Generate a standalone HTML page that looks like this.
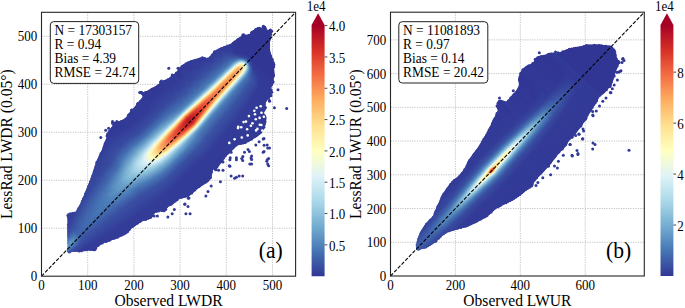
<!DOCTYPE html>
<html><head><meta charset="utf-8"><style>
html,body{margin:0;padding:0;background:#fff;width:685px;height:308px;overflow:hidden}
canvas,svg{position:absolute;left:0;top:0}
text{font-family:"Liberation Serif",serif;fill:#000}
</style></head><body>
<svg width="685" height="308"><g stroke="#b4b4b4" stroke-width="0.8" stroke-dasharray="1.2 1.2"><line x1="87.7" y1="12.3" x2="87.7" y2="276.2"/><line x1="133.9" y1="12.3" x2="133.9" y2="276.2"/><line x1="180.1" y1="12.3" x2="180.1" y2="276.2"/><line x1="226.3" y1="12.3" x2="226.3" y2="276.2"/><line x1="272.5" y1="12.3" x2="272.5" y2="276.2"/><line x1="41.5" y1="228.22" x2="295.6" y2="228.22"/><line x1="41.5" y1="180.24" x2="295.6" y2="180.24"/><line x1="41.5" y1="132.25" x2="295.6" y2="132.25"/><line x1="41.5" y1="84.27" x2="295.6" y2="84.27"/><line x1="41.5" y1="36.29" x2="295.6" y2="36.29"/><line x1="455.41" y1="12.2" x2="455.41" y2="276.0"/><line x1="520.32" y1="12.2" x2="520.32" y2="276.0"/><line x1="585.23" y1="12.2" x2="585.23" y2="276.0"/><line x1="390.5" y1="242.27" x2="644.3" y2="242.27"/><line x1="390.5" y1="208.53" x2="644.3" y2="208.53"/><line x1="390.5" y1="174.8" x2="644.3" y2="174.8"/><line x1="390.5" y1="141.06" x2="644.3" y2="141.06"/><line x1="390.5" y1="107.33" x2="644.3" y2="107.33"/><line x1="390.5" y1="73.6" x2="644.3" y2="73.6"/><line x1="390.5" y1="39.86" x2="644.3" y2="39.86"/></g></svg>
<svg width="685" height="308"><defs><linearGradient id="a0" x2="0" y2="1"><stop offset="0" stop-color="#313695"/><stop offset="0.589" stop-color="#313695"/><stop offset="1" stop-color="#313695"/></linearGradient><linearGradient id="a1" x2="0" y2="1"><stop offset="0" stop-color="#313695"/><stop offset="0.497" stop-color="#333b97"/><stop offset="1" stop-color="#313695"/></linearGradient><linearGradient id="a2" x2="0" y2="1"><stop offset="0" stop-color="#313695"/><stop offset="0.489" stop-color="#333b98"/><stop offset="1" stop-color="#313695"/></linearGradient><linearGradient id="a3" x2="0" y2="1"><stop offset="0" stop-color="#313695"/><stop offset="0.484" stop-color="#333b97"/><stop offset="0.532" stop-color="#333c98"/><stop offset="0.753" stop-color="#313695"/><stop offset="1" stop-color="#313695"/></linearGradient><linearGradient id="a4" x2="0" y2="1"><stop offset="0" stop-color="#313695"/><stop offset="0.482" stop-color="#333b98"/><stop offset="0.526" stop-color="#343f99"/><stop offset="0.621" stop-color="#313695"/><stop offset="1" stop-color="#313695"/></linearGradient><linearGradient id="a5" x2="0" y2="1"><stop offset="0" stop-color="#313695"/><stop offset="0.479" stop-color="#333b98"/><stop offset="0.524" stop-color="#34419a"/><stop offset="0.597" stop-color="#313795"/><stop offset="1" stop-color="#313695"/></linearGradient><linearGradient id="a6" x2="0" y2="1"><stop offset="0" stop-color="#313695"/><stop offset="0.476" stop-color="#333b98"/><stop offset="0.521" stop-color="#35439b"/><stop offset="0.587" stop-color="#313796"/><stop offset="1" stop-color="#313695"/></linearGradient><linearGradient id="a7" x2="0" y2="1"><stop offset="0" stop-color="#313695"/><stop offset="0.474" stop-color="#333b98"/><stop offset="0.518" stop-color="#36459d"/><stop offset="0.582" stop-color="#313896"/><stop offset="1" stop-color="#313695"/></linearGradient><linearGradient id="a8" x2="0" y2="1"><stop offset="0" stop-color="#313695"/><stop offset="0.474" stop-color="#333c98"/><stop offset="0.518" stop-color="#36479d"/><stop offset="0.576" stop-color="#323896"/><stop offset="1" stop-color="#313695"/></linearGradient><linearGradient id="a9" x2="0" y2="1"><stop offset="0" stop-color="#313695"/><stop offset="0.471" stop-color="#333b98"/><stop offset="0.516" stop-color="#37499e"/><stop offset="0.574" stop-color="#323896"/><stop offset="1" stop-color="#313695"/></linearGradient><linearGradient id="a10" x2="0" y2="1"><stop offset="0" stop-color="#313695"/><stop offset="0.468" stop-color="#333b98"/><stop offset="0.516" stop-color="#384b9f"/><stop offset="0.571" stop-color="#323996"/><stop offset="1" stop-color="#313695"/></linearGradient><linearGradient id="a11" x2="0" y2="1"><stop offset="0" stop-color="#313695"/><stop offset="0.466" stop-color="#333b98"/><stop offset="0.513" stop-color="#3a52a3"/><stop offset="0.566" stop-color="#323997"/><stop offset="1" stop-color="#313695"/></linearGradient><linearGradient id="a12" x2="0" y2="1"><stop offset="0" stop-color="#313695"/><stop offset="0.463" stop-color="#333b98"/><stop offset="0.492" stop-color="#3950a2"/><stop offset="0.513" stop-color="#3e5da8"/><stop offset="0.555" stop-color="#333c98"/><stop offset="0.955" stop-color="#313695"/><stop offset="1" stop-color="#313695"/></linearGradient><linearGradient id="a13" x2="0" y2="1"><stop offset="0" stop-color="#313695"/><stop offset="0.461" stop-color="#333b97"/><stop offset="0.487" stop-color="#394fa1"/><stop offset="0.508" stop-color="#4169ae"/><stop offset="0.524" stop-color="#3e5fa9"/><stop offset="0.55" stop-color="#34409a"/><stop offset="0.632" stop-color="#313796"/><stop offset="1" stop-color="#313695"/></linearGradient><linearGradient id="a14" x2="0" y2="1"><stop offset="0" stop-color="#313695"/><stop offset="0.461" stop-color="#333c98"/><stop offset="0.484" stop-color="#394fa1"/><stop offset="0.508" stop-color="#4574b4"/><stop offset="0.521" stop-color="#426caf"/><stop offset="0.547" stop-color="#35439b"/><stop offset="0.589" stop-color="#323896"/><stop offset="1" stop-color="#313695"/></linearGradient><linearGradient id="a15" x2="0" y2="1"><stop offset="0" stop-color="#313695"/><stop offset="0.458" stop-color="#333b98"/><stop offset="0.482" stop-color="#394ea1"/><stop offset="0.505" stop-color="#4b7db8"/><stop offset="0.516" stop-color="#4b7db8"/><stop offset="0.545" stop-color="#36479d"/><stop offset="0.574" stop-color="#323a97"/><stop offset="1" stop-color="#313695"/></linearGradient><linearGradient id="a16" x2="0" y2="1"><stop offset="0" stop-color="#313695"/><stop offset="0.458" stop-color="#333c98"/><stop offset="0.479" stop-color="#384ca0"/><stop offset="0.5" stop-color="#4c7db8"/><stop offset="0.511" stop-color="#578abf"/><stop offset="0.521" stop-color="#4c7db8"/><stop offset="0.542" stop-color="#384da0"/><stop offset="0.566" stop-color="#333b98"/><stop offset="1" stop-color="#313695"/></linearGradient><linearGradient id="a17" x2="0" y2="1"><stop offset="0" stop-color="#313695"/><stop offset="0.455" stop-color="#333c98"/><stop offset="0.479" stop-color="#394fa1"/><stop offset="0.497" stop-color="#4a7bb7"/><stop offset="0.508" stop-color="#598dc1"/><stop offset="0.518" stop-color="#5486bd"/><stop offset="0.532" stop-color="#4065ac"/><stop offset="0.55" stop-color="#36459c"/><stop offset="0.587" stop-color="#323997"/><stop offset="1" stop-color="#313695"/></linearGradient><linearGradient id="a18" x2="0" y2="1"><stop offset="0" stop-color="#313695"/><stop offset="0.453" stop-color="#333c98"/><stop offset="0.476" stop-color="#384da0"/><stop offset="0.495" stop-color="#4778b5"/><stop offset="0.508" stop-color="#5d92c3"/><stop offset="0.518" stop-color="#578bbf"/><stop offset="0.534" stop-color="#3f62ab"/><stop offset="0.553" stop-color="#36449c"/><stop offset="0.592" stop-color="#323997"/><stop offset="1" stop-color="#313695"/></linearGradient><linearGradient id="a19" x2="0" y2="1"><stop offset="0" stop-color="#313695"/><stop offset="0.45" stop-color="#333b98"/><stop offset="0.474" stop-color="#384ca0"/><stop offset="0.492" stop-color="#4574b4"/><stop offset="0.508" stop-color="#6196c5"/><stop offset="0.518" stop-color="#5b8fc1"/><stop offset="0.532" stop-color="#426db0"/><stop offset="0.55" stop-color="#37499e"/><stop offset="0.579" stop-color="#323b97"/><stop offset="1" stop-color="#313695"/></linearGradient><linearGradient id="a20" x2="0" y2="1"><stop offset="0" stop-color="#313695"/><stop offset="0.447" stop-color="#333b98"/><stop offset="0.474" stop-color="#394ea1"/><stop offset="0.492" stop-color="#4778b5"/><stop offset="0.505" stop-color="#6298c6"/><stop offset="0.516" stop-color="#6298c6"/><stop offset="0.534" stop-color="#4169ae"/><stop offset="0.553" stop-color="#37489e"/><stop offset="0.584" stop-color="#323a97"/><stop offset="1" stop-color="#313695"/></linearGradient><linearGradient id="a21" x2="0" y2="1"><stop offset="0" stop-color="#313695"/><stop offset="0.445" stop-color="#333b98"/><stop offset="0.474" stop-color="#394ea1"/><stop offset="0.495" stop-color="#4878b6"/><stop offset="0.508" stop-color="#5c90c2"/><stop offset="0.518" stop-color="#598cc0"/><stop offset="0.537" stop-color="#4064ac"/><stop offset="0.558" stop-color="#36469d"/><stop offset="0.6" stop-color="#323997"/><stop offset="1" stop-color="#313695"/></linearGradient><linearGradient id="a22" x2="0" y2="1"><stop offset="0" stop-color="#313695"/><stop offset="0.442" stop-color="#333b98"/><stop offset="0.474" stop-color="#394ea1"/><stop offset="0.5" stop-color="#4b7cb7"/><stop offset="0.513" stop-color="#5588be"/><stop offset="0.529" stop-color="#4575b4"/><stop offset="0.553" stop-color="#384da0"/><stop offset="0.584" stop-color="#333c98"/><stop offset="1" stop-color="#313695"/></linearGradient><linearGradient id="a23" x2="0" y2="1"><stop offset="0" stop-color="#313695"/><stop offset="0.439" stop-color="#333b98"/><stop offset="0.474" stop-color="#394ea1"/><stop offset="0.511" stop-color="#4c7db8"/><stop offset="0.526" stop-color="#4575b4"/><stop offset="0.558" stop-color="#374a9f"/><stop offset="0.597" stop-color="#323a97"/><stop offset="1" stop-color="#313695"/></linearGradient><linearGradient id="a24" x2="0" y2="1"><stop offset="0" stop-color="#313695"/><stop offset="0.437" stop-color="#333b98"/><stop offset="0.474" stop-color="#384ea1"/><stop offset="0.511" stop-color="#4574b3"/><stop offset="0.529" stop-color="#426baf"/><stop offset="0.568" stop-color="#36449c"/><stop offset="0.634" stop-color="#323896"/><stop offset="1" stop-color="#313695"/></linearGradient><linearGradient id="a25" x2="0" y2="1"><stop offset="0" stop-color="#313695"/><stop offset="0.434" stop-color="#333b98"/><stop offset="0.476" stop-color="#394fa1"/><stop offset="0.513" stop-color="#416aae"/><stop offset="0.542" stop-color="#3c5aa7"/><stop offset="0.584" stop-color="#343f9a"/><stop offset="0.771" stop-color="#313695"/><stop offset="1" stop-color="#313695"/></linearGradient><linearGradient id="a26" x2="0" y2="1"><stop offset="0" stop-color="#313695"/><stop offset="0.432" stop-color="#333c98"/><stop offset="0.479" stop-color="#3a51a2"/><stop offset="0.516" stop-color="#4065ac"/><stop offset="0.553" stop-color="#3a52a3"/><stop offset="0.6" stop-color="#333d98"/><stop offset="0.932" stop-color="#313695"/><stop offset="1" stop-color="#313695"/></linearGradient><linearGradient id="a27" x2="0" y2="1"><stop offset="0" stop-color="#313695"/><stop offset="0.429" stop-color="#333c98"/><stop offset="0.476" stop-color="#3950a2"/><stop offset="0.516" stop-color="#4066ad"/><stop offset="0.553" stop-color="#3b54a4"/><stop offset="0.6" stop-color="#333d99"/><stop offset="0.863" stop-color="#313695"/><stop offset="1" stop-color="#313695"/></linearGradient><linearGradient id="a28" x2="0" y2="1"><stop offset="0" stop-color="#313695"/><stop offset="0.424" stop-color="#333b98"/><stop offset="0.474" stop-color="#394fa2"/><stop offset="0.516" stop-color="#4167ad"/><stop offset="0.55" stop-color="#3c58a6"/><stop offset="0.6" stop-color="#343e99"/><stop offset="0.821" stop-color="#313695"/><stop offset="1" stop-color="#313695"/></linearGradient><linearGradient id="a29" x2="0" y2="1"><stop offset="0" stop-color="#313695"/><stop offset="0.421" stop-color="#333c98"/><stop offset="0.471" stop-color="#394fa1"/><stop offset="0.516" stop-color="#4169ae"/><stop offset="0.55" stop-color="#3d5ba7"/><stop offset="0.6" stop-color="#343f9a"/><stop offset="0.789" stop-color="#313695"/><stop offset="1" stop-color="#313695"/></linearGradient><linearGradient id="a30" x2="0" y2="1"><stop offset="0" stop-color="#313695"/><stop offset="0.418" stop-color="#333c98"/><stop offset="0.471" stop-color="#3950a2"/><stop offset="0.516" stop-color="#416aaf"/><stop offset="0.55" stop-color="#3d5da8"/><stop offset="0.603" stop-color="#34409a"/><stop offset="0.784" stop-color="#313695"/><stop offset="1" stop-color="#313695"/></linearGradient><linearGradient id="a31" x2="0" y2="1"><stop offset="0" stop-color="#313695"/><stop offset="0.416" stop-color="#333c98"/><stop offset="0.468" stop-color="#394fa1"/><stop offset="0.516" stop-color="#426baf"/><stop offset="0.55" stop-color="#3e5fa9"/><stop offset="0.605" stop-color="#34409a"/><stop offset="0.782" stop-color="#313695"/><stop offset="1" stop-color="#313695"/></linearGradient><linearGradient id="a32" x2="0" y2="1"><stop offset="0" stop-color="#313695"/><stop offset="0.411" stop-color="#333c98"/><stop offset="0.466" stop-color="#394fa1"/><stop offset="0.516" stop-color="#426cb0"/><stop offset="0.55" stop-color="#3f61aa"/><stop offset="0.605" stop-color="#35419b"/><stop offset="0.761" stop-color="#313695"/><stop offset="1" stop-color="#313695"/></linearGradient><linearGradient id="a33" x2="0" y2="1"><stop offset="0" stop-color="#313695"/><stop offset="0.408" stop-color="#333c98"/><stop offset="0.463" stop-color="#394ea1"/><stop offset="0.516" stop-color="#436eb0"/><stop offset="0.55" stop-color="#3f63ab"/><stop offset="0.608" stop-color="#35429b"/><stop offset="0.761" stop-color="#313695"/><stop offset="1" stop-color="#313695"/></linearGradient><linearGradient id="a34" x2="0" y2="1"><stop offset="0" stop-color="#313695"/><stop offset="0.405" stop-color="#333c98"/><stop offset="0.463" stop-color="#394fa1"/><stop offset="0.516" stop-color="#436fb1"/><stop offset="0.55" stop-color="#4065ac"/><stop offset="0.611" stop-color="#35429b"/><stop offset="0.758" stop-color="#313695"/><stop offset="1" stop-color="#313695"/></linearGradient><linearGradient id="a35" x2="0" y2="1"><stop offset="0" stop-color="#313695"/><stop offset="0.403" stop-color="#333c98"/><stop offset="0.461" stop-color="#394fa1"/><stop offset="0.516" stop-color="#4370b1"/><stop offset="0.55" stop-color="#4067ad"/><stop offset="0.613" stop-color="#35429b"/><stop offset="0.758" stop-color="#313695"/><stop offset="1" stop-color="#313695"/></linearGradient><linearGradient id="a36" x2="0" y2="1"><stop offset="0" stop-color="#313695"/><stop offset="0.4" stop-color="#333c98"/><stop offset="0.461" stop-color="#3950a2"/><stop offset="0.516" stop-color="#4471b2"/><stop offset="0.55" stop-color="#4169ae"/><stop offset="0.616" stop-color="#35439b"/><stop offset="0.758" stop-color="#313695"/><stop offset="1" stop-color="#313695"/></linearGradient><linearGradient id="a37" x2="0" y2="1"><stop offset="0" stop-color="#313695"/><stop offset="0.397" stop-color="#333c98"/><stop offset="0.458" stop-color="#394fa1"/><stop offset="0.518" stop-color="#4473b3"/><stop offset="0.555" stop-color="#4167ad"/><stop offset="0.618" stop-color="#35439b"/><stop offset="0.758" stop-color="#313695"/><stop offset="1" stop-color="#313695"/></linearGradient><linearGradient id="a38" x2="0" y2="1"><stop offset="0" stop-color="#313695"/><stop offset="0.395" stop-color="#333c98"/><stop offset="0.458" stop-color="#3950a2"/><stop offset="0.518" stop-color="#4574b3"/><stop offset="0.555" stop-color="#4169ae"/><stop offset="0.618" stop-color="#35449c"/><stop offset="0.747" stop-color="#313795"/><stop offset="1" stop-color="#313695"/></linearGradient><linearGradient id="a39" x2="0" y2="1"><stop offset="0" stop-color="#313695"/><stop offset="0.392" stop-color="#333c98"/><stop offset="0.455" stop-color="#3950a2"/><stop offset="0.518" stop-color="#4575b4"/><stop offset="0.555" stop-color="#426baf"/><stop offset="0.621" stop-color="#36449c"/><stop offset="0.75" stop-color="#313795"/><stop offset="1" stop-color="#313695"/></linearGradient><linearGradient id="a40" x2="0" y2="1"><stop offset="0" stop-color="#313695"/><stop offset="0.389" stop-color="#333c98"/><stop offset="0.455" stop-color="#3950a2"/><stop offset="0.518" stop-color="#4676b5"/><stop offset="0.555" stop-color="#426cb0"/><stop offset="0.621" stop-color="#36459c"/><stop offset="0.742" stop-color="#313796"/><stop offset="1" stop-color="#313695"/></linearGradient><linearGradient id="a41" x2="0" y2="1"><stop offset="0" stop-color="#313695"/><stop offset="0.387" stop-color="#333c98"/><stop offset="0.453" stop-color="#3950a2"/><stop offset="0.518" stop-color="#4778b5"/><stop offset="0.555" stop-color="#436eb1"/><stop offset="0.624" stop-color="#36459d"/><stop offset="0.747" stop-color="#313795"/><stop offset="1" stop-color="#313695"/></linearGradient><linearGradient id="a42" x2="0" y2="1"><stop offset="0" stop-color="#313695"/><stop offset="0.384" stop-color="#333c98"/><stop offset="0.45" stop-color="#394fa1"/><stop offset="0.518" stop-color="#4879b6"/><stop offset="0.555" stop-color="#4370b2"/><stop offset="0.624" stop-color="#36469d"/><stop offset="0.739" stop-color="#313796"/><stop offset="1" stop-color="#313695"/></linearGradient><linearGradient id="a43" x2="0" y2="1"><stop offset="0" stop-color="#313695"/><stop offset="0.382" stop-color="#333c98"/><stop offset="0.45" stop-color="#3950a2"/><stop offset="0.516" stop-color="#4979b6"/><stop offset="0.553" stop-color="#4473b3"/><stop offset="0.626" stop-color="#36469d"/><stop offset="0.745" stop-color="#313796"/><stop offset="1" stop-color="#313695"/></linearGradient><linearGradient id="a44" x2="0" y2="1"><stop offset="0" stop-color="#313695"/><stop offset="0.379" stop-color="#333c98"/><stop offset="0.447" stop-color="#394fa2"/><stop offset="0.516" stop-color="#497ab7"/><stop offset="0.553" stop-color="#4575b4"/><stop offset="0.629" stop-color="#36479d"/><stop offset="0.747" stop-color="#313796"/><stop offset="1" stop-color="#313695"/></linearGradient><linearGradient id="a45" x2="0" y2="1"><stop offset="0" stop-color="#313695"/><stop offset="0.376" stop-color="#333c98"/><stop offset="0.447" stop-color="#3950a2"/><stop offset="0.516" stop-color="#4a7bb7"/><stop offset="0.553" stop-color="#4677b5"/><stop offset="0.629" stop-color="#37489e"/><stop offset="0.742" stop-color="#323896"/><stop offset="1" stop-color="#313695"/></linearGradient><linearGradient id="a46" x2="0" y2="1"><stop offset="0" stop-color="#313695"/><stop offset="0.374" stop-color="#333c98"/><stop offset="0.445" stop-color="#3950a2"/><stop offset="0.516" stop-color="#4b7db8"/><stop offset="0.553" stop-color="#4878b6"/><stop offset="0.632" stop-color="#37489e"/><stop offset="0.747" stop-color="#323896"/><stop offset="1" stop-color="#313695"/></linearGradient><linearGradient id="a47" x2="0" y2="1"><stop offset="0" stop-color="#313695"/><stop offset="0.371" stop-color="#333c98"/><stop offset="0.445" stop-color="#3951a2"/><stop offset="0.516" stop-color="#4c7eb8"/><stop offset="0.553" stop-color="#497ab6"/><stop offset="0.634" stop-color="#37489e"/><stop offset="0.75" stop-color="#323896"/><stop offset="1" stop-color="#313695"/></linearGradient><linearGradient id="a48" x2="0" y2="1"><stop offset="0" stop-color="#313695"/><stop offset="0.368" stop-color="#333c98"/><stop offset="0.442" stop-color="#3950a2"/><stop offset="0.518" stop-color="#4e80ba"/><stop offset="0.555" stop-color="#497ab7"/><stop offset="0.634" stop-color="#37499e"/><stop offset="0.745" stop-color="#323896"/><stop offset="1" stop-color="#313695"/></linearGradient><linearGradient id="a49" x2="0" y2="1"><stop offset="0" stop-color="#313695"/><stop offset="0.368" stop-color="#333c98"/><stop offset="0.442" stop-color="#3951a2"/><stop offset="0.518" stop-color="#5183bb"/><stop offset="0.553" stop-color="#4d7eb9"/><stop offset="0.634" stop-color="#37499f"/><stop offset="0.742" stop-color="#323896"/><stop offset="1" stop-color="#313695"/></linearGradient><linearGradient id="a50" x2="0" y2="1"><stop offset="0" stop-color="#313695"/><stop offset="0.366" stop-color="#333c98"/><stop offset="0.439" stop-color="#3950a2"/><stop offset="0.503" stop-color="#4d7eb9"/><stop offset="0.537" stop-color="#5487bd"/><stop offset="0.587" stop-color="#4167ad"/><stop offset="0.645" stop-color="#36469d"/><stop offset="0.774" stop-color="#313796"/><stop offset="1" stop-color="#313695"/></linearGradient><linearGradient id="a51" x2="0" y2="1"><stop offset="0" stop-color="#313695"/><stop offset="0.363" stop-color="#333c98"/><stop offset="0.439" stop-color="#3a51a2"/><stop offset="0.497" stop-color="#4c7db8"/><stop offset="0.532" stop-color="#578bbf"/><stop offset="0.571" stop-color="#4677b5"/><stop offset="0.632" stop-color="#384ca0"/><stop offset="0.729" stop-color="#323997"/><stop offset="1" stop-color="#313695"/></linearGradient><linearGradient id="a52" x2="0" y2="1"><stop offset="0" stop-color="#313695"/><stop offset="0.361" stop-color="#333c98"/><stop offset="0.437" stop-color="#3950a2"/><stop offset="0.495" stop-color="#4c7eb8"/><stop offset="0.532" stop-color="#5a8ec1"/><stop offset="0.571" stop-color="#4979b6"/><stop offset="0.629" stop-color="#394ea1"/><stop offset="0.716" stop-color="#323b97"/><stop offset="1" stop-color="#313695"/></linearGradient><linearGradient id="a53" x2="0" y2="1"><stop offset="0" stop-color="#313695"/><stop offset="0.361" stop-color="#333c98"/><stop offset="0.437" stop-color="#3a51a2"/><stop offset="0.492" stop-color="#4d7eb9"/><stop offset="0.529" stop-color="#5d91c3"/><stop offset="0.563" stop-color="#5083bb"/><stop offset="0.603" stop-color="#3e60aa"/><stop offset="0.658" stop-color="#36449c"/><stop offset="0.803" stop-color="#313795"/><stop offset="1" stop-color="#313695"/></linearGradient><linearGradient id="a54" x2="0" y2="1"><stop offset="0" stop-color="#313695"/><stop offset="0.358" stop-color="#333c98"/><stop offset="0.434" stop-color="#3951a2"/><stop offset="0.487" stop-color="#4b7cb8"/><stop offset="0.526" stop-color="#5f94c4"/><stop offset="0.561" stop-color="#5588be"/><stop offset="0.6" stop-color="#4064ac"/><stop offset="0.653" stop-color="#36469d"/><stop offset="0.784" stop-color="#313796"/><stop offset="1" stop-color="#313695"/></linearGradient><linearGradient id="a55" x2="0" y2="1"><stop offset="0" stop-color="#313695"/><stop offset="0.355" stop-color="#333c98"/><stop offset="0.432" stop-color="#3950a2"/><stop offset="0.484" stop-color="#4b7cb8"/><stop offset="0.524" stop-color="#6197c5"/><stop offset="0.555" stop-color="#5b8fc1"/><stop offset="0.6" stop-color="#4066ad"/><stop offset="0.65" stop-color="#37489e"/><stop offset="0.771" stop-color="#323896"/><stop offset="1" stop-color="#313695"/></linearGradient><linearGradient id="a56" x2="0" y2="1"><stop offset="0" stop-color="#313695"/><stop offset="0.355" stop-color="#333c98"/><stop offset="0.429" stop-color="#3950a2"/><stop offset="0.482" stop-color="#4b7cb8"/><stop offset="0.524" stop-color="#649ac7"/><stop offset="0.555" stop-color="#5d92c3"/><stop offset="0.603" stop-color="#4067ad"/><stop offset="0.653" stop-color="#37489e"/><stop offset="0.774" stop-color="#313896"/><stop offset="1" stop-color="#313695"/></linearGradient><linearGradient id="a57" x2="0" y2="1"><stop offset="0" stop-color="#313695"/><stop offset="0.353" stop-color="#333c98"/><stop offset="0.426" stop-color="#3950a2"/><stop offset="0.479" stop-color="#4b7cb8"/><stop offset="0.521" stop-color="#669cc8"/><stop offset="0.553" stop-color="#6197c6"/><stop offset="0.603" stop-color="#4169ae"/><stop offset="0.653" stop-color="#37499e"/><stop offset="0.766" stop-color="#323896"/><stop offset="1" stop-color="#313695"/></linearGradient><linearGradient id="a58" x2="0" y2="1"><stop offset="0" stop-color="#313695"/><stop offset="0.35" stop-color="#333c98"/><stop offset="0.424" stop-color="#3950a2"/><stop offset="0.476" stop-color="#4b7cb8"/><stop offset="0.521" stop-color="#689fca"/><stop offset="0.553" stop-color="#649ac7"/><stop offset="0.605" stop-color="#4169ae"/><stop offset="0.655" stop-color="#37499e"/><stop offset="0.766" stop-color="#323896"/><stop offset="1" stop-color="#313695"/></linearGradient><linearGradient id="a59" x2="0" y2="1"><stop offset="0" stop-color="#313695"/><stop offset="0.35" stop-color="#333d98"/><stop offset="0.424" stop-color="#3950a2"/><stop offset="0.474" stop-color="#4b7cb8"/><stop offset="0.518" stop-color="#6ba3cc"/><stop offset="0.55" stop-color="#69a0ca"/><stop offset="0.608" stop-color="#4168ae"/><stop offset="0.655" stop-color="#37499e"/><stop offset="0.766" stop-color="#323896"/><stop offset="1" stop-color="#313695"/></linearGradient><linearGradient id="a60" x2="0" y2="1"><stop offset="0" stop-color="#313695"/><stop offset="0.347" stop-color="#333c98"/><stop offset="0.424" stop-color="#3950a2"/><stop offset="0.466" stop-color="#4575b4"/><stop offset="0.516" stop-color="#6fa7ce"/><stop offset="0.545" stop-color="#70a9cf"/><stop offset="0.584" stop-color="#5284bc"/><stop offset="0.611" stop-color="#4066ad"/><stop offset="0.655" stop-color="#37499e"/><stop offset="0.771" stop-color="#323896"/><stop offset="1" stop-color="#313695"/></linearGradient><linearGradient id="a61" x2="0" y2="1"><stop offset="0" stop-color="#313695"/><stop offset="0.345" stop-color="#333c98"/><stop offset="0.424" stop-color="#3a51a2"/><stop offset="0.463" stop-color="#4574b3"/><stop offset="0.513" stop-color="#73acd0"/><stop offset="0.542" stop-color="#77afd2"/><stop offset="0.574" stop-color="#5f94c4"/><stop offset="0.605" stop-color="#436db0"/><stop offset="0.647" stop-color="#384da0"/><stop offset="0.742" stop-color="#323a97"/><stop offset="1" stop-color="#313695"/></linearGradient><linearGradient id="a62" x2="0" y2="1"><stop offset="0" stop-color="#313695"/><stop offset="0.342" stop-color="#333c98"/><stop offset="0.421" stop-color="#3a51a2"/><stop offset="0.461" stop-color="#4473b3"/><stop offset="0.511" stop-color="#77afd2"/><stop offset="0.539" stop-color="#7eb5d5"/><stop offset="0.566" stop-color="#6ba2cb"/><stop offset="0.605" stop-color="#4370b1"/><stop offset="0.647" stop-color="#394fa1"/><stop offset="0.737" stop-color="#323b97"/><stop offset="1" stop-color="#313695"/></linearGradient><linearGradient id="a63" x2="0" y2="1"><stop offset="0" stop-color="#313695"/><stop offset="0.339" stop-color="#333c98"/><stop offset="0.416" stop-color="#3951a2"/><stop offset="0.458" stop-color="#4473b3"/><stop offset="0.511" stop-color="#7cb4d5"/><stop offset="0.537" stop-color="#84bad8"/><stop offset="0.566" stop-color="#6fa7ce"/><stop offset="0.608" stop-color="#4370b1"/><stop offset="0.653" stop-color="#394ea1"/><stop offset="0.742" stop-color="#323a97"/><stop offset="1" stop-color="#313695"/></linearGradient><linearGradient id="a64" x2="0" y2="1"><stop offset="0" stop-color="#313695"/><stop offset="0.339" stop-color="#333d98"/><stop offset="0.413" stop-color="#3a51a2"/><stop offset="0.461" stop-color="#497ab6"/><stop offset="0.508" stop-color="#7fb6d6"/><stop offset="0.534" stop-color="#8bbfdb"/><stop offset="0.561" stop-color="#7ab2d4"/><stop offset="0.611" stop-color="#4471b2"/><stop offset="0.658" stop-color="#384da1"/><stop offset="0.745" stop-color="#323a97"/><stop offset="1" stop-color="#313695"/></linearGradient><linearGradient id="a65" x2="0" y2="1"><stop offset="0" stop-color="#313695"/><stop offset="0.337" stop-color="#333d98"/><stop offset="0.408" stop-color="#3951a2"/><stop offset="0.458" stop-color="#4a7bb7"/><stop offset="0.508" stop-color="#85bbd8"/><stop offset="0.534" stop-color="#91c4de"/><stop offset="0.561" stop-color="#7fb6d6"/><stop offset="0.611" stop-color="#4676b4"/><stop offset="0.658" stop-color="#394fa1"/><stop offset="0.737" stop-color="#333b98"/><stop offset="1" stop-color="#313695"/></linearGradient><linearGradient id="a66" x2="0" y2="1"><stop offset="0" stop-color="#313695"/><stop offset="0.334" stop-color="#333c98"/><stop offset="0.405" stop-color="#3a51a2"/><stop offset="0.453" stop-color="#4a7bb7"/><stop offset="0.511" stop-color="#8dc1dc"/><stop offset="0.537" stop-color="#96c9e0"/><stop offset="0.563" stop-color="#81b8d7"/><stop offset="0.616" stop-color="#4575b4"/><stop offset="0.663" stop-color="#394ea1"/><stop offset="0.745" stop-color="#323b97"/><stop offset="1" stop-color="#313695"/></linearGradient><linearGradient id="a67" x2="0" y2="1"><stop offset="0" stop-color="#313695"/><stop offset="0.332" stop-color="#333c98"/><stop offset="0.403" stop-color="#3a51a2"/><stop offset="0.45" stop-color="#4c7db8"/><stop offset="0.511" stop-color="#93c6df"/><stop offset="0.537" stop-color="#9ccde3"/><stop offset="0.563" stop-color="#87bcd9"/><stop offset="0.618" stop-color="#4777b5"/><stop offset="0.663" stop-color="#3950a2"/><stop offset="0.737" stop-color="#333c98"/><stop offset="1" stop-color="#313695"/></linearGradient><linearGradient id="a68" x2="0" y2="1"><stop offset="0" stop-color="#313695"/><stop offset="0.332" stop-color="#333d98"/><stop offset="0.4" stop-color="#3a51a3"/><stop offset="0.445" stop-color="#4a7bb7"/><stop offset="0.5" stop-color="#8ec2dd"/><stop offset="0.524" stop-color="#a3d3e6"/><stop offset="0.55" stop-color="#9ccde3"/><stop offset="0.597" stop-color="#6095c4"/><stop offset="0.629" stop-color="#436eb0"/><stop offset="0.674" stop-color="#384b9f"/><stop offset="0.761" stop-color="#323a97"/><stop offset="1" stop-color="#313695"/></linearGradient><linearGradient id="a69" x2="0" y2="1"><stop offset="0" stop-color="#313695"/><stop offset="0.332" stop-color="#333d98"/><stop offset="0.397" stop-color="#3a51a2"/><stop offset="0.442" stop-color="#4b7cb8"/><stop offset="0.489" stop-color="#87bcd9"/><stop offset="0.516" stop-color="#a9d7e8"/><stop offset="0.542" stop-color="#aad8e9"/><stop offset="0.571" stop-color="#86bcd9"/><stop offset="0.621" stop-color="#4878b6"/><stop offset="0.663" stop-color="#3951a2"/><stop offset="0.732" stop-color="#333c98"/><stop offset="1" stop-color="#313695"/></linearGradient><linearGradient id="a70" x2="0" y2="1"><stop offset="0" stop-color="#313695"/><stop offset="0.329" stop-color="#333c98"/><stop offset="0.395" stop-color="#3a51a2"/><stop offset="0.437" stop-color="#4979b6"/><stop offset="0.484" stop-color="#86bcd9"/><stop offset="0.513" stop-color="#b0dcea"/><stop offset="0.537" stop-color="#b5deec"/><stop offset="0.558" stop-color="#a0d0e4"/><stop offset="0.603" stop-color="#5d92c3"/><stop offset="0.632" stop-color="#426cb0"/><stop offset="0.674" stop-color="#384b9f"/><stop offset="0.755" stop-color="#323a97"/><stop offset="1" stop-color="#313695"/></linearGradient><linearGradient id="a71" x2="0" y2="1"><stop offset="0" stop-color="#313695"/><stop offset="0.329" stop-color="#333c98"/><stop offset="0.392" stop-color="#3951a2"/><stop offset="0.434" stop-color="#497ab6"/><stop offset="0.479" stop-color="#85bad8"/><stop offset="0.508" stop-color="#b4deec"/><stop offset="0.532" stop-color="#bfe3ef"/><stop offset="0.553" stop-color="#aedbea"/><stop offset="0.6" stop-color="#6298c6"/><stop offset="0.632" stop-color="#426db0"/><stop offset="0.674" stop-color="#384b9f"/><stop offset="0.753" stop-color="#323a97"/><stop offset="1" stop-color="#313695"/></linearGradient><linearGradient id="a72" x2="0" y2="1"><stop offset="0" stop-color="#313695"/><stop offset="0.329" stop-color="#333c98"/><stop offset="0.389" stop-color="#3950a2"/><stop offset="0.432" stop-color="#497ab7"/><stop offset="0.476" stop-color="#87bcd9"/><stop offset="0.503" stop-color="#b7dfec"/><stop offset="0.524" stop-color="#c8e7f1"/><stop offset="0.545" stop-color="#bfe3ef"/><stop offset="0.566" stop-color="#9dcee3"/><stop offset="0.603" stop-color="#6096c5"/><stop offset="0.632" stop-color="#436eb0"/><stop offset="0.674" stop-color="#384b9f"/><stop offset="0.753" stop-color="#323997"/><stop offset="1" stop-color="#313695"/></linearGradient><linearGradient id="a73" x2="0" y2="1"><stop offset="0" stop-color="#313695"/><stop offset="0.329" stop-color="#333d98"/><stop offset="0.389" stop-color="#3a52a3"/><stop offset="0.429" stop-color="#4a7bb7"/><stop offset="0.471" stop-color="#85bad8"/><stop offset="0.497" stop-color="#b8dfed"/><stop offset="0.518" stop-color="#cfebf3"/><stop offset="0.539" stop-color="#cbe9f2"/><stop offset="0.563" stop-color="#a7d5e7"/><stop offset="0.6" stop-color="#669cc8"/><stop offset="0.632" stop-color="#436eb1"/><stop offset="0.671" stop-color="#384ca0"/><stop offset="0.742" stop-color="#323a97"/><stop offset="1" stop-color="#313695"/></linearGradient><linearGradient id="a74" x2="0" y2="1"><stop offset="0" stop-color="#313695"/><stop offset="0.326" stop-color="#333c98"/><stop offset="0.387" stop-color="#3a51a2"/><stop offset="0.426" stop-color="#4a7bb7"/><stop offset="0.468" stop-color="#87bcd9"/><stop offset="0.495" stop-color="#bce1ee"/><stop offset="0.516" stop-color="#d7eff5"/><stop offset="0.537" stop-color="#d5eef5"/><stop offset="0.558" stop-color="#b6deec"/><stop offset="0.597" stop-color="#6ba2cb"/><stop offset="0.632" stop-color="#436fb1"/><stop offset="0.671" stop-color="#384ca0"/><stop offset="0.742" stop-color="#323a97"/><stop offset="1" stop-color="#313695"/></linearGradient><linearGradient id="a75" x2="0" y2="1"><stop offset="0" stop-color="#313695"/><stop offset="0.326" stop-color="#333c98"/><stop offset="0.384" stop-color="#3a51a2"/><stop offset="0.424" stop-color="#4a7bb7"/><stop offset="0.463" stop-color="#84bad8"/><stop offset="0.492" stop-color="#c0e3ef"/><stop offset="0.513" stop-color="#dff2f8"/><stop offset="0.537" stop-color="#ddf1f7"/><stop offset="0.558" stop-color="#bae1ed"/><stop offset="0.597" stop-color="#6da4cc"/><stop offset="0.632" stop-color="#4370b1"/><stop offset="0.671" stop-color="#384ba0"/><stop offset="0.739" stop-color="#323a97"/><stop offset="1" stop-color="#313695"/></linearGradient><linearGradient id="a76" x2="0" y2="1"><stop offset="0" stop-color="#313695"/><stop offset="0.326" stop-color="#333c98"/><stop offset="0.384" stop-color="#3a51a3"/><stop offset="0.421" stop-color="#4979b6"/><stop offset="0.461" stop-color="#84bad8"/><stop offset="0.489" stop-color="#c8e7f1"/><stop offset="0.5" stop-color="#dff3f8"/><stop offset="0.518" stop-color="#ebf7e4"/><stop offset="0.537" stop-color="#e6f5ec"/><stop offset="0.547" stop-color="#daf0f6"/><stop offset="0.574" stop-color="#9acbe2"/><stop offset="0.605" stop-color="#6095c5"/><stop offset="0.632" stop-color="#436eb1"/><stop offset="0.671" stop-color="#374a9f"/><stop offset="0.742" stop-color="#323997"/><stop offset="1" stop-color="#313695"/></linearGradient><linearGradient id="a77" x2="0" y2="1"><stop offset="0" stop-color="#313695"/><stop offset="0.326" stop-color="#333c98"/><stop offset="0.382" stop-color="#3950a2"/><stop offset="0.418" stop-color="#4778b5"/><stop offset="0.455" stop-color="#7fb6d6"/><stop offset="0.484" stop-color="#c7e7f1"/><stop offset="0.492" stop-color="#ddf2f7"/><stop offset="0.511" stop-color="#f2fad6"/><stop offset="0.529" stop-color="#f3fad5"/><stop offset="0.545" stop-color="#e6f5ed"/><stop offset="0.55" stop-color="#ddf1f7"/><stop offset="0.582" stop-color="#89beda"/><stop offset="0.613" stop-color="#5487bd"/><stop offset="0.634" stop-color="#4169ae"/><stop offset="0.674" stop-color="#37489e"/><stop offset="0.753" stop-color="#323896"/><stop offset="1" stop-color="#313695"/></linearGradient><linearGradient id="a78" x2="0" y2="1"><stop offset="0" stop-color="#313695"/><stop offset="0.326" stop-color="#333c98"/><stop offset="0.382" stop-color="#3951a2"/><stop offset="0.418" stop-color="#497ab7"/><stop offset="0.453" stop-color="#7eb5d6"/><stop offset="0.479" stop-color="#c4e5f0"/><stop offset="0.487" stop-color="#ddf2f7"/><stop offset="0.505" stop-color="#f9fdca"/><stop offset="0.521" stop-color="#feffc0"/><stop offset="0.537" stop-color="#f6fccf"/><stop offset="0.553" stop-color="#dcf1f7"/><stop offset="0.579" stop-color="#8fc3dd"/><stop offset="0.605" stop-color="#5e92c3"/><stop offset="0.629" stop-color="#436eb0"/><stop offset="0.666" stop-color="#384b9f"/><stop offset="0.734" stop-color="#323a97"/><stop offset="1" stop-color="#313695"/></linearGradient><linearGradient id="a79" x2="0" y2="1"><stop offset="0" stop-color="#313695"/><stop offset="0.326" stop-color="#333c98"/><stop offset="0.382" stop-color="#3a51a2"/><stop offset="0.418" stop-color="#4b7cb8"/><stop offset="0.45" stop-color="#7eb5d5"/><stop offset="0.474" stop-color="#bee2ee"/><stop offset="0.484" stop-color="#e2f4f4"/><stop offset="0.5" stop-color="#feffc1"/><stop offset="0.516" stop-color="#fff6b2"/><stop offset="0.532" stop-color="#fffbb9"/><stop offset="0.542" stop-color="#f6fbd0"/><stop offset="0.553" stop-color="#e1f3f6"/><stop offset="0.579" stop-color="#8fc2dd"/><stop offset="0.605" stop-color="#5c91c2"/><stop offset="0.626" stop-color="#436fb1"/><stop offset="0.663" stop-color="#384b9f"/><stop offset="0.729" stop-color="#323a97"/><stop offset="1" stop-color="#313695"/></linearGradient><linearGradient id="a80" x2="0" y2="1"><stop offset="0" stop-color="#313695"/><stop offset="0.326" stop-color="#333c98"/><stop offset="0.379" stop-color="#3950a2"/><stop offset="0.413" stop-color="#4676b5"/><stop offset="0.447" stop-color="#7db4d5"/><stop offset="0.468" stop-color="#b7dfec"/><stop offset="0.479" stop-color="#dff2f8"/><stop offset="0.495" stop-color="#fffdbc"/><stop offset="0.508" stop-color="#feefa6"/><stop offset="0.526" stop-color="#feefa6"/><stop offset="0.539" stop-color="#fffebe"/><stop offset="0.555" stop-color="#dcf1f7"/><stop offset="0.576" stop-color="#95c7df"/><stop offset="0.6" stop-color="#6399c6"/><stop offset="0.626" stop-color="#426db0"/><stop offset="0.661" stop-color="#384ba0"/><stop offset="0.724" stop-color="#323a97"/><stop offset="1" stop-color="#313695"/></linearGradient><linearGradient id="a81" x2="0" y2="1"><stop offset="0" stop-color="#313695"/><stop offset="0.326" stop-color="#333c98"/><stop offset="0.379" stop-color="#3950a2"/><stop offset="0.413" stop-color="#4777b5"/><stop offset="0.445" stop-color="#79b1d3"/><stop offset="0.466" stop-color="#b4ddec"/><stop offset="0.476" stop-color="#def2f7"/><stop offset="0.489" stop-color="#ffffbe"/><stop offset="0.503" stop-color="#fee99e"/><stop offset="0.518" stop-color="#fee395"/><stop offset="0.532" stop-color="#feeba1"/><stop offset="0.545" stop-color="#fbfdc7"/><stop offset="0.555" stop-color="#e0f3f8"/><stop offset="0.574" stop-color="#9ccde3"/><stop offset="0.597" stop-color="#669dc9"/><stop offset="0.624" stop-color="#436fb1"/><stop offset="0.658" stop-color="#384ca0"/><stop offset="0.718" stop-color="#323a97"/><stop offset="1" stop-color="#313695"/></linearGradient><linearGradient id="a82" x2="0" y2="1"><stop offset="0" stop-color="#313695"/><stop offset="0.326" stop-color="#333c98"/><stop offset="0.379" stop-color="#3950a2"/><stop offset="0.413" stop-color="#4778b5"/><stop offset="0.445" stop-color="#7cb3d4"/><stop offset="0.466" stop-color="#bae0ed"/><stop offset="0.474" stop-color="#dcf1f7"/><stop offset="0.479" stop-color="#ecf8e2"/><stop offset="0.487" stop-color="#fffdbb"/><stop offset="0.5" stop-color="#fee294"/><stop offset="0.513" stop-color="#fed687"/><stop offset="0.529" stop-color="#fee090"/><stop offset="0.542" stop-color="#fff8b5"/><stop offset="0.545" stop-color="#ffffbf"/><stop offset="0.555" stop-color="#e2f4f4"/><stop offset="0.571" stop-color="#a5d4e6"/><stop offset="0.592" stop-color="#6fa7ce"/><stop offset="0.621" stop-color="#4472b3"/><stop offset="0.655" stop-color="#384da0"/><stop offset="0.713" stop-color="#333b97"/><stop offset="1" stop-color="#313695"/></linearGradient><linearGradient id="a83" x2="0" y2="1"><stop offset="0" stop-color="#313695"/><stop offset="0.326" stop-color="#333c98"/><stop offset="0.379" stop-color="#3950a2"/><stop offset="0.411" stop-color="#4574b4"/><stop offset="0.442" stop-color="#78b0d3"/><stop offset="0.461" stop-color="#acdae9"/><stop offset="0.471" stop-color="#d8eff6"/><stop offset="0.474" stop-color="#e3f4f3"/><stop offset="0.484" stop-color="#fffbba"/><stop offset="0.497" stop-color="#feda8b"/><stop offset="0.511" stop-color="#fec879"/><stop offset="0.526" stop-color="#fecf80"/><stop offset="0.539" stop-color="#feeca3"/><stop offset="0.547" stop-color="#fcfec5"/><stop offset="0.555" stop-color="#e4f4f1"/><stop offset="0.558" stop-color="#daf0f6"/><stop offset="0.574" stop-color="#9ccde2"/><stop offset="0.595" stop-color="#699fca"/><stop offset="0.621" stop-color="#4470b2"/><stop offset="0.655" stop-color="#384ca0"/><stop offset="0.716" stop-color="#323b97"/><stop offset="1" stop-color="#313695"/></linearGradient><linearGradient id="a84" x2="0" y2="1"><stop offset="0" stop-color="#313695"/><stop offset="0.326" stop-color="#333c98"/><stop offset="0.379" stop-color="#3950a2"/><stop offset="0.411" stop-color="#4575b4"/><stop offset="0.442" stop-color="#7ab2d4"/><stop offset="0.461" stop-color="#b2dceb"/><stop offset="0.471" stop-color="#e1f3f7"/><stop offset="0.482" stop-color="#fffcba"/><stop offset="0.495" stop-color="#fed383"/><stop offset="0.505" stop-color="#fdbc6e"/><stop offset="0.521" stop-color="#fdbb6d"/><stop offset="0.532" stop-color="#fece7f"/><stop offset="0.545" stop-color="#fff7b3"/><stop offset="0.547" stop-color="#ffffc0"/><stop offset="0.555" stop-color="#e5f5ef"/><stop offset="0.558" stop-color="#dbf1f7"/><stop offset="0.574" stop-color="#9bcce2"/><stop offset="0.595" stop-color="#679ec9"/><stop offset="0.621" stop-color="#436fb1"/><stop offset="0.655" stop-color="#384ca0"/><stop offset="0.718" stop-color="#323a97"/><stop offset="1" stop-color="#313695"/></linearGradient><linearGradient id="a85" x2="0" y2="1"><stop offset="0" stop-color="#313695"/><stop offset="0.326" stop-color="#333c98"/><stop offset="0.379" stop-color="#3950a2"/><stop offset="0.411" stop-color="#4575b4"/><stop offset="0.442" stop-color="#7cb4d5"/><stop offset="0.461" stop-color="#b7dfec"/><stop offset="0.468" stop-color="#dcf1f7"/><stop offset="0.474" stop-color="#eff9dc"/><stop offset="0.479" stop-color="#fffdbb"/><stop offset="0.492" stop-color="#fecc7d"/><stop offset="0.503" stop-color="#fdb063"/><stop offset="0.516" stop-color="#fca85e"/><stop offset="0.526" stop-color="#fdb567"/><stop offset="0.537" stop-color="#fed788"/><stop offset="0.547" stop-color="#fffdbb"/><stop offset="0.555" stop-color="#e6f5ed"/><stop offset="0.558" stop-color="#dcf1f7"/><stop offset="0.571" stop-color="#a3d3e5"/><stop offset="0.592" stop-color="#6ba2cb"/><stop offset="0.618" stop-color="#4471b2"/><stop offset="0.65" stop-color="#394ea1"/><stop offset="0.708" stop-color="#333b98"/><stop offset="1" stop-color="#313695"/></linearGradient><linearGradient id="a86" x2="0" y2="1"><stop offset="0" stop-color="#313695"/><stop offset="0.326" stop-color="#333c98"/><stop offset="0.379" stop-color="#3951a2"/><stop offset="0.411" stop-color="#4676b5"/><stop offset="0.442" stop-color="#7cb4d5"/><stop offset="0.458" stop-color="#aedbea"/><stop offset="0.468" stop-color="#e1f3f7"/><stop offset="0.476" stop-color="#fdfec3"/><stop offset="0.489" stop-color="#fece7f"/><stop offset="0.5" stop-color="#fdab60"/><stop offset="0.511" stop-color="#fb9d59"/><stop offset="0.524" stop-color="#fca75e"/><stop offset="0.532" stop-color="#fdbd6f"/><stop offset="0.545" stop-color="#fff2ab"/><stop offset="0.547" stop-color="#fffbb9"/><stop offset="0.555" stop-color="#e6f5ed"/><stop offset="0.558" stop-color="#dbf1f7"/><stop offset="0.571" stop-color="#a0d1e4"/><stop offset="0.589" stop-color="#6ea6ce"/><stop offset="0.618" stop-color="#4470b2"/><stop offset="0.65" stop-color="#394ea1"/><stop offset="0.708" stop-color="#333b98"/><stop offset="1" stop-color="#313695"/></linearGradient><linearGradient id="a87" x2="0" y2="1"><stop offset="0" stop-color="#313695"/><stop offset="0.324" stop-color="#333c98"/><stop offset="0.376" stop-color="#394fa1"/><stop offset="0.408" stop-color="#4473b3"/><stop offset="0.439" stop-color="#76afd2"/><stop offset="0.455" stop-color="#a5d5e7"/><stop offset="0.466" stop-color="#d7eff5"/><stop offset="0.468" stop-color="#e4f4f1"/><stop offset="0.476" stop-color="#fffdbb"/><stop offset="0.489" stop-color="#fdc476"/><stop offset="0.497" stop-color="#fca75e"/><stop offset="0.508" stop-color="#f99455"/><stop offset="0.521" stop-color="#fa9957"/><stop offset="0.532" stop-color="#fdb769"/><stop offset="0.545" stop-color="#fff0a8"/><stop offset="0.55" stop-color="#fafdc9"/><stop offset="0.555" stop-color="#e6f5ed"/><stop offset="0.558" stop-color="#dbf0f7"/><stop offset="0.571" stop-color="#9ecfe3"/><stop offset="0.589" stop-color="#6da4cc"/><stop offset="0.618" stop-color="#4370b1"/><stop offset="0.653" stop-color="#384ca0"/><stop offset="0.716" stop-color="#323a97"/><stop offset="1" stop-color="#313695"/></linearGradient><linearGradient id="a88" x2="0" y2="1"><stop offset="0" stop-color="#313695"/><stop offset="0.324" stop-color="#333c98"/><stop offset="0.376" stop-color="#3950a2"/><stop offset="0.411" stop-color="#4777b5"/><stop offset="0.439" stop-color="#76afd2"/><stop offset="0.455" stop-color="#a7d6e7"/><stop offset="0.466" stop-color="#dcf1f7"/><stop offset="0.471" stop-color="#f1fad8"/><stop offset="0.474" stop-color="#fcfec5"/><stop offset="0.484" stop-color="#fed586"/><stop offset="0.492" stop-color="#fdaf62"/><stop offset="0.5" stop-color="#f99355"/><stop offset="0.511" stop-color="#f88850"/><stop offset="0.521" stop-color="#f98f53"/><stop offset="0.529" stop-color="#fca55d"/><stop offset="0.537" stop-color="#fec87a"/><stop offset="0.547" stop-color="#fff9b5"/><stop offset="0.55" stop-color="#fbfdc7"/><stop offset="0.555" stop-color="#e6f5ed"/><stop offset="0.558" stop-color="#daf0f6"/><stop offset="0.571" stop-color="#9ccde2"/><stop offset="0.587" stop-color="#70a8ce"/><stop offset="0.616" stop-color="#4473b3"/><stop offset="0.65" stop-color="#384ea1"/><stop offset="0.708" stop-color="#333b98"/><stop offset="1" stop-color="#313695"/></linearGradient><linearGradient id="a89" x2="0" y2="1"><stop offset="0" stop-color="#313695"/><stop offset="0.324" stop-color="#333c98"/><stop offset="0.376" stop-color="#3950a2"/><stop offset="0.411" stop-color="#4778b5"/><stop offset="0.439" stop-color="#76afd2"/><stop offset="0.453" stop-color="#9ecfe3"/><stop offset="0.466" stop-color="#e1f3f6"/><stop offset="0.474" stop-color="#fffdbc"/><stop offset="0.484" stop-color="#fecb7c"/><stop offset="0.492" stop-color="#fba35c"/><stop offset="0.5" stop-color="#f8884f"/><stop offset="0.513" stop-color="#f67e4b"/><stop offset="0.524" stop-color="#f88b51"/><stop offset="0.534" stop-color="#fdb669"/><stop offset="0.545" stop-color="#feeca3"/><stop offset="0.55" stop-color="#fcfec5"/><stop offset="0.555" stop-color="#e6f5ed"/><stop offset="0.558" stop-color="#daf0f6"/><stop offset="0.571" stop-color="#99cbe1"/><stop offset="0.587" stop-color="#6ea6cd"/><stop offset="0.616" stop-color="#4472b2"/><stop offset="0.65" stop-color="#384da1"/><stop offset="0.711" stop-color="#333b97"/><stop offset="1" stop-color="#313695"/></linearGradient><linearGradient id="a90" x2="0" y2="1"><stop offset="0" stop-color="#313695"/><stop offset="0.321" stop-color="#333c98"/><stop offset="0.374" stop-color="#394fa1"/><stop offset="0.408" stop-color="#4574b4"/><stop offset="0.439" stop-color="#76afd2"/><stop offset="0.453" stop-color="#a0d0e4"/><stop offset="0.463" stop-color="#d7eff5"/><stop offset="0.466" stop-color="#e5f5ef"/><stop offset="0.471" stop-color="#fbfdc6"/><stop offset="0.479" stop-color="#fee191"/><stop offset="0.487" stop-color="#fdb265"/><stop offset="0.495" stop-color="#f88b51"/><stop offset="0.505" stop-color="#f57547"/><stop offset="0.518" stop-color="#f57748"/><stop offset="0.526" stop-color="#f88a50"/><stop offset="0.534" stop-color="#fdb163"/><stop offset="0.545" stop-color="#feeaa0"/><stop offset="0.55" stop-color="#fdfec3"/><stop offset="0.555" stop-color="#e6f5ec"/><stop offset="0.558" stop-color="#d9f0f6"/><stop offset="0.568" stop-color="#a1d1e5"/><stop offset="0.582" stop-color="#77afd2"/><stop offset="0.613" stop-color="#4575b4"/><stop offset="0.647" stop-color="#394fa1"/><stop offset="0.705" stop-color="#333b98"/><stop offset="1" stop-color="#313695"/></linearGradient><linearGradient id="a91" x2="0" y2="1"><stop offset="0" stop-color="#313695"/><stop offset="0.321" stop-color="#333c98"/><stop offset="0.374" stop-color="#394fa1"/><stop offset="0.408" stop-color="#4575b4"/><stop offset="0.439" stop-color="#76afd2"/><stop offset="0.453" stop-color="#a2d2e5"/><stop offset="0.463" stop-color="#ddf2f7"/><stop offset="0.471" stop-color="#fffebd"/><stop offset="0.479" stop-color="#fed788"/><stop offset="0.487" stop-color="#fca65d"/><stop offset="0.495" stop-color="#f67f4b"/><stop offset="0.505" stop-color="#f36b42"/><stop offset="0.518" stop-color="#f46e43"/><stop offset="0.526" stop-color="#f7814c"/><stop offset="0.534" stop-color="#fcaa5f"/><stop offset="0.545" stop-color="#fee99d"/><stop offset="0.55" stop-color="#fefec2"/><stop offset="0.555" stop-color="#e7f6ec"/><stop offset="0.558" stop-color="#d9f0f6"/><stop offset="0.568" stop-color="#9fd0e4"/><stop offset="0.582" stop-color="#75add1"/><stop offset="0.613" stop-color="#4574b3"/><stop offset="0.647" stop-color="#394fa1"/><stop offset="0.705" stop-color="#333b98"/><stop offset="1" stop-color="#313695"/></linearGradient><linearGradient id="a92" x2="0" y2="1"><stop offset="0" stop-color="#313695"/><stop offset="0.321" stop-color="#333c98"/><stop offset="0.374" stop-color="#394fa1"/><stop offset="0.408" stop-color="#4575b4"/><stop offset="0.439" stop-color="#76afd2"/><stop offset="0.453" stop-color="#a5d4e6"/><stop offset="0.463" stop-color="#e2f4f4"/><stop offset="0.468" stop-color="#fafdc9"/><stop offset="0.474" stop-color="#feeba1"/><stop offset="0.484" stop-color="#fdaa5f"/><stop offset="0.492" stop-color="#f67c4a"/><stop offset="0.5" stop-color="#f16640"/><stop offset="0.516" stop-color="#ef623e"/><stop offset="0.524" stop-color="#f46f44"/><stop offset="0.532" stop-color="#f99254"/><stop offset="0.537" stop-color="#fdb567"/><stop offset="0.547" stop-color="#fff3ad"/><stop offset="0.55" stop-color="#ffffc0"/><stop offset="0.555" stop-color="#e7f6ec"/><stop offset="0.558" stop-color="#d9eff6"/><stop offset="0.568" stop-color="#9dcee3"/><stop offset="0.582" stop-color="#72abd0"/><stop offset="0.613" stop-color="#4473b3"/><stop offset="0.647" stop-color="#394ea1"/><stop offset="0.705" stop-color="#333b98"/><stop offset="1" stop-color="#313695"/></linearGradient><linearGradient id="a93" x2="0" y2="1"><stop offset="0" stop-color="#313695"/><stop offset="0.321" stop-color="#333c98"/><stop offset="0.374" stop-color="#3950a2"/><stop offset="0.411" stop-color="#4879b6"/><stop offset="0.439" stop-color="#76aed2"/><stop offset="0.45" stop-color="#9acce2"/><stop offset="0.461" stop-color="#d7eff5"/><stop offset="0.463" stop-color="#e6f5ed"/><stop offset="0.468" stop-color="#ffffc0"/><stop offset="0.476" stop-color="#fed586"/><stop offset="0.482" stop-color="#fdb164"/><stop offset="0.489" stop-color="#f67d4b"/><stop offset="0.497" stop-color="#ee613e"/><stop offset="0.511" stop-color="#ea5739"/><stop offset="0.521" stop-color="#ee613e"/><stop offset="0.529" stop-color="#f67d4a"/><stop offset="0.537" stop-color="#fdb164"/><stop offset="0.547" stop-color="#fff2ac"/><stop offset="0.55" stop-color="#ffffbf"/><stop offset="0.555" stop-color="#e6f5ec"/><stop offset="0.558" stop-color="#d7eff6"/><stop offset="0.568" stop-color="#9bcce2"/><stop offset="0.582" stop-color="#70a8cf"/><stop offset="0.613" stop-color="#4472b2"/><stop offset="0.65" stop-color="#384da0"/><stop offset="0.713" stop-color="#323a97"/><stop offset="1" stop-color="#313695"/></linearGradient><linearGradient id="a94" x2="0" y2="1"><stop offset="0" stop-color="#313695"/><stop offset="0.321" stop-color="#333c98"/><stop offset="0.374" stop-color="#3950a2"/><stop offset="0.411" stop-color="#4879b6"/><stop offset="0.439" stop-color="#75aed1"/><stop offset="0.45" stop-color="#9bcce2"/><stop offset="0.461" stop-color="#dbf1f7"/><stop offset="0.466" stop-color="#f6fbd0"/><stop offset="0.468" stop-color="#fffbb9"/><stop offset="0.474" stop-color="#fee191"/><stop offset="0.482" stop-color="#fca75e"/><stop offset="0.489" stop-color="#f57346"/><stop offset="0.497" stop-color="#eb593a"/><stop offset="0.511" stop-color="#e75136"/><stop offset="0.521" stop-color="#ec5b3b"/><stop offset="0.529" stop-color="#f57848"/><stop offset="0.537" stop-color="#fdae61"/><stop offset="0.547" stop-color="#fff2ac"/><stop offset="0.55" stop-color="#feffc0"/><stop offset="0.555" stop-color="#e5f5ef"/><stop offset="0.558" stop-color="#d5edf5"/><stop offset="0.568" stop-color="#97c9e0"/><stop offset="0.579" stop-color="#73acd0"/><stop offset="0.608" stop-color="#4878b6"/><stop offset="0.645" stop-color="#3950a2"/><stop offset="0.7" stop-color="#333c98"/><stop offset="1" stop-color="#313695"/></linearGradient><linearGradient id="a95" x2="0" y2="1"><stop offset="0" stop-color="#313695"/><stop offset="0.318" stop-color="#333c98"/><stop offset="0.374" stop-color="#3a51a2"/><stop offset="0.413" stop-color="#4b7db8"/><stop offset="0.439" stop-color="#74add1"/><stop offset="0.45" stop-color="#9ccde2"/><stop offset="0.461" stop-color="#e0f3f8"/><stop offset="0.466" stop-color="#fafdc8"/><stop offset="0.471" stop-color="#fee99d"/><stop offset="0.479" stop-color="#fdb164"/><stop offset="0.487" stop-color="#f57748"/><stop offset="0.495" stop-color="#ea5739"/><stop offset="0.505" stop-color="#e44b33"/><stop offset="0.518" stop-color="#e65036"/><stop offset="0.526" stop-color="#f16640"/><stop offset="0.534" stop-color="#fa9556"/><stop offset="0.539" stop-color="#fdbe70"/><stop offset="0.547" stop-color="#fff2ac"/><stop offset="0.55" stop-color="#feffc1"/><stop offset="0.555" stop-color="#e4f4f1"/><stop offset="0.558" stop-color="#d2ecf4"/><stop offset="0.568" stop-color="#93c6df"/><stop offset="0.579" stop-color="#70a8cf"/><stop offset="0.608" stop-color="#4777b5"/><stop offset="0.647" stop-color="#394ea1"/><stop offset="0.708" stop-color="#333b97"/><stop offset="1" stop-color="#313695"/></linearGradient><linearGradient id="a96" x2="0" y2="1"><stop offset="0" stop-color="#313695"/><stop offset="0.318" stop-color="#333c98"/><stop offset="0.374" stop-color="#3a51a2"/><stop offset="0.413" stop-color="#4b7cb8"/><stop offset="0.437" stop-color="#6da5cd"/><stop offset="0.447" stop-color="#90c3dd"/><stop offset="0.458" stop-color="#d1ecf4"/><stop offset="0.461" stop-color="#e3f4f2"/><stop offset="0.466" stop-color="#feffc0"/><stop offset="0.471" stop-color="#fee395"/><stop offset="0.479" stop-color="#fca65d"/><stop offset="0.487" stop-color="#f46c43"/><stop offset="0.495" stop-color="#e64f35"/><stop offset="0.508" stop-color="#e04430"/><stop offset="0.521" stop-color="#e64f35"/><stop offset="0.529" stop-color="#f46d43"/><stop offset="0.537" stop-color="#fca85e"/><stop offset="0.545" stop-color="#fee497"/><stop offset="0.55" stop-color="#fdfec2"/><stop offset="0.555" stop-color="#e2f4f3"/><stop offset="0.563" stop-color="#abd9e9"/><stop offset="0.574" stop-color="#7bb2d4"/><stop offset="0.592" stop-color="#588cc0"/><stop offset="0.616" stop-color="#426baf"/><stop offset="0.655" stop-color="#374a9f"/><stop offset="0.729" stop-color="#323996"/><stop offset="1" stop-color="#313695"/></linearGradient><linearGradient id="a97" x2="0" y2="1"><stop offset="0" stop-color="#313695"/><stop offset="0.318" stop-color="#333c98"/><stop offset="0.374" stop-color="#3a52a3"/><stop offset="0.413" stop-color="#4b7cb7"/><stop offset="0.437" stop-color="#6ca3cc"/><stop offset="0.447" stop-color="#90c4dd"/><stop offset="0.458" stop-color="#d6eef5"/><stop offset="0.461" stop-color="#e7f6eb"/><stop offset="0.466" stop-color="#fffbb9"/><stop offset="0.471" stop-color="#fedd8d"/><stop offset="0.476" stop-color="#fdb264"/><stop offset="0.484" stop-color="#f57145"/><stop offset="0.492" stop-color="#e54e35"/><stop offset="0.503" stop-color="#de3e2d"/><stop offset="0.518" stop-color="#e14430"/><stop offset="0.526" stop-color="#ec5c3b"/><stop offset="0.534" stop-color="#f88d52"/><stop offset="0.539" stop-color="#fdbb6d"/><stop offset="0.545" stop-color="#fee496"/><stop offset="0.55" stop-color="#fdfec3"/><stop offset="0.555" stop-color="#e1f3f6"/><stop offset="0.566" stop-color="#98cae1"/><stop offset="0.576" stop-color="#70a8ce"/><stop offset="0.6" stop-color="#4d7eb9"/><stop offset="0.632" stop-color="#3c5aa7"/><stop offset="0.682" stop-color="#34409a"/><stop offset="0.837" stop-color="#313695"/><stop offset="1" stop-color="#313695"/></linearGradient><linearGradient id="a98" x2="0" y2="1"><stop offset="0" stop-color="#313695"/><stop offset="0.318" stop-color="#333c98"/><stop offset="0.374" stop-color="#3a52a3"/><stop offset="0.413" stop-color="#4a7bb7"/><stop offset="0.437" stop-color="#6ba2cb"/><stop offset="0.445" stop-color="#84bad8"/><stop offset="0.453" stop-color="#b2dceb"/><stop offset="0.458" stop-color="#dbf1f7"/><stop offset="0.461" stop-color="#ebf7e4"/><stop offset="0.463" stop-color="#f9fdc9"/><stop offset="0.468" stop-color="#fee79a"/><stop offset="0.476" stop-color="#fca65d"/><stop offset="0.484" stop-color="#f16740"/><stop offset="0.492" stop-color="#e14531"/><stop offset="0.503" stop-color="#da372a"/><stop offset="0.518" stop-color="#de3e2d"/><stop offset="0.526" stop-color="#e95639"/><stop offset="0.534" stop-color="#f88a50"/><stop offset="0.539" stop-color="#fdb96b"/><stop offset="0.545" stop-color="#fee496"/><stop offset="0.55" stop-color="#fcfec4"/><stop offset="0.555" stop-color="#dff3f8"/><stop offset="0.563" stop-color="#a4d3e6"/><stop offset="0.571" stop-color="#7cb3d4"/><stop offset="0.584" stop-color="#5e93c3"/><stop offset="0.611" stop-color="#436fb1"/><stop offset="0.653" stop-color="#384b9f"/><stop offset="0.724" stop-color="#323997"/><stop offset="1" stop-color="#313695"/></linearGradient><linearGradient id="a99" x2="0" y2="1"><stop offset="0" stop-color="#313695"/><stop offset="0.316" stop-color="#333c98"/><stop offset="0.374" stop-color="#3a52a3"/><stop offset="0.416" stop-color="#4c7db8"/><stop offset="0.437" stop-color="#69a0ca"/><stop offset="0.445" stop-color="#84bad8"/><stop offset="0.453" stop-color="#b5deec"/><stop offset="0.458" stop-color="#e1f3f7"/><stop offset="0.463" stop-color="#feffc1"/><stop offset="0.468" stop-color="#fee192"/><stop offset="0.474" stop-color="#fdb366"/><stop offset="0.482" stop-color="#f46d43"/><stop offset="0.489" stop-color="#e14530"/><stop offset="0.5" stop-color="#d83228"/><stop offset="0.516" stop-color="#d93429"/><stop offset="0.524" stop-color="#e24631"/><stop offset="0.532" stop-color="#f47045"/><stop offset="0.539" stop-color="#fdb76a"/><stop offset="0.545" stop-color="#fee496"/><stop offset="0.55" stop-color="#fbfec6"/><stop offset="0.555" stop-color="#ddf1f7"/><stop offset="0.563" stop-color="#a0d0e4"/><stop offset="0.571" stop-color="#78b0d3"/><stop offset="0.584" stop-color="#5b8fc2"/><stop offset="0.611" stop-color="#436db0"/><stop offset="0.655" stop-color="#37499e"/><stop offset="0.732" stop-color="#323996"/><stop offset="1" stop-color="#313695"/></linearGradient><linearGradient id="a100" x2="0" y2="1"><stop offset="0" stop-color="#313695"/><stop offset="0.316" stop-color="#333c98"/><stop offset="0.374" stop-color="#3a51a3"/><stop offset="0.416" stop-color="#4a7bb7"/><stop offset="0.437" stop-color="#679ec9"/><stop offset="0.445" stop-color="#83b9d7"/><stop offset="0.453" stop-color="#b6deec"/><stop offset="0.458" stop-color="#e2f4f4"/><stop offset="0.463" stop-color="#fffdbc"/><stop offset="0.468" stop-color="#fedc8c"/><stop offset="0.474" stop-color="#fdac60"/><stop offset="0.482" stop-color="#f0653f"/><stop offset="0.489" stop-color="#dd3d2d"/><stop offset="0.497" stop-color="#d52e27"/><stop offset="0.516" stop-color="#d52e27"/><stop offset="0.524" stop-color="#df402e"/><stop offset="0.532" stop-color="#f36a42"/><stop offset="0.539" stop-color="#fdb366"/><stop offset="0.545" stop-color="#fee293"/><stop offset="0.55" stop-color="#fcfec4"/><stop offset="0.555" stop-color="#dcf1f7"/><stop offset="0.563" stop-color="#9dcee3"/><stop offset="0.571" stop-color="#74add1"/><stop offset="0.584" stop-color="#598cc0"/><stop offset="0.611" stop-color="#426caf"/><stop offset="0.655" stop-color="#37499e"/><stop offset="0.734" stop-color="#323896"/><stop offset="1" stop-color="#313695"/></linearGradient><linearGradient id="a101" x2="0" y2="1"><stop offset="0" stop-color="#313695"/><stop offset="0.316" stop-color="#333c98"/><stop offset="0.374" stop-color="#3a51a2"/><stop offset="0.418" stop-color="#4b7cb8"/><stop offset="0.437" stop-color="#659bc8"/><stop offset="0.445" stop-color="#81b8d7"/><stop offset="0.453" stop-color="#b7dfed"/><stop offset="0.455" stop-color="#ceeaf3"/><stop offset="0.458" stop-color="#e4f5f0"/><stop offset="0.463" stop-color="#fffab7"/><stop offset="0.468" stop-color="#fed586"/><stop offset="0.474" stop-color="#fba35c"/><stop offset="0.479" stop-color="#f47044"/><stop offset="0.487" stop-color="#de402e"/><stop offset="0.495" stop-color="#d22b27"/><stop offset="0.513" stop-color="#ce2827"/><stop offset="0.521" stop-color="#d83228"/><stop offset="0.529" stop-color="#e85337"/><stop offset="0.534" stop-color="#f67a49"/><stop offset="0.539" stop-color="#fdaf62"/><stop offset="0.545" stop-color="#fee091"/><stop offset="0.55" stop-color="#fdfec3"/><stop offset="0.555" stop-color="#dcf1f7"/><stop offset="0.563" stop-color="#9bcce2"/><stop offset="0.571" stop-color="#71aacf"/><stop offset="0.584" stop-color="#5689be"/><stop offset="0.608" stop-color="#426db0"/><stop offset="0.655" stop-color="#37489e"/><stop offset="0.734" stop-color="#323896"/><stop offset="1" stop-color="#313695"/></linearGradient><linearGradient id="a102" x2="0" y2="1"><stop offset="0" stop-color="#313695"/><stop offset="0.316" stop-color="#333c98"/><stop offset="0.376" stop-color="#3a52a3"/><stop offset="0.421" stop-color="#4b7db8"/><stop offset="0.437" stop-color="#6398c6"/><stop offset="0.445" stop-color="#80b7d6"/><stop offset="0.453" stop-color="#b9e0ed"/><stop offset="0.455" stop-color="#d1ebf4"/><stop offset="0.458" stop-color="#e6f5ec"/><stop offset="0.461" stop-color="#f7fcce"/><stop offset="0.463" stop-color="#fff7b2"/><stop offset="0.468" stop-color="#fecf80"/><stop offset="0.474" stop-color="#fa9957"/><stop offset="0.479" stop-color="#f16740"/><stop offset="0.487" stop-color="#db382b"/><stop offset="0.495" stop-color="#cd2627"/><stop offset="0.516" stop-color="#cb2527"/><stop offset="0.524" stop-color="#d93429"/><stop offset="0.532" stop-color="#ed5e3c"/><stop offset="0.537" stop-color="#f98e52"/><stop offset="0.539" stop-color="#fdab5f"/><stop offset="0.545" stop-color="#fede8e"/><stop offset="0.55" stop-color="#fefec2"/><stop offset="0.555" stop-color="#dcf1f7"/><stop offset="0.563" stop-color="#98cae1"/><stop offset="0.571" stop-color="#6ea6cd"/><stop offset="0.582" stop-color="#578abf"/><stop offset="0.605" stop-color="#436db0"/><stop offset="0.655" stop-color="#37489e"/><stop offset="0.737" stop-color="#323896"/><stop offset="1" stop-color="#313695"/></linearGradient><linearGradient id="a103" x2="0" y2="1"><stop offset="0" stop-color="#313695"/><stop offset="0.318" stop-color="#333c98"/><stop offset="0.379" stop-color="#3a53a3"/><stop offset="0.424" stop-color="#4c7db8"/><stop offset="0.437" stop-color="#6196c5"/><stop offset="0.445" stop-color="#7fb6d6"/><stop offset="0.453" stop-color="#bbe1ed"/><stop offset="0.455" stop-color="#d4edf4"/><stop offset="0.458" stop-color="#e9f6e8"/><stop offset="0.461" stop-color="#fafdc9"/><stop offset="0.466" stop-color="#fee293"/><stop offset="0.471" stop-color="#fdae61"/><stop offset="0.476" stop-color="#f57547"/><stop offset="0.484" stop-color="#dd3c2d"/><stop offset="0.492" stop-color="#cb2427"/><stop offset="0.511" stop-color="#c31d27"/><stop offset="0.521" stop-color="#ce2727"/><stop offset="0.529" stop-color="#e24731"/><stop offset="0.534" stop-color="#f46d43"/><stop offset="0.539" stop-color="#fca55d"/><stop offset="0.545" stop-color="#fedb8b"/><stop offset="0.55" stop-color="#feffc0"/><stop offset="0.555" stop-color="#dbf1f7"/><stop offset="0.563" stop-color="#96c8e0"/><stop offset="0.571" stop-color="#6ba2cc"/><stop offset="0.582" stop-color="#5487bd"/><stop offset="0.605" stop-color="#426baf"/><stop offset="0.655" stop-color="#37489e"/><stop offset="0.739" stop-color="#323896"/><stop offset="1" stop-color="#313695"/></linearGradient><linearGradient id="a104" x2="0" y2="1"><stop offset="0" stop-color="#313695"/><stop offset="0.318" stop-color="#333c98"/><stop offset="0.379" stop-color="#3a52a3"/><stop offset="0.424" stop-color="#4a7ab7"/><stop offset="0.437" stop-color="#5e93c4"/><stop offset="0.445" stop-color="#7eb5d5"/><stop offset="0.453" stop-color="#bde2ee"/><stop offset="0.455" stop-color="#d7eef5"/><stop offset="0.458" stop-color="#ebf7e3"/><stop offset="0.461" stop-color="#fdfec3"/><stop offset="0.466" stop-color="#fedc8d"/><stop offset="0.471" stop-color="#fca55d"/><stop offset="0.476" stop-color="#f36b42"/><stop offset="0.484" stop-color="#d93429"/><stop offset="0.492" stop-color="#c51f27"/><stop offset="0.511" stop-color="#be1827"/><stop offset="0.521" stop-color="#c92327"/><stop offset="0.526" stop-color="#d83228"/><stop offset="0.534" stop-color="#f16841"/><stop offset="0.539" stop-color="#fba05b"/><stop offset="0.545" stop-color="#fed889"/><stop offset="0.55" stop-color="#ffffbe"/><stop offset="0.555" stop-color="#dbf1f7"/><stop offset="0.563" stop-color="#93c6df"/><stop offset="0.568" stop-color="#72abd0"/><stop offset="0.576" stop-color="#5a8ec1"/><stop offset="0.597" stop-color="#4471b2"/><stop offset="0.65" stop-color="#37499f"/><stop offset="0.729" stop-color="#323896"/><stop offset="1" stop-color="#313695"/></linearGradient><linearGradient id="a105" x2="0" y2="1"><stop offset="0" stop-color="#313695"/><stop offset="0.318" stop-color="#333c98"/><stop offset="0.382" stop-color="#3a53a3"/><stop offset="0.426" stop-color="#4a7bb7"/><stop offset="0.437" stop-color="#5c91c2"/><stop offset="0.445" stop-color="#7db4d5"/><stop offset="0.453" stop-color="#bfe3ef"/><stop offset="0.455" stop-color="#daf0f6"/><stop offset="0.458" stop-color="#eef8de"/><stop offset="0.461" stop-color="#fffebe"/><stop offset="0.466" stop-color="#fed686"/><stop offset="0.471" stop-color="#fa9b58"/><stop offset="0.476" stop-color="#ef623e"/><stop offset="0.482" stop-color="#dc3b2c"/><stop offset="0.489" stop-color="#c41e27"/><stop offset="0.503" stop-color="#b91326"/><stop offset="0.518" stop-color="#bf1927"/><stop offset="0.526" stop-color="#d42d27"/><stop offset="0.532" stop-color="#e44c34"/><stop offset="0.537" stop-color="#f67c4a"/><stop offset="0.542" stop-color="#fdb96b"/><stop offset="0.547" stop-color="#feeba1"/><stop offset="0.55" stop-color="#fffebd"/><stop offset="0.555" stop-color="#dbf1f7"/><stop offset="0.563" stop-color="#91c4de"/><stop offset="0.568" stop-color="#70a8ce"/><stop offset="0.576" stop-color="#578abf"/><stop offset="0.595" stop-color="#4470b2"/><stop offset="0.65" stop-color="#37499e"/><stop offset="0.734" stop-color="#323896"/><stop offset="1" stop-color="#313695"/></linearGradient><linearGradient id="a106" x2="0" y2="1"><stop offset="0" stop-color="#313695"/><stop offset="0.318" stop-color="#333c98"/><stop offset="0.382" stop-color="#3a53a3"/><stop offset="0.426" stop-color="#497ab6"/><stop offset="0.437" stop-color="#5a8ec1"/><stop offset="0.445" stop-color="#79b1d3"/><stop offset="0.453" stop-color="#b8dfed"/><stop offset="0.455" stop-color="#d2ecf4"/><stop offset="0.458" stop-color="#e8f6e8"/><stop offset="0.461" stop-color="#fafdc8"/><stop offset="0.466" stop-color="#fee090"/><stop offset="0.471" stop-color="#fca85e"/><stop offset="0.476" stop-color="#f46d43"/><stop offset="0.484" stop-color="#d93529"/><stop offset="0.492" stop-color="#c51f27"/><stop offset="0.511" stop-color="#bf1927"/><stop offset="0.521" stop-color="#ca2427"/><stop offset="0.526" stop-color="#d93429"/><stop offset="0.534" stop-color="#f46c43"/><stop offset="0.539" stop-color="#fca75e"/><stop offset="0.545" stop-color="#fedf8f"/><stop offset="0.55" stop-color="#fbfdc7"/><stop offset="0.553" stop-color="#e9f6e8"/><stop offset="0.555" stop-color="#d3ecf4"/><stop offset="0.563" stop-color="#8bc0db"/><stop offset="0.568" stop-color="#6ca4cc"/><stop offset="0.576" stop-color="#5588be"/><stop offset="0.595" stop-color="#436fb1"/><stop offset="0.65" stop-color="#37489e"/><stop offset="0.734" stop-color="#323896"/><stop offset="1" stop-color="#313695"/></linearGradient><linearGradient id="a107" x2="0" y2="1"><stop offset="0" stop-color="#313695"/><stop offset="0.321" stop-color="#333c98"/><stop offset="0.384" stop-color="#3a54a4"/><stop offset="0.429" stop-color="#4b7cb8"/><stop offset="0.439" stop-color="#6095c4"/><stop offset="0.445" stop-color="#75add1"/><stop offset="0.453" stop-color="#b0dceb"/><stop offset="0.458" stop-color="#e3f4f2"/><stop offset="0.461" stop-color="#f4fbd2"/><stop offset="0.463" stop-color="#fff8b4"/><stop offset="0.468" stop-color="#fece7f"/><stop offset="0.471" stop-color="#fdb366"/><stop offset="0.479" stop-color="#ee613d"/><stop offset="0.487" stop-color="#d83128"/><stop offset="0.497" stop-color="#c51f27"/><stop offset="0.516" stop-color="#c72127"/><stop offset="0.524" stop-color="#d73127"/><stop offset="0.532" stop-color="#ee603d"/><stop offset="0.539" stop-color="#fdb365"/><stop offset="0.545" stop-color="#fee698"/><stop offset="0.547" stop-color="#fff7b3"/><stop offset="0.55" stop-color="#f5fbd2"/><stop offset="0.553" stop-color="#e4f4f1"/><stop offset="0.558" stop-color="#b1dceb"/><stop offset="0.566" stop-color="#75aed2"/><stop offset="0.574" stop-color="#598dc0"/><stop offset="0.589" stop-color="#4573b3"/><stop offset="0.645" stop-color="#374a9f"/><stop offset="0.724" stop-color="#323996"/><stop offset="1" stop-color="#313695"/></linearGradient><linearGradient id="a108" x2="0" y2="1"><stop offset="0" stop-color="#313695"/><stop offset="0.321" stop-color="#333c98"/><stop offset="0.384" stop-color="#3a53a3"/><stop offset="0.429" stop-color="#4a7bb7"/><stop offset="0.439" stop-color="#5d92c3"/><stop offset="0.447" stop-color="#80b7d6"/><stop offset="0.455" stop-color="#c2e4f0"/><stop offset="0.458" stop-color="#ddf1f7"/><stop offset="0.463" stop-color="#fffebd"/><stop offset="0.468" stop-color="#fed788"/><stop offset="0.474" stop-color="#fba15b"/><stop offset="0.479" stop-color="#f36b42"/><stop offset="0.487" stop-color="#dc3a2b"/><stop offset="0.495" stop-color="#cd2727"/><stop offset="0.513" stop-color="#cb2427"/><stop offset="0.521" stop-color="#d73027"/><stop offset="0.529" stop-color="#e95739"/><stop offset="0.534" stop-color="#f7844d"/><stop offset="0.539" stop-color="#fdbc6f"/><stop offset="0.545" stop-color="#feeca2"/><stop offset="0.547" stop-color="#fffdbc"/><stop offset="0.553" stop-color="#ddf2f7"/><stop offset="0.561" stop-color="#94c7df"/><stop offset="0.566" stop-color="#72aad0"/><stop offset="0.574" stop-color="#578bbf"/><stop offset="0.589" stop-color="#4472b3"/><stop offset="0.645" stop-color="#374a9f"/><stop offset="0.726" stop-color="#323896"/><stop offset="1" stop-color="#313695"/></linearGradient><linearGradient id="a109" x2="0" y2="1"><stop offset="0" stop-color="#313695"/><stop offset="0.321" stop-color="#333c98"/><stop offset="0.384" stop-color="#3a52a3"/><stop offset="0.429" stop-color="#4979b6"/><stop offset="0.439" stop-color="#5b90c2"/><stop offset="0.447" stop-color="#7cb3d4"/><stop offset="0.455" stop-color="#bbe1ed"/><stop offset="0.458" stop-color="#d4edf5"/><stop offset="0.461" stop-color="#eaf7e6"/><stop offset="0.463" stop-color="#fbfdc7"/><stop offset="0.468" stop-color="#fee191"/><stop offset="0.474" stop-color="#fdad61"/><stop offset="0.479" stop-color="#f57647"/><stop offset="0.487" stop-color="#e0422f"/><stop offset="0.495" stop-color="#d32c27"/><stop offset="0.513" stop-color="#d02a27"/><stop offset="0.521" stop-color="#da372a"/><stop offset="0.529" stop-color="#ee603d"/><stop offset="0.534" stop-color="#f99053"/><stop offset="0.537" stop-color="#fdad61"/><stop offset="0.542" stop-color="#fee191"/><stop offset="0.547" stop-color="#fbfdc7"/><stop offset="0.55" stop-color="#eaf7e6"/><stop offset="0.553" stop-color="#d5eef5"/><stop offset="0.561" stop-color="#8ec2dd"/><stop offset="0.568" stop-color="#649ac7"/><stop offset="0.579" stop-color="#4d7eb9"/><stop offset="0.608" stop-color="#3e60aa"/><stop offset="0.666" stop-color="#35429b"/><stop offset="0.792" stop-color="#313695"/><stop offset="1" stop-color="#313695"/></linearGradient><linearGradient id="a110" x2="0" y2="1"><stop offset="0" stop-color="#313695"/><stop offset="0.321" stop-color="#333c98"/><stop offset="0.384" stop-color="#3a52a3"/><stop offset="0.432" stop-color="#4b7cb8"/><stop offset="0.442" stop-color="#6196c5"/><stop offset="0.45" stop-color="#88bdda"/><stop offset="0.458" stop-color="#cce9f2"/><stop offset="0.461" stop-color="#e4f5f0"/><stop offset="0.463" stop-color="#f5fbd1"/><stop offset="0.466" stop-color="#fff8b4"/><stop offset="0.471" stop-color="#fed081"/><stop offset="0.476" stop-color="#fb9c59"/><stop offset="0.482" stop-color="#f36b42"/><stop offset="0.489" stop-color="#de3f2e"/><stop offset="0.497" stop-color="#d62f27"/><stop offset="0.516" stop-color="#d83228"/><stop offset="0.524" stop-color="#e34a33"/><stop offset="0.529" stop-color="#f36a42"/><stop offset="0.537" stop-color="#fdb769"/><stop offset="0.542" stop-color="#fee79a"/><stop offset="0.545" stop-color="#fff8b4"/><stop offset="0.547" stop-color="#f5fbd1"/><stop offset="0.55" stop-color="#e5f5f0"/><stop offset="0.553" stop-color="#cdeaf3"/><stop offset="0.561" stop-color="#89beda"/><stop offset="0.568" stop-color="#6297c6"/><stop offset="0.579" stop-color="#4b7db8"/><stop offset="0.621" stop-color="#3b56a5"/><stop offset="0.684" stop-color="#333d98"/><stop offset="0.929" stop-color="#313695"/><stop offset="1" stop-color="#313695"/></linearGradient><linearGradient id="a111" x2="0" y2="1"><stop offset="0" stop-color="#313695"/><stop offset="0.324" stop-color="#333c98"/><stop offset="0.387" stop-color="#3a53a3"/><stop offset="0.432" stop-color="#4a7bb7"/><stop offset="0.442" stop-color="#5f94c4"/><stop offset="0.45" stop-color="#83b9d8"/><stop offset="0.458" stop-color="#c5e6f0"/><stop offset="0.461" stop-color="#dff2f8"/><stop offset="0.466" stop-color="#fffebd"/><stop offset="0.471" stop-color="#feda8a"/><stop offset="0.476" stop-color="#fca85e"/><stop offset="0.482" stop-color="#f57547"/><stop offset="0.489" stop-color="#e24732"/><stop offset="0.497" stop-color="#da3529"/><stop offset="0.513" stop-color="#da3529"/><stop offset="0.521" stop-color="#e24732"/><stop offset="0.529" stop-color="#f57547"/><stop offset="0.534" stop-color="#fca85e"/><stop offset="0.539" stop-color="#feda8a"/><stop offset="0.545" stop-color="#fffdbd"/><stop offset="0.55" stop-color="#dff3f8"/><stop offset="0.558" stop-color="#97c9e0"/><stop offset="0.563" stop-color="#74add1"/><stop offset="0.571" stop-color="#588cc0"/><stop offset="0.587" stop-color="#4472b2"/><stop offset="0.642" stop-color="#37499f"/><stop offset="0.724" stop-color="#323896"/><stop offset="1" stop-color="#313695"/></linearGradient><linearGradient id="a112" x2="0" y2="1"><stop offset="0" stop-color="#313695"/><stop offset="0.324" stop-color="#333c98"/><stop offset="0.387" stop-color="#3a52a3"/><stop offset="0.432" stop-color="#4979b6"/><stop offset="0.442" stop-color="#5d91c3"/><stop offset="0.45" stop-color="#7fb5d6"/><stop offset="0.458" stop-color="#bde2ee"/><stop offset="0.461" stop-color="#d6eef5"/><stop offset="0.463" stop-color="#eaf7e5"/><stop offset="0.466" stop-color="#fbfdc7"/><stop offset="0.471" stop-color="#fee293"/><stop offset="0.476" stop-color="#fdb365"/><stop offset="0.484" stop-color="#f36c42"/><stop offset="0.492" stop-color="#e24631"/><stop offset="0.503" stop-color="#db392b"/><stop offset="0.516" stop-color="#df402e"/><stop offset="0.524" stop-color="#ec5c3b"/><stop offset="0.529" stop-color="#f7804c"/><stop offset="0.534" stop-color="#fdb265"/><stop offset="0.539" stop-color="#fee293"/><stop offset="0.545" stop-color="#fbfdc7"/><stop offset="0.547" stop-color="#eaf7e5"/><stop offset="0.55" stop-color="#d7eef5"/><stop offset="0.558" stop-color="#91c4de"/><stop offset="0.566" stop-color="#669cc8"/><stop offset="0.576" stop-color="#4d7eb9"/><stop offset="0.6" stop-color="#4064ac"/><stop offset="0.658" stop-color="#35439b"/><stop offset="0.771" stop-color="#313795"/><stop offset="1" stop-color="#313695"/></linearGradient><linearGradient id="a113" x2="0" y2="1"><stop offset="0" stop-color="#313695"/><stop offset="0.324" stop-color="#333c98"/><stop offset="0.389" stop-color="#3a53a3"/><stop offset="0.432" stop-color="#4878b6"/><stop offset="0.442" stop-color="#5b8fc1"/><stop offset="0.45" stop-color="#7ab2d4"/><stop offset="0.458" stop-color="#b6deec"/><stop offset="0.461" stop-color="#cfeaf3"/><stop offset="0.463" stop-color="#e5f5ee"/><stop offset="0.466" stop-color="#f5fbd1"/><stop offset="0.468" stop-color="#fff8b5"/><stop offset="0.476" stop-color="#fdbb6d"/><stop offset="0.482" stop-color="#f88a50"/><stop offset="0.487" stop-color="#f0643f"/><stop offset="0.495" stop-color="#e24731"/><stop offset="0.508" stop-color="#de3f2e"/><stop offset="0.518" stop-color="#e54d34"/><stop offset="0.526" stop-color="#f57547"/><stop offset="0.532" stop-color="#fba35c"/><stop offset="0.539" stop-color="#fee89c"/><stop offset="0.542" stop-color="#fff8b4"/><stop offset="0.545" stop-color="#f6fbd0"/><stop offset="0.547" stop-color="#e5f5ee"/><stop offset="0.55" stop-color="#cfebf3"/><stop offset="0.558" stop-color="#8cc0db"/><stop offset="0.566" stop-color="#6399c7"/><stop offset="0.576" stop-color="#4b7db8"/><stop offset="0.611" stop-color="#3d5ba7"/><stop offset="0.671" stop-color="#343f99"/><stop offset="0.834" stop-color="#313695"/><stop offset="1" stop-color="#313695"/></linearGradient><linearGradient id="a114" x2="0" y2="1"><stop offset="0" stop-color="#313695"/><stop offset="0.326" stop-color="#333c98"/><stop offset="0.389" stop-color="#3a53a3"/><stop offset="0.434" stop-color="#4a7bb7"/><stop offset="0.445" stop-color="#6196c5"/><stop offset="0.453" stop-color="#87bcd9"/><stop offset="0.463" stop-color="#e1f3f7"/><stop offset="0.468" stop-color="#fffdbc"/><stop offset="0.474" stop-color="#fedb8c"/><stop offset="0.479" stop-color="#fdad61"/><stop offset="0.487" stop-color="#f36c42"/><stop offset="0.495" stop-color="#e54d34"/><stop offset="0.508" stop-color="#e14530"/><stop offset="0.516" stop-color="#e54d34"/><stop offset="0.524" stop-color="#f36b42"/><stop offset="0.532" stop-color="#fdad60"/><stop offset="0.539" stop-color="#feeda3"/><stop offset="0.542" stop-color="#fffdbc"/><stop offset="0.547" stop-color="#e1f3f6"/><stop offset="0.558" stop-color="#87bcd9"/><stop offset="0.566" stop-color="#6196c5"/><stop offset="0.576" stop-color="#4b7cb7"/><stop offset="0.621" stop-color="#3a53a3"/><stop offset="0.687" stop-color="#333c98"/><stop offset="1" stop-color="#313695"/></linearGradient><linearGradient id="a115" x2="0" y2="1"><stop offset="0" stop-color="#313695"/><stop offset="0.326" stop-color="#333c98"/><stop offset="0.389" stop-color="#3a52a3"/><stop offset="0.434" stop-color="#4a7ab7"/><stop offset="0.445" stop-color="#5f94c4"/><stop offset="0.453" stop-color="#82b8d7"/><stop offset="0.461" stop-color="#c1e4ef"/><stop offset="0.463" stop-color="#daf0f6"/><stop offset="0.466" stop-color="#ecf8e2"/><stop offset="0.468" stop-color="#fcfec5"/><stop offset="0.474" stop-color="#fee293"/><stop offset="0.479" stop-color="#fdb567"/><stop offset="0.487" stop-color="#f57446"/><stop offset="0.495" stop-color="#e85337"/><stop offset="0.505" stop-color="#e34a33"/><stop offset="0.516" stop-color="#e85337"/><stop offset="0.524" stop-color="#f57346"/><stop offset="0.532" stop-color="#fdb567"/><stop offset="0.537" stop-color="#fee293"/><stop offset="0.542" stop-color="#fcfec5"/><stop offset="0.545" stop-color="#ecf8e2"/><stop offset="0.547" stop-color="#daf0f6"/><stop offset="0.555" stop-color="#95c7df"/><stop offset="0.563" stop-color="#689fca"/><stop offset="0.574" stop-color="#4e7fb9"/><stop offset="0.595" stop-color="#4067ad"/><stop offset="0.653" stop-color="#35449c"/><stop offset="0.758" stop-color="#313795"/><stop offset="1" stop-color="#313695"/></linearGradient><linearGradient id="a116" x2="0" y2="1"><stop offset="0" stop-color="#313695"/><stop offset="0.326" stop-color="#333c98"/><stop offset="0.389" stop-color="#3a52a3"/><stop offset="0.434" stop-color="#497ab6"/><stop offset="0.445" stop-color="#5d91c3"/><stop offset="0.453" stop-color="#7eb5d5"/><stop offset="0.461" stop-color="#bae0ed"/><stop offset="0.463" stop-color="#d2ecf4"/><stop offset="0.466" stop-color="#e7f6eb"/><stop offset="0.468" stop-color="#f7fcce"/><stop offset="0.471" stop-color="#fff7b3"/><stop offset="0.479" stop-color="#fdbd6f"/><stop offset="0.484" stop-color="#f98f53"/><stop offset="0.489" stop-color="#f46c43"/><stop offset="0.497" stop-color="#e85437"/><stop offset="0.511" stop-color="#e75136"/><stop offset="0.518" stop-color="#ee613d"/><stop offset="0.524" stop-color="#f67c4a"/><stop offset="0.529" stop-color="#fca65d"/><stop offset="0.537" stop-color="#fee79b"/><stop offset="0.539" stop-color="#fff7b3"/><stop offset="0.542" stop-color="#f7fcce"/><stop offset="0.545" stop-color="#e7f6eb"/><stop offset="0.547" stop-color="#d2ecf4"/><stop offset="0.555" stop-color="#90c3dd"/><stop offset="0.563" stop-color="#669cc8"/><stop offset="0.574" stop-color="#4d7eb9"/><stop offset="0.597" stop-color="#4064ac"/><stop offset="0.655" stop-color="#35439b"/><stop offset="0.768" stop-color="#313795"/><stop offset="1" stop-color="#313695"/></linearGradient><linearGradient id="a117" x2="0" y2="1"><stop offset="0" stop-color="#313695"/><stop offset="0.326" stop-color="#333c98"/><stop offset="0.389" stop-color="#3a52a3"/><stop offset="0.434" stop-color="#4879b6"/><stop offset="0.445" stop-color="#5b8fc2"/><stop offset="0.453" stop-color="#7ab2d3"/><stop offset="0.461" stop-color="#b4ddeb"/><stop offset="0.466" stop-color="#e3f4f3"/><stop offset="0.471" stop-color="#fffcbb"/><stop offset="0.476" stop-color="#fedb8c"/><stop offset="0.482" stop-color="#fdb062"/><stop offset="0.489" stop-color="#f57446"/><stop offset="0.497" stop-color="#eb5a3a"/><stop offset="0.511" stop-color="#e95739"/><stop offset="0.518" stop-color="#f16841"/><stop offset="0.524" stop-color="#f7844e"/><stop offset="0.529" stop-color="#fdaf62"/><stop offset="0.537" stop-color="#feeca2"/><stop offset="0.539" stop-color="#fffcba"/><stop offset="0.545" stop-color="#e3f4f3"/><stop offset="0.55" stop-color="#b4ddeb"/><stop offset="0.558" stop-color="#7ab2d4"/><stop offset="0.566" stop-color="#5b90c2"/><stop offset="0.579" stop-color="#4676b4"/><stop offset="0.632" stop-color="#384ca0"/><stop offset="0.705" stop-color="#323997"/><stop offset="1" stop-color="#313695"/></linearGradient><linearGradient id="a118" x2="0" y2="1"><stop offset="0" stop-color="#313695"/><stop offset="0.329" stop-color="#333c98"/><stop offset="0.392" stop-color="#3a53a3"/><stop offset="0.437" stop-color="#4b7cb7"/><stop offset="0.447" stop-color="#6196c5"/><stop offset="0.455" stop-color="#86bbd9"/><stop offset="0.466" stop-color="#ddf1f7"/><stop offset="0.471" stop-color="#fdfec3"/><stop offset="0.476" stop-color="#fee293"/><stop offset="0.482" stop-color="#fdb769"/><stop offset="0.489" stop-color="#f67c4a"/><stop offset="0.497" stop-color="#ee603d"/><stop offset="0.511" stop-color="#ec5c3b"/><stop offset="0.518" stop-color="#f46e44"/><stop offset="0.526" stop-color="#fba15b"/><stop offset="0.532" stop-color="#fecc7d"/><stop offset="0.537" stop-color="#fff1aa"/><stop offset="0.539" stop-color="#fdfec2"/><stop offset="0.545" stop-color="#ddf1f7"/><stop offset="0.555" stop-color="#86bbd9"/><stop offset="0.563" stop-color="#6197c5"/><stop offset="0.576" stop-color="#4878b6"/><stop offset="0.626" stop-color="#394fa1"/><stop offset="0.697" stop-color="#323a97"/><stop offset="1" stop-color="#313695"/></linearGradient><linearGradient id="a119" x2="0" y2="1"><stop offset="0" stop-color="#313695"/><stop offset="0.329" stop-color="#333c98"/><stop offset="0.392" stop-color="#3a53a3"/><stop offset="0.437" stop-color="#4a7bb7"/><stop offset="0.447" stop-color="#5f94c4"/><stop offset="0.455" stop-color="#81b8d7"/><stop offset="0.463" stop-color="#bde2ee"/><stop offset="0.466" stop-color="#d5eef5"/><stop offset="0.468" stop-color="#e9f6e8"/><stop offset="0.471" stop-color="#f8fccc"/><stop offset="0.474" stop-color="#fff6b2"/><stop offset="0.484" stop-color="#fdab5f"/><stop offset="0.492" stop-color="#f57647"/><stop offset="0.5" stop-color="#ef623e"/><stop offset="0.513" stop-color="#f06540"/><stop offset="0.521" stop-color="#f7844d"/><stop offset="0.526" stop-color="#fdaa5f"/><stop offset="0.537" stop-color="#fff6b2"/><stop offset="0.539" stop-color="#f8fccb"/><stop offset="0.542" stop-color="#e9f6e8"/><stop offset="0.545" stop-color="#d5eef5"/><stop offset="0.553" stop-color="#93c6df"/><stop offset="0.561" stop-color="#689fca"/><stop offset="0.571" stop-color="#4e7fb9"/><stop offset="0.589" stop-color="#4169ae"/><stop offset="0.645" stop-color="#36469d"/><stop offset="0.739" stop-color="#313796"/><stop offset="1" stop-color="#313695"/></linearGradient><linearGradient id="a120" x2="0" y2="1"><stop offset="0" stop-color="#313695"/><stop offset="0.329" stop-color="#333c98"/><stop offset="0.392" stop-color="#3a52a3"/><stop offset="0.437" stop-color="#497ab7"/><stop offset="0.447" stop-color="#5d92c3"/><stop offset="0.455" stop-color="#7db4d5"/><stop offset="0.463" stop-color="#b7dfec"/><stop offset="0.466" stop-color="#ceeaf3"/><stop offset="0.468" stop-color="#e4f5f0"/><stop offset="0.474" stop-color="#fffbb9"/><stop offset="0.479" stop-color="#fedc8c"/><stop offset="0.484" stop-color="#fdb365"/><stop offset="0.492" stop-color="#f67d4a"/><stop offset="0.5" stop-color="#f16840"/><stop offset="0.511" stop-color="#f16740"/><stop offset="0.518" stop-color="#f67d4a"/><stop offset="0.526" stop-color="#fdb265"/><stop offset="0.534" stop-color="#feeca2"/><stop offset="0.537" stop-color="#fffbb9"/><stop offset="0.542" stop-color="#e4f5f0"/><stop offset="0.545" stop-color="#ceeaf3"/><stop offset="0.553" stop-color="#8ec2dc"/><stop offset="0.561" stop-color="#659cc8"/><stop offset="0.571" stop-color="#4d7eb9"/><stop offset="0.595" stop-color="#4064ac"/><stop offset="0.653" stop-color="#35439b"/><stop offset="0.766" stop-color="#313795"/><stop offset="1" stop-color="#313695"/></linearGradient><linearGradient id="a121" x2="0" y2="1"><stop offset="0" stop-color="#313695"/><stop offset="0.329" stop-color="#333c98"/><stop offset="0.392" stop-color="#3a52a3"/><stop offset="0.437" stop-color="#4879b6"/><stop offset="0.447" stop-color="#5b90c2"/><stop offset="0.455" stop-color="#79b1d3"/><stop offset="0.463" stop-color="#b1dceb"/><stop offset="0.468" stop-color="#dff3f8"/><stop offset="0.474" stop-color="#feffc1"/><stop offset="0.479" stop-color="#fee294"/><stop offset="0.487" stop-color="#fca75e"/><stop offset="0.495" stop-color="#f67949"/><stop offset="0.503" stop-color="#f36b42"/><stop offset="0.513" stop-color="#f57245"/><stop offset="0.521" stop-color="#f99455"/><stop offset="0.526" stop-color="#fdba6c"/><stop offset="0.534" stop-color="#fff1aa"/><stop offset="0.537" stop-color="#feffc1"/><stop offset="0.542" stop-color="#dff3f8"/><stop offset="0.553" stop-color="#89beda"/><stop offset="0.561" stop-color="#6399c7"/><stop offset="0.571" stop-color="#4c7db8"/><stop offset="0.6" stop-color="#3e5fa9"/><stop offset="0.658" stop-color="#34419a"/><stop offset="0.789" stop-color="#313695"/><stop offset="1" stop-color="#313695"/></linearGradient><linearGradient id="a122" x2="0" y2="1"><stop offset="0" stop-color="#313695"/><stop offset="0.329" stop-color="#333c98"/><stop offset="0.392" stop-color="#3a52a3"/><stop offset="0.437" stop-color="#4878b6"/><stop offset="0.45" stop-color="#6196c5"/><stop offset="0.458" stop-color="#84bad8"/><stop offset="0.466" stop-color="#c0e3ef"/><stop offset="0.468" stop-color="#d8eff6"/><stop offset="0.471" stop-color="#eaf7e6"/><stop offset="0.474" stop-color="#f9fdca"/><stop offset="0.479" stop-color="#fee79b"/><stop offset="0.487" stop-color="#fdaf62"/><stop offset="0.495" stop-color="#f7804c"/><stop offset="0.503" stop-color="#f57145"/><stop offset="0.513" stop-color="#f67848"/><stop offset="0.521" stop-color="#fa9c59"/><stop offset="0.526" stop-color="#fdc173"/><stop offset="0.534" stop-color="#fff6b1"/><stop offset="0.537" stop-color="#f9fdca"/><stop offset="0.539" stop-color="#eaf7e6"/><stop offset="0.542" stop-color="#d8eff6"/><stop offset="0.55" stop-color="#96c8e0"/><stop offset="0.558" stop-color="#6aa1cb"/><stop offset="0.568" stop-color="#4f81ba"/><stop offset="0.584" stop-color="#426cb0"/><stop offset="0.639" stop-color="#36479d"/><stop offset="0.729" stop-color="#313796"/><stop offset="1" stop-color="#313695"/></linearGradient><linearGradient id="a123" x2="0" y2="1"><stop offset="0" stop-color="#313695"/><stop offset="0.332" stop-color="#333c98"/><stop offset="0.395" stop-color="#3a53a3"/><stop offset="0.439" stop-color="#4a7bb7"/><stop offset="0.45" stop-color="#5f94c4"/><stop offset="0.458" stop-color="#81b7d7"/><stop offset="0.468" stop-color="#d3ecf4"/><stop offset="0.471" stop-color="#e7f6ec"/><stop offset="0.476" stop-color="#fff9b6"/><stop offset="0.484" stop-color="#fdc678"/><stop offset="0.489" stop-color="#fba25b"/><stop offset="0.497" stop-color="#f67d4a"/><stop offset="0.508" stop-color="#f57547"/><stop offset="0.516" stop-color="#f7854e"/><stop offset="0.524" stop-color="#fdb467"/><stop offset="0.532" stop-color="#feeba0"/><stop offset="0.534" stop-color="#fff9b6"/><stop offset="0.539" stop-color="#e7f6ec"/><stop offset="0.542" stop-color="#d3ecf4"/><stop offset="0.553" stop-color="#81b7d7"/><stop offset="0.561" stop-color="#5f94c4"/><stop offset="0.574" stop-color="#4777b5"/><stop offset="0.624" stop-color="#394ea1"/><stop offset="0.695" stop-color="#323a97"/><stop offset="1" stop-color="#313695"/></linearGradient><linearGradient id="a124" x2="0" y2="1"><stop offset="0" stop-color="#313695"/><stop offset="0.332" stop-color="#333c98"/><stop offset="0.395" stop-color="#3a52a3"/><stop offset="0.439" stop-color="#497ab7"/><stop offset="0.45" stop-color="#5e93c3"/><stop offset="0.458" stop-color="#7fb5d6"/><stop offset="0.468" stop-color="#cfebf3"/><stop offset="0.471" stop-color="#e5f5ef"/><stop offset="0.476" stop-color="#fffbb9"/><stop offset="0.484" stop-color="#fec97a"/><stop offset="0.489" stop-color="#fca55d"/><stop offset="0.497" stop-color="#f77f4b"/><stop offset="0.508" stop-color="#f57748"/><stop offset="0.516" stop-color="#f8884f"/><stop offset="0.524" stop-color="#fdb769"/><stop offset="0.532" stop-color="#feeda3"/><stop offset="0.534" stop-color="#fffbb9"/><stop offset="0.539" stop-color="#e5f5ef"/><stop offset="0.542" stop-color="#cfebf3"/><stop offset="0.553" stop-color="#7fb5d6"/><stop offset="0.561" stop-color="#5e93c3"/><stop offset="0.574" stop-color="#4676b5"/><stop offset="0.624" stop-color="#384da0"/><stop offset="0.695" stop-color="#323a97"/><stop offset="1" stop-color="#313695"/></linearGradient><linearGradient id="a125" x2="0" y2="1"><stop offset="0" stop-color="#313695"/><stop offset="0.334" stop-color="#333c98"/><stop offset="0.397" stop-color="#3a53a3"/><stop offset="0.439" stop-color="#4879b6"/><stop offset="0.45" stop-color="#5d91c3"/><stop offset="0.458" stop-color="#7cb4d5"/><stop offset="0.466" stop-color="#b5deec"/><stop offset="0.471" stop-color="#e3f4f3"/><stop offset="0.476" stop-color="#fffdbc"/><stop offset="0.482" stop-color="#fee091"/><stop offset="0.489" stop-color="#fca85e"/><stop offset="0.497" stop-color="#f7824d"/><stop offset="0.508" stop-color="#f67a49"/><stop offset="0.516" stop-color="#f88b51"/><stop offset="0.521" stop-color="#fca85e"/><stop offset="0.529" stop-color="#fee091"/><stop offset="0.534" stop-color="#fffdbc"/><stop offset="0.539" stop-color="#e3f4f3"/><stop offset="0.545" stop-color="#b5deec"/><stop offset="0.553" stop-color="#7cb4d5"/><stop offset="0.561" stop-color="#5d91c3"/><stop offset="0.574" stop-color="#4576b4"/><stop offset="0.624" stop-color="#384da0"/><stop offset="0.695" stop-color="#323997"/><stop offset="1" stop-color="#313695"/></linearGradient><linearGradient id="a126" x2="0" y2="1"><stop offset="0" stop-color="#313695"/><stop offset="0.334" stop-color="#333c98"/><stop offset="0.397" stop-color="#3a52a3"/><stop offset="0.439" stop-color="#4878b6"/><stop offset="0.45" stop-color="#5b90c2"/><stop offset="0.458" stop-color="#7ab2d4"/><stop offset="0.466" stop-color="#b2ddeb"/><stop offset="0.471" stop-color="#e1f3f7"/><stop offset="0.476" stop-color="#ffffc0"/><stop offset="0.484" stop-color="#fecf80"/><stop offset="0.489" stop-color="#fdab60"/><stop offset="0.497" stop-color="#f7844e"/><stop offset="0.505" stop-color="#f67c4a"/><stop offset="0.513" stop-color="#f7844e"/><stop offset="0.521" stop-color="#fdab60"/><stop offset="0.529" stop-color="#fee294"/><stop offset="0.534" stop-color="#ffffc0"/><stop offset="0.539" stop-color="#e1f3f7"/><stop offset="0.55" stop-color="#8abfdb"/><stop offset="0.558" stop-color="#6399c7"/><stop offset="0.568" stop-color="#4b7cb8"/><stop offset="0.603" stop-color="#3c59a6"/><stop offset="0.661" stop-color="#343f99"/><stop offset="0.826" stop-color="#313695"/><stop offset="1" stop-color="#313695"/></linearGradient><linearGradient id="a127" x2="0" y2="1"><stop offset="0" stop-color="#313695"/><stop offset="0.337" stop-color="#333c98"/><stop offset="0.4" stop-color="#3a53a3"/><stop offset="0.439" stop-color="#4777b5"/><stop offset="0.45" stop-color="#5a8ec1"/><stop offset="0.458" stop-color="#78b0d3"/><stop offset="0.466" stop-color="#afdbea"/><stop offset="0.471" stop-color="#def2f7"/><stop offset="0.476" stop-color="#fdfec3"/><stop offset="0.484" stop-color="#fed282"/><stop offset="0.489" stop-color="#fdae61"/><stop offset="0.497" stop-color="#f8874f"/><stop offset="0.505" stop-color="#f67e4b"/><stop offset="0.513" stop-color="#f8874f"/><stop offset="0.521" stop-color="#fdae61"/><stop offset="0.529" stop-color="#fee496"/><stop offset="0.534" stop-color="#fdfec3"/><stop offset="0.539" stop-color="#def2f7"/><stop offset="0.55" stop-color="#88bdda"/><stop offset="0.558" stop-color="#6297c6"/><stop offset="0.568" stop-color="#4a7bb7"/><stop offset="0.605" stop-color="#3b57a5"/><stop offset="0.666" stop-color="#333d98"/><stop offset="0.887" stop-color="#313695"/><stop offset="1" stop-color="#313695"/></linearGradient><linearGradient id="a128" x2="0" y2="1"><stop offset="0" stop-color="#313695"/><stop offset="0.339" stop-color="#333c98"/><stop offset="0.4" stop-color="#3a53a3"/><stop offset="0.439" stop-color="#4676b5"/><stop offset="0.45" stop-color="#598cc0"/><stop offset="0.458" stop-color="#75aed2"/><stop offset="0.466" stop-color="#acdae9"/><stop offset="0.471" stop-color="#dbf0f7"/><stop offset="0.476" stop-color="#fbfdc7"/><stop offset="0.482" stop-color="#fee699"/><stop offset="0.489" stop-color="#fdb164"/><stop offset="0.497" stop-color="#f88950"/><stop offset="0.505" stop-color="#f7804c"/><stop offset="0.513" stop-color="#f88950"/><stop offset="0.521" stop-color="#fdb164"/><stop offset="0.529" stop-color="#fee699"/><stop offset="0.534" stop-color="#fbfdc7"/><stop offset="0.539" stop-color="#dbf0f7"/><stop offset="0.547" stop-color="#98cae1"/><stop offset="0.555" stop-color="#6aa1cb"/><stop offset="0.566" stop-color="#4d7fb9"/><stop offset="0.584" stop-color="#4167ad"/><stop offset="0.639" stop-color="#35449c"/><stop offset="0.737" stop-color="#313795"/><stop offset="1" stop-color="#313695"/></linearGradient><linearGradient id="a129" x2="0" y2="1"><stop offset="0" stop-color="#313695"/><stop offset="0.339" stop-color="#333c98"/><stop offset="0.4" stop-color="#3a52a3"/><stop offset="0.439" stop-color="#4575b4"/><stop offset="0.453" stop-color="#5f94c4"/><stop offset="0.461" stop-color="#83b9d7"/><stop offset="0.471" stop-color="#d7eff6"/><stop offset="0.474" stop-color="#eaf7e6"/><stop offset="0.476" stop-color="#f9fdcb"/><stop offset="0.479" stop-color="#fff6b2"/><stop offset="0.487" stop-color="#fdc476"/><stop offset="0.492" stop-color="#fba35c"/><stop offset="0.5" stop-color="#f7864e"/><stop offset="0.511" stop-color="#f7864e"/><stop offset="0.518" stop-color="#fba35c"/><stop offset="0.524" stop-color="#fdc476"/><stop offset="0.532" stop-color="#fff6b2"/><stop offset="0.534" stop-color="#f9fdcb"/><stop offset="0.537" stop-color="#eaf7e6"/><stop offset="0.539" stop-color="#d7eff6"/><stop offset="0.55" stop-color="#83b9d7"/><stop offset="0.558" stop-color="#5f94c4"/><stop offset="0.571" stop-color="#4575b4"/><stop offset="0.616" stop-color="#394fa1"/><stop offset="0.682" stop-color="#323a97"/><stop offset="1" stop-color="#313695"/></linearGradient><linearGradient id="a130" x2="0" y2="1"><stop offset="0" stop-color="#313695"/><stop offset="0.342" stop-color="#333c98"/><stop offset="0.403" stop-color="#3a53a3"/><stop offset="0.442" stop-color="#4778b6"/><stop offset="0.453" stop-color="#5d92c3"/><stop offset="0.461" stop-color="#80b7d6"/><stop offset="0.471" stop-color="#d4edf5"/><stop offset="0.474" stop-color="#e8f6ea"/><stop offset="0.476" stop-color="#f7fcce"/><stop offset="0.479" stop-color="#fff8b5"/><stop offset="0.487" stop-color="#fdc778"/><stop offset="0.492" stop-color="#fca65d"/><stop offset="0.5" stop-color="#f88850"/><stop offset="0.511" stop-color="#f88850"/><stop offset="0.518" stop-color="#fca65d"/><stop offset="0.524" stop-color="#fdc778"/><stop offset="0.532" stop-color="#fff8b5"/><stop offset="0.534" stop-color="#f7fcce"/><stop offset="0.537" stop-color="#e8f6ea"/><stop offset="0.539" stop-color="#d4edf5"/><stop offset="0.55" stop-color="#80b7d6"/><stop offset="0.558" stop-color="#5d92c3"/><stop offset="0.571" stop-color="#4574b4"/><stop offset="0.616" stop-color="#394ea1"/><stop offset="0.682" stop-color="#323a97"/><stop offset="1" stop-color="#313695"/></linearGradient><linearGradient id="a131" x2="0" y2="1"><stop offset="0" stop-color="#313695"/><stop offset="0.342" stop-color="#333b98"/><stop offset="0.403" stop-color="#3a52a3"/><stop offset="0.442" stop-color="#4777b5"/><stop offset="0.453" stop-color="#5c90c2"/><stop offset="0.461" stop-color="#7eb5d5"/><stop offset="0.471" stop-color="#d1ecf4"/><stop offset="0.474" stop-color="#e6f5ed"/><stop offset="0.479" stop-color="#fffab8"/><stop offset="0.489" stop-color="#fdb86b"/><stop offset="0.495" stop-color="#fa9b58"/><stop offset="0.503" stop-color="#f8884f"/><stop offset="0.511" stop-color="#f88b51"/><stop offset="0.516" stop-color="#fa9b58"/><stop offset="0.521" stop-color="#fdb86b"/><stop offset="0.532" stop-color="#fffab8"/><stop offset="0.537" stop-color="#e6f5ed"/><stop offset="0.539" stop-color="#d1ecf4"/><stop offset="0.55" stop-color="#7eb5d5"/><stop offset="0.558" stop-color="#5c90c2"/><stop offset="0.571" stop-color="#4473b3"/><stop offset="0.618" stop-color="#384ca0"/><stop offset="0.687" stop-color="#323997"/><stop offset="1" stop-color="#313695"/></linearGradient><linearGradient id="a132" x2="0" y2="1"><stop offset="0" stop-color="#313695"/><stop offset="0.345" stop-color="#333c98"/><stop offset="0.405" stop-color="#3a53a3"/><stop offset="0.442" stop-color="#4676b4"/><stop offset="0.453" stop-color="#5b8fc1"/><stop offset="0.461" stop-color="#7bb3d4"/><stop offset="0.468" stop-color="#b6dfec"/><stop offset="0.471" stop-color="#ceeaf3"/><stop offset="0.474" stop-color="#e4f4f1"/><stop offset="0.479" stop-color="#fffcbb"/><stop offset="0.487" stop-color="#fecc7d"/><stop offset="0.492" stop-color="#fdac60"/><stop offset="0.497" stop-color="#f99355"/><stop offset="0.505" stop-color="#f88950"/><stop offset="0.513" stop-color="#f99355"/><stop offset="0.518" stop-color="#fdac60"/><stop offset="0.526" stop-color="#fee090"/><stop offset="0.532" stop-color="#fffcbb"/><stop offset="0.537" stop-color="#e4f4f1"/><stop offset="0.539" stop-color="#ceeaf3"/><stop offset="0.547" stop-color="#8dc1dc"/><stop offset="0.555" stop-color="#6399c7"/><stop offset="0.566" stop-color="#497ab7"/><stop offset="0.597" stop-color="#3c59a6"/><stop offset="0.655" stop-color="#333e99"/><stop offset="0.834" stop-color="#313695"/><stop offset="1" stop-color="#313695"/></linearGradient><linearGradient id="a133" x2="0" y2="1"><stop offset="0" stop-color="#313695"/><stop offset="0.345" stop-color="#333b98"/><stop offset="0.405" stop-color="#3a52a3"/><stop offset="0.442" stop-color="#4575b4"/><stop offset="0.453" stop-color="#598dc0"/><stop offset="0.461" stop-color="#79b1d3"/><stop offset="0.468" stop-color="#b3ddeb"/><stop offset="0.474" stop-color="#e2f4f5"/><stop offset="0.479" stop-color="#ffffbe"/><stop offset="0.487" stop-color="#fecf80"/><stop offset="0.492" stop-color="#fdaf62"/><stop offset="0.5" stop-color="#f99053"/><stop offset="0.511" stop-color="#f99053"/><stop offset="0.518" stop-color="#fdaf62"/><stop offset="0.526" stop-color="#fee293"/><stop offset="0.532" stop-color="#ffffbe"/><stop offset="0.537" stop-color="#e2f4f5"/><stop offset="0.547" stop-color="#8abeda"/><stop offset="0.555" stop-color="#6197c6"/><stop offset="0.566" stop-color="#4879b6"/><stop offset="0.597" stop-color="#3c58a6"/><stop offset="0.655" stop-color="#333d99"/><stop offset="0.847" stop-color="#313695"/><stop offset="1" stop-color="#313695"/></linearGradient><linearGradient id="a134" x2="0" y2="1"><stop offset="0" stop-color="#313695"/><stop offset="0.347" stop-color="#333b98"/><stop offset="0.408" stop-color="#3a53a3"/><stop offset="0.442" stop-color="#4473b3"/><stop offset="0.453" stop-color="#578bbf"/><stop offset="0.461" stop-color="#76aed2"/><stop offset="0.468" stop-color="#afdbea"/><stop offset="0.474" stop-color="#def2f8"/><stop offset="0.479" stop-color="#fdfec3"/><stop offset="0.487" stop-color="#fed383"/><stop offset="0.492" stop-color="#fdb265"/><stop offset="0.5" stop-color="#f99354"/><stop offset="0.508" stop-color="#f98f53"/><stop offset="0.516" stop-color="#fca45c"/><stop offset="0.521" stop-color="#fdc173"/><stop offset="0.529" stop-color="#fff2ac"/><stop offset="0.532" stop-color="#fdfec3"/><stop offset="0.537" stop-color="#def2f8"/><stop offset="0.545" stop-color="#99cbe1"/><stop offset="0.553" stop-color="#69a0ca"/><stop offset="0.563" stop-color="#4b7db8"/><stop offset="0.587" stop-color="#3e5fa9"/><stop offset="0.642" stop-color="#34409a"/><stop offset="0.763" stop-color="#313695"/><stop offset="1" stop-color="#313695"/></linearGradient><linearGradient id="a135" x2="0" y2="1"><stop offset="0" stop-color="#313695"/><stop offset="0.35" stop-color="#333b98"/><stop offset="0.408" stop-color="#3a52a3"/><stop offset="0.442" stop-color="#4471b2"/><stop offset="0.453" stop-color="#5589be"/><stop offset="0.461" stop-color="#73acd0"/><stop offset="0.468" stop-color="#abd9e9"/><stop offset="0.474" stop-color="#daf0f6"/><stop offset="0.476" stop-color="#ebf7e3"/><stop offset="0.479" stop-color="#fbfdc7"/><stop offset="0.484" stop-color="#fee79a"/><stop offset="0.492" stop-color="#fdb568"/><stop offset="0.5" stop-color="#fa9656"/><stop offset="0.508" stop-color="#f99254"/><stop offset="0.516" stop-color="#fca85e"/><stop offset="0.521" stop-color="#fdc476"/><stop offset="0.529" stop-color="#fff5af"/><stop offset="0.532" stop-color="#fbfdc7"/><stop offset="0.534" stop-color="#ebf7e3"/><stop offset="0.537" stop-color="#daf0f6"/><stop offset="0.545" stop-color="#96c8e0"/><stop offset="0.553" stop-color="#679ec9"/><stop offset="0.563" stop-color="#4a7bb7"/><stop offset="0.587" stop-color="#3e5ea9"/><stop offset="0.642" stop-color="#34409a"/><stop offset="0.771" stop-color="#313695"/><stop offset="1" stop-color="#313695"/></linearGradient><linearGradient id="a136" x2="0" y2="1"><stop offset="0" stop-color="#313695"/><stop offset="0.353" stop-color="#333c98"/><stop offset="0.411" stop-color="#3a53a3"/><stop offset="0.445" stop-color="#4574b4"/><stop offset="0.455" stop-color="#5b90c2"/><stop offset="0.463" stop-color="#80b6d6"/><stop offset="0.474" stop-color="#d6eef5"/><stop offset="0.476" stop-color="#e9f6e8"/><stop offset="0.479" stop-color="#f8fccc"/><stop offset="0.482" stop-color="#fff7b3"/><stop offset="0.489" stop-color="#fec779"/><stop offset="0.495" stop-color="#fdab60"/><stop offset="0.503" stop-color="#fa9555"/><stop offset="0.511" stop-color="#fa9957"/><stop offset="0.516" stop-color="#fdab60"/><stop offset="0.524" stop-color="#feda8a"/><stop offset="0.529" stop-color="#fff7b3"/><stop offset="0.532" stop-color="#f8fccc"/><stop offset="0.534" stop-color="#e9f6e8"/><stop offset="0.537" stop-color="#d6eef5"/><stop offset="0.547" stop-color="#80b6d6"/><stop offset="0.555" stop-color="#5b90c2"/><stop offset="0.566" stop-color="#4574b4"/><stop offset="0.6" stop-color="#3a53a3"/><stop offset="0.658" stop-color="#333c98"/><stop offset="1" stop-color="#313695"/></linearGradient><linearGradient id="a137" x2="0" y2="1"><stop offset="0" stop-color="#313695"/><stop offset="0.353" stop-color="#333b98"/><stop offset="0.411" stop-color="#3a51a3"/><stop offset="0.445" stop-color="#4473b3"/><stop offset="0.455" stop-color="#598dc1"/><stop offset="0.463" stop-color="#7cb4d5"/><stop offset="0.474" stop-color="#d2ecf4"/><stop offset="0.476" stop-color="#e6f6ec"/><stop offset="0.482" stop-color="#fffab7"/><stop offset="0.489" stop-color="#feca7c"/><stop offset="0.495" stop-color="#fdae61"/><stop offset="0.503" stop-color="#fa9857"/><stop offset="0.511" stop-color="#fa9b58"/><stop offset="0.516" stop-color="#fdae61"/><stop offset="0.524" stop-color="#fedd8d"/><stop offset="0.529" stop-color="#fffab7"/><stop offset="0.534" stop-color="#e6f6ec"/><stop offset="0.537" stop-color="#d2ecf4"/><stop offset="0.547" stop-color="#7cb4d5"/><stop offset="0.555" stop-color="#598dc1"/><stop offset="0.566" stop-color="#4473b3"/><stop offset="0.6" stop-color="#3a51a3"/><stop offset="0.661" stop-color="#333b97"/><stop offset="1" stop-color="#313695"/></linearGradient><linearGradient id="a138" x2="0" y2="1"><stop offset="0" stop-color="#313695"/><stop offset="0.355" stop-color="#333b98"/><stop offset="0.413" stop-color="#3a52a3"/><stop offset="0.445" stop-color="#4471b2"/><stop offset="0.455" stop-color="#588bbf"/><stop offset="0.463" stop-color="#79b1d3"/><stop offset="0.474" stop-color="#ceeaf3"/><stop offset="0.476" stop-color="#e4f5f1"/><stop offset="0.482" stop-color="#fffcba"/><stop offset="0.489" stop-color="#fece7f"/><stop offset="0.495" stop-color="#fdb164"/><stop offset="0.503" stop-color="#fa9b58"/><stop offset="0.511" stop-color="#fb9e5a"/><stop offset="0.516" stop-color="#fdb164"/><stop offset="0.524" stop-color="#fee091"/><stop offset="0.529" stop-color="#fffcba"/><stop offset="0.534" stop-color="#e4f5f1"/><stop offset="0.537" stop-color="#ceeaf3"/><stop offset="0.547" stop-color="#79b1d3"/><stop offset="0.555" stop-color="#588bbf"/><stop offset="0.566" stop-color="#4471b2"/><stop offset="0.603" stop-color="#394fa1"/><stop offset="0.663" stop-color="#323a97"/><stop offset="1" stop-color="#313695"/></linearGradient><linearGradient id="a139" x2="0" y2="1"><stop offset="0" stop-color="#313695"/><stop offset="0.358" stop-color="#333b98"/><stop offset="0.416" stop-color="#3a53a3"/><stop offset="0.445" stop-color="#436fb1"/><stop offset="0.455" stop-color="#5689be"/><stop offset="0.463" stop-color="#76afd2"/><stop offset="0.471" stop-color="#b2dceb"/><stop offset="0.476" stop-color="#e1f4f5"/><stop offset="0.482" stop-color="#fffebe"/><stop offset="0.489" stop-color="#fed182"/><stop offset="0.495" stop-color="#fdb466"/><stop offset="0.503" stop-color="#fb9d59"/><stop offset="0.511" stop-color="#fba15b"/><stop offset="0.516" stop-color="#fdb466"/><stop offset="0.524" stop-color="#fee394"/><stop offset="0.529" stop-color="#fffebe"/><stop offset="0.534" stop-color="#e1f4f5"/><stop offset="0.542" stop-color="#9ccde2"/><stop offset="0.55" stop-color="#69a0ca"/><stop offset="0.561" stop-color="#497ab6"/><stop offset="0.582" stop-color="#3d5da8"/><stop offset="0.634" stop-color="#34409a"/><stop offset="0.758" stop-color="#313695"/><stop offset="1" stop-color="#313695"/></linearGradient><linearGradient id="a140" x2="0" y2="1"><stop offset="0" stop-color="#313695"/><stop offset="0.361" stop-color="#333b98"/><stop offset="0.418" stop-color="#3a54a4"/><stop offset="0.447" stop-color="#4473b3"/><stop offset="0.458" stop-color="#5c91c2"/><stop offset="0.466" stop-color="#84bad8"/><stop offset="0.474" stop-color="#c5e6f0"/><stop offset="0.476" stop-color="#def2f8"/><stop offset="0.482" stop-color="#fdfec3"/><stop offset="0.489" stop-color="#fed485"/><stop offset="0.497" stop-color="#fdad60"/><stop offset="0.505" stop-color="#fb9f5a"/><stop offset="0.513" stop-color="#fdad60"/><stop offset="0.521" stop-color="#fed485"/><stop offset="0.529" stop-color="#fdfec3"/><stop offset="0.534" stop-color="#def2f8"/><stop offset="0.542" stop-color="#98cae1"/><stop offset="0.55" stop-color="#679dc9"/><stop offset="0.561" stop-color="#4878b6"/><stop offset="0.582" stop-color="#3d5ca8"/><stop offset="0.634" stop-color="#343f99"/><stop offset="0.766" stop-color="#313695"/><stop offset="1" stop-color="#313695"/></linearGradient><linearGradient id="a141" x2="0" y2="1"><stop offset="0" stop-color="#313695"/><stop offset="0.363" stop-color="#333b98"/><stop offset="0.421" stop-color="#3a53a3"/><stop offset="0.447" stop-color="#436eb1"/><stop offset="0.458" stop-color="#578bbf"/><stop offset="0.466" stop-color="#7bb3d4"/><stop offset="0.476" stop-color="#d1ecf4"/><stop offset="0.479" stop-color="#e6f5ed"/><stop offset="0.484" stop-color="#fffbb9"/><stop offset="0.492" stop-color="#fed283"/><stop offset="0.5" stop-color="#fdb567"/><stop offset="0.508" stop-color="#fdb164"/><stop offset="0.516" stop-color="#fdc577"/><stop offset="0.524" stop-color="#feeea5"/><stop offset="0.526" stop-color="#fffbb9"/><stop offset="0.532" stop-color="#e6f5ed"/><stop offset="0.534" stop-color="#d1ecf4"/><stop offset="0.545" stop-color="#7bb3d4"/><stop offset="0.553" stop-color="#578bbf"/><stop offset="0.563" stop-color="#436eb1"/><stop offset="0.592" stop-color="#3951a2"/><stop offset="0.65" stop-color="#333b97"/><stop offset="1" stop-color="#313695"/></linearGradient><linearGradient id="a142" x2="0" y2="1"><stop offset="0" stop-color="#313695"/><stop offset="0.374" stop-color="#333b98"/><stop offset="0.429" stop-color="#3a52a3"/><stop offset="0.45" stop-color="#426aaf"/><stop offset="0.458" stop-color="#4e80ba"/><stop offset="0.466" stop-color="#6da5cd"/><stop offset="0.474" stop-color="#a5d4e6"/><stop offset="0.479" stop-color="#d1ecf4"/><stop offset="0.482" stop-color="#e5f5ef"/><stop offset="0.487" stop-color="#ffffbf"/><stop offset="0.495" stop-color="#fee191"/><stop offset="0.503" stop-color="#fecc7e"/><stop offset="0.511" stop-color="#fed081"/><stop offset="0.518" stop-color="#fee99e"/><stop offset="0.524" stop-color="#ffffbf"/><stop offset="0.529" stop-color="#e5f5ef"/><stop offset="0.532" stop-color="#d1ecf4"/><stop offset="0.542" stop-color="#7db4d5"/><stop offset="0.55" stop-color="#578abf"/><stop offset="0.558" stop-color="#4370b2"/><stop offset="0.576" stop-color="#3b56a5"/><stop offset="0.629" stop-color="#333d98"/><stop offset="0.837" stop-color="#313695"/><stop offset="1" stop-color="#313695"/></linearGradient><linearGradient id="a143" x2="0" y2="1"><stop offset="0" stop-color="#313695"/><stop offset="0.387" stop-color="#333b98"/><stop offset="0.437" stop-color="#3950a2"/><stop offset="0.453" stop-color="#4065ac"/><stop offset="0.461" stop-color="#4c7db8"/><stop offset="0.468" stop-color="#6ca4cc"/><stop offset="0.479" stop-color="#b8dfed"/><stop offset="0.484" stop-color="#e2f4f5"/><stop offset="0.492" stop-color="#fffbb9"/><stop offset="0.5" stop-color="#fee89d"/><stop offset="0.508" stop-color="#fee699"/><stop offset="0.516" stop-color="#fff3ad"/><stop offset="0.521" stop-color="#f9fdcb"/><stop offset="0.526" stop-color="#e1f4f5"/><stop offset="0.534" stop-color="#a2d2e5"/><stop offset="0.542" stop-color="#6ca3cc"/><stop offset="0.553" stop-color="#4473b3"/><stop offset="0.566" stop-color="#3b57a5"/><stop offset="0.605" stop-color="#343f9a"/><stop offset="0.726" stop-color="#313695"/><stop offset="1" stop-color="#313695"/></linearGradient><linearGradient id="a144" x2="0" y2="1"><stop offset="0" stop-color="#313695"/><stop offset="0.405" stop-color="#333b98"/><stop offset="0.447" stop-color="#384ea1"/><stop offset="0.461" stop-color="#4066ad"/><stop offset="0.468" stop-color="#5284bc"/><stop offset="0.476" stop-color="#77b0d2"/><stop offset="0.484" stop-color="#addaea"/><stop offset="0.492" stop-color="#dff3f8"/><stop offset="0.5" stop-color="#f1fad8"/><stop offset="0.508" stop-color="#f4fbd4"/><stop offset="0.516" stop-color="#e7f6eb"/><stop offset="0.518" stop-color="#dff2f8"/><stop offset="0.526" stop-color="#addaea"/><stop offset="0.537" stop-color="#699fca"/><stop offset="0.545" stop-color="#4879b6"/><stop offset="0.555" stop-color="#3c59a6"/><stop offset="0.576" stop-color="#35449c"/><stop offset="0.653" stop-color="#313795"/><stop offset="1" stop-color="#313695"/></linearGradient><linearGradient id="a145" x2="0" y2="1"><stop offset="0" stop-color="#313695"/><stop offset="0.429" stop-color="#333b97"/><stop offset="0.458" stop-color="#37499e"/><stop offset="0.471" stop-color="#4065ac"/><stop offset="0.479" stop-color="#5184bc"/><stop offset="0.492" stop-color="#88bdda"/><stop offset="0.5" stop-color="#a1d1e4"/><stop offset="0.508" stop-color="#a4d4e6"/><stop offset="0.516" stop-color="#92c5de"/><stop offset="0.526" stop-color="#669cc8"/><stop offset="0.537" stop-color="#436eb1"/><stop offset="0.55" stop-color="#384ca0"/><stop offset="0.576" stop-color="#333b98"/><stop offset="0.929" stop-color="#313695"/><stop offset="1" stop-color="#313695"/></linearGradient><linearGradient id="a146" x2="0" y2="1"><stop offset="0" stop-color="#313695"/><stop offset="0.458" stop-color="#323a97"/><stop offset="0.476" stop-color="#374a9f"/><stop offset="0.5" stop-color="#497ab7"/><stop offset="0.511" stop-color="#497ab7"/><stop offset="0.539" stop-color="#35439b"/><stop offset="0.571" stop-color="#313796"/><stop offset="1" stop-color="#313695"/></linearGradient><linearGradient id="a147" x2="0" y2="1"><stop offset="0" stop-color="#313695"/><stop offset="0.474" stop-color="#323a97"/><stop offset="0.508" stop-color="#384da0"/><stop offset="0.55" stop-color="#313795"/><stop offset="1" stop-color="#313695"/></linearGradient><clipPath id="cpa"><polygon points="67.4,252 67.4,213.5 70.5,212.7 75.5,212 79.8,204.7 83.8,195.6 87.6,185.5 90.2,180 92.5,173.1 96.1,161.4 101.9,149.7 104,143 106.7,137.6 106.7,133.7 108.6,130.8 112.5,126 112.5,122 116.4,122 122.3,120.1 126.2,117.2 128.1,114.2 131,110.3 134,107.4 137.9,102.5 142.8,96.7 140,91.7 142.9,92.6 145.8,91.7 148.8,89.7 151.7,87.8 154.6,86.8 157.5,84.8 161.4,81.9 164.4,80 167.3,79 171.2,76.1 174.1,74.1 177,71.2 180,67.3 181.9,65.3 185.8,62.4 190.7,60.5 195.6,59.1 199.9,57.5 203.1,56.7 207.2,58.3 209.6,56.7 212,54.2 214.5,51 216.9,49.4 221,47.7 224.2,46.1 227.5,45.3 230.7,43.7 234,41.2 237.2,38.8 239.6,37.2 243.1,34.2 246.4,35 249.6,34.2 251.2,31 253.7,30.2 255.3,28.6 259.4,26.9 261.8,27.7 264.2,25.3 265.8,26.9 267.5,30.2 269.9,29.4 272.3,30.2 271.5,35.9 269.9,42.4 269.9,50.5 271,55 273.4,59.9 275,64.7 274.2,69.6 275,76.1 273.4,79.4 274.2,82.6 272.6,85.8 271,87.5 272,90 271.2,96.5 267.5,100 265,104 266.3,108 264,113 266.5,117 266,123 264.5,128 261.5,133.5 256,137.5 250.7,140.5 245.4,143.5 238,145 231.1,151.4 225.7,156.8 220.4,163.9 215,171 213.3,169.5 212.2,172.7 211.2,177.9 208,182.2 203.8,184.3 199.6,187.4 195.4,190.6 192.2,193.8 188,196.9 183.8,198 179.5,199 175.3,202.2 171.1,205.4 166.9,207.5 166.4,210.6 163.8,211.9 161.2,211.2 158.6,211.9 156,212.5 154,213.8 152.7,216.4 150.8,218.4 148.2,219.7 145.6,220.3 143,221 140.4,222.3 137.8,224.2 135.2,226.2 131.5,228.5 128.1,233 124.2,235 120.3,236.9 116.4,238.9 112.5,239.8 108.6,241.8 104.7,242.8 100.8,244.7 97.9,246.7 95,250.6 89.2,250.5 81.4,251.7 70.6,252"/><circle cx="112.5" cy="121.6" r="1.5"/><circle cx="116.8" cy="121.6" r="1.5"/><circle cx="121.3" cy="121.6" r="1.5"/><circle cx="108.6" cy="128.3" r="1.5"/><circle cx="105.7" cy="130.2" r="1.5"/><circle cx="100.8" cy="137.6" r="1.5"/><circle cx="107" cy="136" r="1.5"/><circle cx="131.5" cy="110" r="1.5"/><circle cx="137.9" cy="103.5" r="1.5"/><circle cx="141.2" cy="92.4" r="1.5"/><circle cx="146" cy="92.4" r="1.5"/><circle cx="168.8" cy="68.3" r="1.5"/><circle cx="178" cy="68.3" r="1.5"/><circle cx="172.2" cy="75.1" r="1.5"/><circle cx="161.4" cy="80.9" r="1.5"/><circle cx="160.5" cy="81.9" r="1.5"/><circle cx="145.8" cy="92.6" r="1.5"/><circle cx="274.4" cy="107.8" r="1.5"/><circle cx="269.6" cy="101.3" r="1.5"/><circle cx="286.7" cy="108.4" r="1.5"/><circle cx="278" cy="89.7" r="1.5"/><circle cx="271.8" cy="92.3" r="1.5"/><circle cx="271" cy="95.6" r="1.5"/><circle cx="268.5" cy="98" r="1.5"/><circle cx="269.4" cy="100.5" r="1.5"/><circle cx="231.1" cy="152.3" r="1.5"/><circle cx="248" cy="149.6" r="1.5"/><circle cx="244.5" cy="152.3" r="1.5"/><circle cx="263.2" cy="152.3" r="1.5"/><circle cx="264.1" cy="145.2" r="1.5"/><circle cx="263.2" cy="138.9" r="1.5"/><circle cx="267.7" cy="147.9" r="1.5"/><circle cx="269.5" cy="147.9" r="1.5"/><circle cx="251.6" cy="155.9" r="1.5"/><circle cx="251.6" cy="159.5" r="1.5"/><circle cx="249.8" cy="163.9" r="1.5"/><circle cx="251.6" cy="163.9" r="1.5"/><circle cx="268.6" cy="158.6" r="1.5"/><circle cx="266.8" cy="161.3" r="1.5"/><circle cx="267.7" cy="163.9" r="1.5"/><circle cx="268.6" cy="165.7" r="1.5"/><circle cx="230.2" cy="157.7" r="1.5"/><circle cx="236.4" cy="157.7" r="1.5"/><circle cx="241.8" cy="158.6" r="1.5"/><circle cx="242.7" cy="160.4" r="1.5"/><circle cx="223" cy="162.1" r="1.5"/><circle cx="223" cy="170.2" r="1.5"/><circle cx="229.3" cy="165.7" r="1.5"/><circle cx="218.6" cy="170.2" r="1.5"/><circle cx="231.1" cy="176.1" r="1.5"/><circle cx="234.6" cy="178.2" r="1.5"/><circle cx="236.4" cy="177.3" r="1.5"/><circle cx="239.1" cy="176.1" r="1.5"/><circle cx="242.7" cy="176.1" r="1.5"/><circle cx="220.4" cy="181.8" r="1.5"/><circle cx="264" cy="138.6" r="1.5"/><circle cx="267.2" cy="145" r="1.5"/><circle cx="264" cy="151.6" r="1.5"/><circle cx="267.2" cy="159.7" r="1.5"/><circle cx="251" cy="158" r="1.5"/><circle cx="242.9" cy="156.4" r="1.5"/><circle cx="236.4" cy="159.7" r="1.5"/><circle cx="229.9" cy="159.7" r="1.5"/><circle cx="229.9" cy="166.2" r="1.5"/><circle cx="249.4" cy="151.6" r="1.5"/><circle cx="255.8" cy="145" r="1.5"/><circle cx="259.1" cy="141.8" r="1.5"/><circle cx="154.2" cy="215.9" r="1.5"/><circle cx="157.4" cy="215.9" r="1.5"/><circle cx="167.9" cy="217" r="1.5"/><circle cx="172.2" cy="213.8" r="1.5"/><circle cx="174.3" cy="209.6" r="1.5"/><circle cx="184.8" cy="204.3" r="1.5"/><circle cx="188" cy="206.4" r="1.5"/><circle cx="185.9" cy="213.8" r="1.5"/><circle cx="190.1" cy="213.8" r="1.5"/><circle cx="189" cy="198" r="1.5"/><circle cx="205.9" cy="195.9" r="1.5"/><circle cx="208" cy="191.6" r="1.5"/><circle cx="188.3" cy="198.2" r="1.5"/><circle cx="184.9" cy="204" r="1.5"/><circle cx="211.2" cy="186" r="1.5"/><circle cx="131" cy="226.2" r="1.5"/><circle cx="214.5" cy="51.8" r="1.5"/><circle cx="242.1" cy="39.6" r="1.5"/><circle cx="69.4" cy="252" r="1.5"/><circle cx="68.3" cy="249.7" r="1.5"/><circle cx="69.1" cy="247.4" r="1.5"/><circle cx="69.1" cy="245.1" r="1.5"/><circle cx="68.5" cy="242.8" r="1.5"/><circle cx="68.8" cy="240.5" r="1.5"/><circle cx="69" cy="238.2" r="1.5"/><circle cx="68.5" cy="235.9" r="1.5"/><circle cx="68.5" cy="233.6" r="1.5"/><circle cx="68.7" cy="231.3" r="1.5"/><circle cx="68.6" cy="229" r="1.5"/><circle cx="68.6" cy="226.7" r="1.5"/><circle cx="68.4" cy="224.4" r="1.5"/><circle cx="69.1" cy="222.1" r="1.5"/><circle cx="69" cy="219.8" r="1.5"/><circle cx="68.6" cy="217.5" r="1.5"/><circle cx="68.6" cy="215.2" r="1.5"/><circle cx="67.9" cy="215.4" r="1.5"/><circle cx="69.9" cy="214.1" r="1.5"/><circle cx="70.7" cy="214.1" r="1.5"/><circle cx="72.9" cy="213.3" r="1.5"/><circle cx="75.2" cy="213.1" r="1.5"/><circle cx="77.1" cy="212.9" r="1.5"/><circle cx="77.9" cy="210.7" r="1.5"/><circle cx="78.6" cy="208.5" r="1.5"/><circle cx="80" cy="206.7" r="1.5"/><circle cx="80.9" cy="205.2" r="1.5"/><circle cx="81.9" cy="203.1" r="1.5"/><circle cx="82.5" cy="200.9" r="1.5"/><circle cx="83.4" cy="198.7" r="1.5"/><circle cx="84.9" cy="196.9" r="1.5"/><circle cx="85.3" cy="196.2" r="1.5"/><circle cx="85.5" cy="193.8" r="1.5"/><circle cx="86.9" cy="191.9" r="1.5"/><circle cx="87.9" cy="189.8" r="1.5"/><circle cx="88.6" cy="187.6" r="1.5"/><circle cx="88.9" cy="186.1" r="1.5"/><circle cx="90.1" cy="184.1" r="1.5"/><circle cx="90.4" cy="181.7" r="1.5"/><circle cx="91.5" cy="180.4" r="1.5"/><circle cx="92" cy="178.2" r="1.5"/><circle cx="92.6" cy="175.9" r="1.5"/><circle cx="94.2" cy="174.1" r="1.5"/><circle cx="94.1" cy="173.6" r="1.5"/><circle cx="94.4" cy="171.3" r="1.5"/><circle cx="95.2" cy="169.1" r="1.5"/><circle cx="96" cy="166.9" r="1.5"/><circle cx="96.9" cy="164.8" r="1.5"/><circle cx="96.8" cy="162.4" r="1.5"/><circle cx="97.8" cy="162.3" r="1.5"/><circle cx="98.5" cy="160" r="1.5"/><circle cx="99.6" cy="158" r="1.5"/><circle cx="100.2" cy="155.8" r="1.5"/><circle cx="101" cy="153.6" r="1.5"/><circle cx="102.4" cy="151.7" r="1.5"/><circle cx="103.6" cy="150.2" r="1.5"/><circle cx="104" cy="148" r="1.5"/><circle cx="104.9" cy="145.8" r="1.5"/><circle cx="105.5" cy="143.6" r="1.5"/><circle cx="105.3" cy="143.7" r="1.5"/><circle cx="106.5" cy="141.7" r="1.5"/><circle cx="107.3" cy="139.5" r="1.5"/><circle cx="108" cy="137.6" r="1.5"/><circle cx="108.4" cy="135.3" r="1.5"/><circle cx="107.5" cy="134.2" r="1.5"/><circle cx="109.2" cy="132.6" r="1.5"/><circle cx="109.3" cy="131.4" r="1.5"/><circle cx="111" cy="129.8" r="1.5"/><circle cx="112.5" cy="128" r="1.5"/><circle cx="113.9" cy="126" r="1.5"/><circle cx="113.9" cy="123.7" r="1.5"/><circle cx="112.5" cy="123.2" r="1.5"/><circle cx="114.8" cy="122.9" r="1.5"/><circle cx="116.9" cy="123.5" r="1.5"/><circle cx="118.9" cy="122.4" r="1.5"/><circle cx="121.3" cy="122.2" r="1.5"/><circle cx="123.1" cy="121.1" r="1.5"/><circle cx="125.1" cy="120" r="1.5"/><circle cx="126.9" cy="118.6" r="1.5"/><circle cx="127.5" cy="118" r="1.5"/><circle cx="128.3" cy="115.8" r="1.5"/><circle cx="128.9" cy="114.8" r="1.5"/><circle cx="131" cy="113.5" r="1.5"/><circle cx="131.7" cy="111.1" r="1.5"/><circle cx="132.3" cy="111.7" r="1.5"/><circle cx="133.7" cy="109.8" r="1.5"/><circle cx="135.4" cy="108.5" r="1.5"/><circle cx="136.9" cy="106.8" r="1.5"/><circle cx="137.5" cy="104.3" r="1.5"/><circle cx="139.2" cy="103.6" r="1.5"/><circle cx="140.3" cy="101.5" r="1.5"/><circle cx="142.3" cy="100.2" r="1.5"/><circle cx="143.5" cy="98.2" r="1.5"/><circle cx="143.9" cy="96.1" r="1.5"/><circle cx="143.3" cy="93.8" r="1.5"/><circle cx="141.3" cy="92.2" r="1.5"/><circle cx="139.7" cy="92.6" r="1.5"/><circle cx="141.9" cy="93.3" r="1.5"/><circle cx="143.2" cy="93.5" r="1.5"/><circle cx="145.4" cy="92.8" r="1.5"/><circle cx="146.4" cy="92.6" r="1.5"/><circle cx="148.6" cy="91.8" r="1.5"/><circle cx="149.9" cy="91.4" r="1.5"/><circle cx="151.7" cy="89.9" r="1.5"/><circle cx="152.3" cy="89.6" r="1.5"/><circle cx="154.5" cy="88.9" r="1.5"/><circle cx="155.3" cy="87.8" r="1.5"/><circle cx="157.5" cy="86.9" r="1.5"/><circle cx="158.2" cy="85.7" r="1.5"/><circle cx="160.2" cy="84.6" r="1.5"/><circle cx="161.9" cy="83" r="1.5"/><circle cx="162.3" cy="83.3" r="1.5"/><circle cx="163.8" cy="81.5" r="1.5"/><circle cx="165" cy="81.6" r="1.5"/><circle cx="167.1" cy="80.7" r="1.5"/><circle cx="167.9" cy="79.7" r="1.5"/><circle cx="170.3" cy="79.1" r="1.5"/><circle cx="171.8" cy="77.4" r="1.5"/><circle cx="172.3" cy="77.7" r="1.5"/><circle cx="173.6" cy="75.5" r="1.5"/><circle cx="175" cy="75" r="1.5"/><circle cx="176.4" cy="73.1" r="1.5"/><circle cx="178.6" cy="72.4" r="1.5"/><circle cx="179.1" cy="69.9" r="1.5"/><circle cx="181.2" cy="68.6" r="1.5"/><circle cx="180.6" cy="67.9" r="1.5"/><circle cx="182.5" cy="66.5" r="1.5"/><circle cx="182.6" cy="66.3" r="1.5"/><circle cx="184.7" cy="65.3" r="1.5"/><circle cx="186.6" cy="63.9" r="1.5"/><circle cx="186.4" cy="64" r="1.5"/><circle cx="188.4" cy="62.8" r="1.5"/><circle cx="190.8" cy="62.5" r="1.5"/><circle cx="191" cy="61.5" r="1.5"/><circle cx="193.2" cy="61" r="1.5"/><circle cx="195.4" cy="60.3" r="1.5"/><circle cx="196.1" cy="60.4" r="1.5"/><circle cx="198.4" cy="60.1" r="1.5"/><circle cx="200.4" cy="59.3" r="1.5"/><circle cx="202.3" cy="57.8" r="1.5"/><circle cx="202.4" cy="58.4" r="1.5"/><circle cx="204.8" cy="58.6" r="1.5"/><circle cx="207.7" cy="59.1" r="1.5"/><circle cx="210.2" cy="58.7" r="1.5"/><circle cx="210.3" cy="57.4" r="1.5"/><circle cx="211.9" cy="55.7" r="1.5"/><circle cx="212.6" cy="54.7" r="1.5"/><circle cx="214.1" cy="52.9" r="1.5"/><circle cx="215.1" cy="51.9" r="1.5"/><circle cx="217.2" cy="51" r="1.5"/><circle cx="217.6" cy="51" r="1.5"/><circle cx="219.5" cy="49.6" r="1.5"/><circle cx="221.4" cy="48.5" r="1.5"/><circle cx="223.7" cy="48" r="1.5"/><circle cx="224.6" cy="47.8" r="1.5"/><circle cx="226.8" cy="47" r="1.5"/><circle cx="227.9" cy="46.1" r="1.5"/><circle cx="230.2" cy="45.5" r="1.5"/><circle cx="231.7" cy="45" r="1.5"/><circle cx="233.3" cy="43.3" r="1.5"/><circle cx="234.7" cy="42.1" r="1.5"/><circle cx="236.8" cy="41.1" r="1.5"/><circle cx="237.8" cy="39.7" r="1.5"/><circle cx="239.9" cy="38.8" r="1.5"/><circle cx="240.7" cy="38.5" r="1.5"/><circle cx="242.4" cy="36.9" r="1.5"/><circle cx="243.6" cy="34.8" r="1.5"/><circle cx="242.9" cy="35" r="1.5"/><circle cx="245" cy="35.9" r="1.5"/><circle cx="246.6" cy="35.9" r="1.5"/><circle cx="248.8" cy="35.3" r="1.5"/><circle cx="251.2" cy="35" r="1.5"/><circle cx="251.7" cy="32.7" r="1.5"/><circle cx="251.8" cy="32.8" r="1.5"/><circle cx="253.8" cy="31.6" r="1.5"/><circle cx="254.6" cy="31.1" r="1.5"/><circle cx="255.7" cy="29.6" r="1.5"/><circle cx="257.8" cy="28.5" r="1.5"/><circle cx="259" cy="28.2" r="1.5"/><circle cx="261" cy="29.3" r="1.5"/><circle cx="262.8" cy="28.7" r="1.5"/><circle cx="264.7" cy="27.3" r="1.5"/><circle cx="263.3" cy="26.2" r="1.5"/><circle cx="264.6" cy="27.5" r="1.5"/><circle cx="265.7" cy="29.6" r="1.5"/><circle cx="267.9" cy="31.5" r="1.5"/><circle cx="270" cy="30.5" r="1.5"/><circle cx="269.4" cy="30.9" r="1.5"/><circle cx="271.7" cy="31.2" r="1.5"/><circle cx="270.4" cy="29.9" r="1.5"/><circle cx="270.4" cy="32.2" r="1.5"/><circle cx="270.3" cy="34.6" r="1.5"/><circle cx="269.8" cy="35.5" r="1.5"/><circle cx="269.9" cy="37.9" r="1.5"/><circle cx="268.8" cy="40" r="1.5"/><circle cx="268.2" cy="42.4" r="1.5"/><circle cx="268.7" cy="44.7" r="1.5"/><circle cx="268.4" cy="47" r="1.5"/><circle cx="268" cy="49.3" r="1.5"/><circle cx="268.9" cy="50.8" r="1.5"/><circle cx="269.5" cy="53" r="1.5"/><circle cx="270.1" cy="55.2" r="1.5"/><circle cx="270.2" cy="55.4" r="1.5"/><circle cx="270.9" cy="57.6" r="1.5"/><circle cx="272.3" cy="59.5" r="1.5"/><circle cx="271.5" cy="60.5" r="1.5"/><circle cx="273.1" cy="62.4" r="1.5"/><circle cx="273.6" cy="64.7" r="1.5"/><circle cx="273.9" cy="64.5" r="1.5"/><circle cx="273.7" cy="66.8" r="1.5"/><circle cx="272.3" cy="68.9" r="1.5"/><circle cx="272.4" cy="69.8" r="1.5"/><circle cx="272.6" cy="72.1" r="1.5"/><circle cx="272.9" cy="74.4" r="1.5"/><circle cx="273.3" cy="75.3" r="1.5"/><circle cx="272.2" cy="77.3" r="1.5"/><circle cx="272.2" cy="79.7" r="1.5"/><circle cx="273.1" cy="81.8" r="1.5"/><circle cx="272.6" cy="81.8" r="1.5"/><circle cx="271.5" cy="83.8" r="1.5"/><circle cx="271.3" cy="84.6" r="1.5"/><circle cx="270.2" cy="86.7" r="1.5"/><circle cx="269.4" cy="88.1" r="1.5"/><circle cx="270.5" cy="90.2" r="1.5"/><circle cx="271.2" cy="89.9" r="1.5"/><circle cx="270.2" cy="92.1" r="1.5"/><circle cx="270.3" cy="94.4" r="1.5"/><circle cx="270.5" cy="95.7" r="1.5"/><circle cx="268.5" cy="97" r="1.5"/><circle cx="266.8" cy="98.6" r="1.5"/><circle cx="265.9" cy="99" r="1.5"/><circle cx="264.8" cy="101" r="1.5"/><circle cx="264.2" cy="103.4" r="1.5"/><circle cx="264.2" cy="104.3" r="1.5"/><circle cx="264" cy="106.7" r="1.5"/><circle cx="265.5" cy="107.6" r="1.5"/><circle cx="264.1" cy="109.5" r="1.5"/><circle cx="262.7" cy="111.4" r="1.5"/><circle cx="262.5" cy="113.9" r="1.5"/><circle cx="264.1" cy="115.6" r="1.5"/><circle cx="264.9" cy="117.9" r="1.5"/><circle cx="264.6" cy="116.8" r="1.5"/><circle cx="264.6" cy="119.2" r="1.5"/><circle cx="264.9" cy="121.5" r="1.5"/><circle cx="264.7" cy="122.6" r="1.5"/><circle cx="264" cy="124.8" r="1.5"/><circle cx="263.9" cy="127.2" r="1.5"/><circle cx="262.8" cy="127.1" r="1.5"/><circle cx="262.1" cy="129.3" r="1.5"/><circle cx="260.9" cy="131.3" r="1.5"/><circle cx="260.3" cy="131.9" r="1.5"/><circle cx="258.5" cy="133.2" r="1.5"/><circle cx="256.9" cy="135" r="1.5"/><circle cx="255.1" cy="135.9" r="1.5"/><circle cx="253.2" cy="137.1" r="1.5"/><circle cx="251.6" cy="139" r="1.5"/><circle cx="250.2" cy="139.6" r="1.5"/><circle cx="248.2" cy="140.7" r="1.5"/><circle cx="246" cy="141.5" r="1.5"/><circle cx="245.2" cy="142.5" r="1.5"/><circle cx="243" cy="143.1" r="1.5"/><circle cx="240.7" cy="143.4" r="1.5"/><circle cx="238.4" cy="143.7" r="1.5"/><circle cx="237.1" cy="144" r="1.5"/><circle cx="235.2" cy="145.4" r="1.5"/><circle cx="233.6" cy="147" r="1.5"/><circle cx="232" cy="148.7" r="1.5"/><circle cx="230.3" cy="150.2" r="1.5"/><circle cx="230.2" cy="150.5" r="1.5"/><circle cx="228.7" cy="152.2" r="1.5"/><circle cx="227" cy="153.8" r="1.5"/><circle cx="225.3" cy="155.4" r="1.5"/><circle cx="224.8" cy="156.1" r="1.5"/><circle cx="223.6" cy="158.1" r="1.5"/><circle cx="222.2" cy="159.9" r="1.5"/><circle cx="220.9" cy="161.8" r="1.5"/><circle cx="219.2" cy="163" r="1.5"/><circle cx="217.9" cy="164.9" r="1.5"/><circle cx="216.9" cy="167" r="1.5"/><circle cx="215.6" cy="168.9" r="1.5"/><circle cx="216" cy="169.8" r="1.5"/><circle cx="211.5" cy="168.9" r="1.5"/><circle cx="211" cy="171.2" r="1.5"/><circle cx="211.3" cy="172.5" r="1.5"/><circle cx="210.6" cy="174.7" r="1.5"/><circle cx="210.2" cy="177" r="1.5"/><circle cx="210.5" cy="177.4" r="1.5"/><circle cx="209" cy="179.1" r="1.5"/><circle cx="207" cy="180.5" r="1.5"/><circle cx="207.2" cy="180.7" r="1.5"/><circle cx="205.5" cy="182.3" r="1.5"/><circle cx="203" cy="182.6" r="1.5"/><circle cx="203.3" cy="183.6" r="1.5"/><circle cx="201.3" cy="184.8" r="1.5"/><circle cx="199.4" cy="186" r="1.5"/><circle cx="198.9" cy="186.5" r="1.5"/><circle cx="196.9" cy="187.7" r="1.5"/><circle cx="195.1" cy="189" r="1.5"/><circle cx="194.7" cy="189.9" r="1.5"/><circle cx="192.8" cy="191.3" r="1.5"/><circle cx="191.6" cy="193" r="1.5"/><circle cx="189.4" cy="193.8" r="1.5"/><circle cx="187.8" cy="195.6" r="1.5"/><circle cx="187.6" cy="195.5" r="1.5"/><circle cx="185.4" cy="196" r="1.5"/><circle cx="183.4" cy="196.3" r="1.5"/><circle cx="181.3" cy="197.3" r="1.5"/><circle cx="178.5" cy="197.6" r="1.5"/><circle cx="177.1" cy="199.7" r="1.5"/><circle cx="175.2" cy="201" r="1.5"/><circle cx="174.3" cy="200.9" r="1.5"/><circle cx="172.8" cy="202.7" r="1.5"/><circle cx="171.1" cy="204.2" r="1.5"/><circle cx="170.3" cy="203.7" r="1.5"/><circle cx="168.3" cy="205" r="1.5"/><circle cx="166.6" cy="206.7" r="1.5"/><circle cx="164.9" cy="207.2" r="1.5"/><circle cx="164.7" cy="209.5" r="1.5"/><circle cx="165.7" cy="209.2" r="1.5"/><circle cx="163.5" cy="209.9" r="1.5"/><circle cx="164.1" cy="210.8" r="1.5"/><circle cx="161.8" cy="210.4" r="1.5"/><circle cx="160.7" cy="209.5" r="1.5"/><circle cx="158.5" cy="210.1" r="1.5"/><circle cx="158.4" cy="211.1" r="1.5"/><circle cx="156.1" cy="211.3" r="1.5"/><circle cx="155" cy="211" r="1.5"/><circle cx="153.1" cy="212.2" r="1.5"/><circle cx="152.9" cy="213.2" r="1.5"/><circle cx="151.2" cy="215" r="1.5"/><circle cx="152" cy="215.7" r="1.5"/><circle cx="150.2" cy="217.2" r="1.5"/><circle cx="150.3" cy="217.4" r="1.5"/><circle cx="147.9" cy="217.8" r="1.5"/><circle cx="147.8" cy="218.1" r="1.5"/><circle cx="145.7" cy="219.1" r="1.5"/><circle cx="145.4" cy="219.5" r="1.5"/><circle cx="143" cy="219.6" r="1.5"/><circle cx="142.4" cy="219.8" r="1.5"/><circle cx="140.5" cy="221.1" r="1.5"/><circle cx="139.7" cy="221.4" r="1.5"/><circle cx="137.9" cy="222.8" r="1.5"/><circle cx="137" cy="223.2" r="1.5"/><circle cx="134.8" cy="224.1" r="1.5"/><circle cx="134.2" cy="224.5" r="1.5"/><circle cx="132.6" cy="226.3" r="1.5"/><circle cx="130.1" cy="227.5" r="1.5"/><circle cx="129.1" cy="229.5" r="1.5"/><circle cx="127.4" cy="231.1" r="1.5"/><circle cx="127.3" cy="231.5" r="1.5"/><circle cx="125.5" cy="232.9" r="1.5"/><circle cx="123.7" cy="233.9" r="1.5"/><circle cx="121.7" cy="235.1" r="1.5"/><circle cx="119.5" cy="235.4" r="1.5"/><circle cx="117.8" cy="237.1" r="1.5"/><circle cx="116" cy="237" r="1.5"/><circle cx="113.9" cy="238.3" r="1.5"/><circle cx="111.8" cy="238.5" r="1.5"/><circle cx="110" cy="239.9" r="1.5"/><circle cx="108.3" cy="240.6" r="1.5"/><circle cx="106.1" cy="241.4" r="1.5"/><circle cx="103.9" cy="241.1" r="1.5"/><circle cx="102.2" cy="243" r="1.5"/><circle cx="100" cy="243.5" r="1.5"/><circle cx="98.3" cy="245.2" r="1.5"/><circle cx="96.7" cy="245.8" r="1.5"/><circle cx="95.8" cy="248" r="1.5"/><circle cx="94.3" cy="249.8" r="1.5"/><circle cx="95" cy="249.5" r="1.5"/><circle cx="92.7" cy="249.6" r="1.5"/><circle cx="90.4" cy="249.6" r="1.5"/><circle cx="88.9" cy="248.7" r="1.5"/><circle cx="86.8" cy="249.7" r="1.5"/><circle cx="84.4" cy="249.4" r="1.5"/><circle cx="82.1" cy="249.7" r="1.5"/><circle cx="81.4" cy="250.8" r="1.5"/><circle cx="79.1" cy="250.9" r="1.5"/><circle cx="76.7" cy="249.9" r="1.5"/><circle cx="74.4" cy="250" r="1.5"/><circle cx="72.2" cy="250.3" r="1.5"/><circle cx="70.6" cy="251.1" r="1.5"/><circle cx="68.3" cy="251" r="1.5"/></clipPath><linearGradient id="b0" x2="0" y2="1"><stop offset="0" stop-color="#313695"/><stop offset="0.484" stop-color="#333b97"/><stop offset="1" stop-color="#313695"/></linearGradient><linearGradient id="b1" x2="0" y2="1"><stop offset="0" stop-color="#313695"/><stop offset="0.476" stop-color="#333b97"/><stop offset="0.524" stop-color="#333b97"/><stop offset="1" stop-color="#313695"/></linearGradient><linearGradient id="b2" x2="0" y2="1"><stop offset="0" stop-color="#313695"/><stop offset="0.471" stop-color="#333b97"/><stop offset="0.513" stop-color="#343f9a"/><stop offset="0.605" stop-color="#313695"/><stop offset="1" stop-color="#313695"/></linearGradient><linearGradient id="b3" x2="0" y2="1"><stop offset="0" stop-color="#313695"/><stop offset="0.466" stop-color="#323b97"/><stop offset="0.511" stop-color="#35429b"/><stop offset="0.579" stop-color="#313795"/><stop offset="1" stop-color="#313695"/></linearGradient><linearGradient id="b4" x2="0" y2="1"><stop offset="0" stop-color="#313695"/><stop offset="0.463" stop-color="#323b97"/><stop offset="0.508" stop-color="#36459d"/><stop offset="0.568" stop-color="#313796"/><stop offset="1" stop-color="#313695"/></linearGradient><linearGradient id="b5" x2="0" y2="1"><stop offset="0" stop-color="#313695"/><stop offset="0.461" stop-color="#333b97"/><stop offset="0.505" stop-color="#37489e"/><stop offset="0.563" stop-color="#323896"/><stop offset="1" stop-color="#313695"/></linearGradient><linearGradient id="b6" x2="0" y2="1"><stop offset="0" stop-color="#313695"/><stop offset="0.458" stop-color="#333b97"/><stop offset="0.505" stop-color="#384b9f"/><stop offset="0.558" stop-color="#323996"/><stop offset="1" stop-color="#313695"/></linearGradient><linearGradient id="b7" x2="0" y2="1"><stop offset="0" stop-color="#313695"/><stop offset="0.455" stop-color="#333b97"/><stop offset="0.505" stop-color="#384da0"/><stop offset="0.555" stop-color="#323997"/><stop offset="1" stop-color="#313695"/></linearGradient><linearGradient id="b8" x2="0" y2="1"><stop offset="0" stop-color="#313695"/><stop offset="0.453" stop-color="#333b97"/><stop offset="0.503" stop-color="#3950a2"/><stop offset="0.555" stop-color="#323a97"/><stop offset="1" stop-color="#313695"/></linearGradient><linearGradient id="b9" x2="0" y2="1"><stop offset="0" stop-color="#313695"/><stop offset="0.45" stop-color="#323b97"/><stop offset="0.503" stop-color="#3a51a2"/><stop offset="0.555" stop-color="#323a97"/><stop offset="1" stop-color="#313695"/></linearGradient><linearGradient id="b10" x2="0" y2="1"><stop offset="0" stop-color="#313695"/><stop offset="0.447" stop-color="#323b97"/><stop offset="0.503" stop-color="#3a53a3"/><stop offset="0.553" stop-color="#323b97"/><stop offset="1" stop-color="#313695"/></linearGradient><linearGradient id="b11" x2="0" y2="1"><stop offset="0" stop-color="#313695"/><stop offset="0.447" stop-color="#333b97"/><stop offset="0.503" stop-color="#3b54a4"/><stop offset="0.553" stop-color="#333b97"/><stop offset="1" stop-color="#313695"/></linearGradient><linearGradient id="b12" x2="0" y2="1"><stop offset="0" stop-color="#313695"/><stop offset="0.445" stop-color="#333b97"/><stop offset="0.482" stop-color="#384da0"/><stop offset="0.505" stop-color="#3b55a4"/><stop offset="0.553" stop-color="#333b98"/><stop offset="0.895" stop-color="#313695"/><stop offset="1" stop-color="#313695"/></linearGradient><linearGradient id="b13" x2="0" y2="1"><stop offset="0" stop-color="#313695"/><stop offset="0.442" stop-color="#333b97"/><stop offset="0.479" stop-color="#384ca0"/><stop offset="0.503" stop-color="#3c58a6"/><stop offset="0.553" stop-color="#333c98"/><stop offset="0.826" stop-color="#313695"/><stop offset="1" stop-color="#313695"/></linearGradient><linearGradient id="b14" x2="0" y2="1"><stop offset="0" stop-color="#313695"/><stop offset="0.439" stop-color="#333b97"/><stop offset="0.476" stop-color="#384b9f"/><stop offset="0.503" stop-color="#3c59a6"/><stop offset="0.553" stop-color="#333c98"/><stop offset="0.784" stop-color="#313695"/><stop offset="1" stop-color="#313695"/></linearGradient><linearGradient id="b15" x2="0" y2="1"><stop offset="0" stop-color="#313695"/><stop offset="0.437" stop-color="#323b97"/><stop offset="0.474" stop-color="#374a9f"/><stop offset="0.5" stop-color="#3d5ba7"/><stop offset="0.555" stop-color="#333c98"/><stop offset="0.8" stop-color="#313695"/><stop offset="1" stop-color="#313695"/></linearGradient><linearGradient id="b16" x2="0" y2="1"><stop offset="0" stop-color="#313695"/><stop offset="0.437" stop-color="#333b97"/><stop offset="0.474" stop-color="#384b9f"/><stop offset="0.5" stop-color="#3d5da8"/><stop offset="0.555" stop-color="#333c98"/><stop offset="0.768" stop-color="#313695"/><stop offset="1" stop-color="#313695"/></linearGradient><linearGradient id="b17" x2="0" y2="1"><stop offset="0" stop-color="#313695"/><stop offset="0.434" stop-color="#333b97"/><stop offset="0.474" stop-color="#384ca0"/><stop offset="0.5" stop-color="#3e5ea9"/><stop offset="0.555" stop-color="#333d98"/><stop offset="0.745" stop-color="#313695"/><stop offset="1" stop-color="#313695"/></linearGradient><linearGradient id="b18" x2="0" y2="1"><stop offset="0" stop-color="#313695"/><stop offset="0.434" stop-color="#333b97"/><stop offset="0.471" stop-color="#384b9f"/><stop offset="0.5" stop-color="#3e60a9"/><stop offset="0.553" stop-color="#333e99"/><stop offset="0.705" stop-color="#313695"/><stop offset="1" stop-color="#313695"/></linearGradient><linearGradient id="b19" x2="0" y2="1"><stop offset="0" stop-color="#313695"/><stop offset="0.432" stop-color="#333b97"/><stop offset="0.471" stop-color="#384ba0"/><stop offset="0.5" stop-color="#3f61aa"/><stop offset="0.553" stop-color="#343e99"/><stop offset="0.695" stop-color="#313695"/><stop offset="1" stop-color="#313695"/></linearGradient><linearGradient id="b20" x2="0" y2="1"><stop offset="0" stop-color="#313695"/><stop offset="0.432" stop-color="#333b97"/><stop offset="0.471" stop-color="#384ca0"/><stop offset="0.5" stop-color="#3f62ab"/><stop offset="0.553" stop-color="#343e99"/><stop offset="0.689" stop-color="#313695"/><stop offset="1" stop-color="#313695"/></linearGradient><linearGradient id="b21" x2="0" y2="1"><stop offset="0" stop-color="#313695"/><stop offset="0.429" stop-color="#323b97"/><stop offset="0.468" stop-color="#384b9f"/><stop offset="0.497" stop-color="#3f63ab"/><stop offset="0.518" stop-color="#3c58a6"/><stop offset="0.553" stop-color="#343f99"/><stop offset="0.682" stop-color="#313695"/><stop offset="1" stop-color="#313695"/></linearGradient><linearGradient id="b22" x2="0" y2="1"><stop offset="0" stop-color="#313695"/><stop offset="0.429" stop-color="#333b97"/><stop offset="0.468" stop-color="#384ba0"/><stop offset="0.497" stop-color="#4065ac"/><stop offset="0.518" stop-color="#3c59a6"/><stop offset="0.553" stop-color="#343f99"/><stop offset="0.676" stop-color="#313695"/><stop offset="1" stop-color="#313695"/></linearGradient><linearGradient id="b23" x2="0" y2="1"><stop offset="0" stop-color="#313695"/><stop offset="0.429" stop-color="#333b97"/><stop offset="0.468" stop-color="#384ca0"/><stop offset="0.497" stop-color="#4066ad"/><stop offset="0.518" stop-color="#3c5aa7"/><stop offset="0.55" stop-color="#34409a"/><stop offset="0.655" stop-color="#313695"/><stop offset="1" stop-color="#313695"/></linearGradient><linearGradient id="b24" x2="0" y2="1"><stop offset="0" stop-color="#313695"/><stop offset="0.426" stop-color="#323b97"/><stop offset="0.466" stop-color="#384a9f"/><stop offset="0.497" stop-color="#4168ad"/><stop offset="0.518" stop-color="#3d5ba7"/><stop offset="0.55" stop-color="#34419a"/><stop offset="0.653" stop-color="#313695"/><stop offset="1" stop-color="#313695"/></linearGradient><linearGradient id="b25" x2="0" y2="1"><stop offset="0" stop-color="#313695"/><stop offset="0.426" stop-color="#333b97"/><stop offset="0.466" stop-color="#384b9f"/><stop offset="0.497" stop-color="#4169ae"/><stop offset="0.518" stop-color="#3d5ca8"/><stop offset="0.55" stop-color="#34419a"/><stop offset="0.647" stop-color="#313695"/><stop offset="1" stop-color="#313695"/></linearGradient><linearGradient id="b26" x2="0" y2="1"><stop offset="0" stop-color="#313695"/><stop offset="0.426" stop-color="#333b97"/><stop offset="0.466" stop-color="#384ca0"/><stop offset="0.497" stop-color="#426aaf"/><stop offset="0.518" stop-color="#3e5ea8"/><stop offset="0.55" stop-color="#35419b"/><stop offset="0.645" stop-color="#313695"/><stop offset="1" stop-color="#313695"/></linearGradient><linearGradient id="b27" x2="0" y2="1"><stop offset="0" stop-color="#313695"/><stop offset="0.424" stop-color="#323b97"/><stop offset="0.463" stop-color="#374a9f"/><stop offset="0.497" stop-color="#426caf"/><stop offset="0.518" stop-color="#3e5fa9"/><stop offset="0.55" stop-color="#35429b"/><stop offset="0.642" stop-color="#313695"/><stop offset="1" stop-color="#313695"/></linearGradient><linearGradient id="b28" x2="0" y2="1"><stop offset="0" stop-color="#313695"/><stop offset="0.424" stop-color="#323b97"/><stop offset="0.463" stop-color="#384b9f"/><stop offset="0.497" stop-color="#436eb1"/><stop offset="0.516" stop-color="#3f64ab"/><stop offset="0.55" stop-color="#35429b"/><stop offset="0.637" stop-color="#313695"/><stop offset="1" stop-color="#313695"/></linearGradient><linearGradient id="b29" x2="0" y2="1"><stop offset="0" stop-color="#313695"/><stop offset="0.424" stop-color="#333b97"/><stop offset="0.463" stop-color="#384ca0"/><stop offset="0.497" stop-color="#4471b2"/><stop offset="0.516" stop-color="#4066ad"/><stop offset="0.547" stop-color="#35449c"/><stop offset="0.621" stop-color="#313795"/><stop offset="1" stop-color="#313695"/></linearGradient><linearGradient id="b30" x2="0" y2="1"><stop offset="0" stop-color="#313695"/><stop offset="0.424" stop-color="#333b97"/><stop offset="0.463" stop-color="#384da0"/><stop offset="0.497" stop-color="#4575b4"/><stop offset="0.513" stop-color="#426baf"/><stop offset="0.547" stop-color="#36459c"/><stop offset="0.618" stop-color="#313795"/><stop offset="1" stop-color="#313695"/></linearGradient><linearGradient id="b31" x2="0" y2="1"><stop offset="0" stop-color="#313695"/><stop offset="0.421" stop-color="#323b97"/><stop offset="0.461" stop-color="#384b9f"/><stop offset="0.497" stop-color="#4778b5"/><stop offset="0.513" stop-color="#436eb1"/><stop offset="0.545" stop-color="#36479d"/><stop offset="0.603" stop-color="#323896"/><stop offset="1" stop-color="#313695"/></linearGradient><linearGradient id="b32" x2="0" y2="1"><stop offset="0" stop-color="#313695"/><stop offset="0.421" stop-color="#333b97"/><stop offset="0.461" stop-color="#384ca0"/><stop offset="0.497" stop-color="#4a7bb7"/><stop offset="0.513" stop-color="#4471b2"/><stop offset="0.545" stop-color="#37489e"/><stop offset="0.597" stop-color="#323896"/><stop offset="1" stop-color="#313695"/></linearGradient><linearGradient id="b33" x2="0" y2="1"><stop offset="0" stop-color="#313695"/><stop offset="0.421" stop-color="#333b97"/><stop offset="0.458" stop-color="#374a9f"/><stop offset="0.497" stop-color="#4c7db8"/><stop offset="0.513" stop-color="#4473b3"/><stop offset="0.545" stop-color="#37489e"/><stop offset="0.595" stop-color="#323996"/><stop offset="1" stop-color="#313695"/></linearGradient><linearGradient id="b34" x2="0" y2="1"><stop offset="0" stop-color="#313695"/><stop offset="0.421" stop-color="#333b97"/><stop offset="0.458" stop-color="#384b9f"/><stop offset="0.497" stop-color="#4f80ba"/><stop offset="0.513" stop-color="#4576b4"/><stop offset="0.542" stop-color="#384b9f"/><stop offset="0.584" stop-color="#323a97"/><stop offset="1" stop-color="#313695"/></linearGradient><linearGradient id="b35" x2="0" y2="1"><stop offset="0" stop-color="#313695"/><stop offset="0.418" stop-color="#323b97"/><stop offset="0.458" stop-color="#384ca0"/><stop offset="0.492" stop-color="#4d7fb9"/><stop offset="0.505" stop-color="#5082bb"/><stop offset="0.537" stop-color="#3a52a3"/><stop offset="0.568" stop-color="#333d99"/><stop offset="0.711" stop-color="#313695"/><stop offset="1" stop-color="#313695"/></linearGradient><linearGradient id="b36" x2="0" y2="1"><stop offset="0" stop-color="#313695"/><stop offset="0.418" stop-color="#323b97"/><stop offset="0.455" stop-color="#374a9f"/><stop offset="0.482" stop-color="#4471b2"/><stop offset="0.497" stop-color="#5486bd"/><stop offset="0.511" stop-color="#4d7eb9"/><stop offset="0.542" stop-color="#384da0"/><stop offset="0.579" stop-color="#333b98"/><stop offset="0.916" stop-color="#313695"/><stop offset="1" stop-color="#313695"/></linearGradient><linearGradient id="b37" x2="0" y2="1"><stop offset="0" stop-color="#313695"/><stop offset="0.418" stop-color="#333b97"/><stop offset="0.455" stop-color="#384b9f"/><stop offset="0.482" stop-color="#4473b3"/><stop offset="0.497" stop-color="#5689be"/><stop offset="0.511" stop-color="#4f81ba"/><stop offset="0.532" stop-color="#3d5ba7"/><stop offset="0.558" stop-color="#35429b"/><stop offset="0.639" stop-color="#313695"/><stop offset="1" stop-color="#313695"/></linearGradient><linearGradient id="b38" x2="0" y2="1"><stop offset="0" stop-color="#313695"/><stop offset="0.418" stop-color="#333b97"/><stop offset="0.455" stop-color="#384ca0"/><stop offset="0.482" stop-color="#4575b4"/><stop offset="0.497" stop-color="#588cc0"/><stop offset="0.511" stop-color="#5183bb"/><stop offset="0.529" stop-color="#3f61aa"/><stop offset="0.555" stop-color="#35449c"/><stop offset="0.626" stop-color="#313795"/><stop offset="1" stop-color="#313695"/></linearGradient><linearGradient id="b39" x2="0" y2="1"><stop offset="0" stop-color="#313695"/><stop offset="0.416" stop-color="#323b97"/><stop offset="0.455" stop-color="#384da0"/><stop offset="0.482" stop-color="#4777b5"/><stop offset="0.497" stop-color="#5b8fc2"/><stop offset="0.511" stop-color="#5386bd"/><stop offset="0.529" stop-color="#3f62ab"/><stop offset="0.555" stop-color="#36449c"/><stop offset="0.624" stop-color="#313795"/><stop offset="1" stop-color="#313695"/></linearGradient><linearGradient id="b40" x2="0" y2="1"><stop offset="0" stop-color="#313695"/><stop offset="0.416" stop-color="#323b97"/><stop offset="0.453" stop-color="#384b9f"/><stop offset="0.476" stop-color="#436eb1"/><stop offset="0.497" stop-color="#5d92c3"/><stop offset="0.511" stop-color="#5588be"/><stop offset="0.526" stop-color="#4169ae"/><stop offset="0.55" stop-color="#37489e"/><stop offset="0.6" stop-color="#323896"/><stop offset="1" stop-color="#313695"/></linearGradient><linearGradient id="b41" x2="0" y2="1"><stop offset="0" stop-color="#313695"/><stop offset="0.416" stop-color="#323b97"/><stop offset="0.453" stop-color="#384ba0"/><stop offset="0.476" stop-color="#4370b2"/><stop offset="0.497" stop-color="#6095c5"/><stop offset="0.508" stop-color="#5b8fc2"/><stop offset="0.526" stop-color="#426baf"/><stop offset="0.55" stop-color="#37499e"/><stop offset="0.597" stop-color="#323996"/><stop offset="1" stop-color="#313695"/></linearGradient><linearGradient id="b42" x2="0" y2="1"><stop offset="0" stop-color="#313695"/><stop offset="0.416" stop-color="#333b97"/><stop offset="0.453" stop-color="#384ca0"/><stop offset="0.476" stop-color="#4472b3"/><stop offset="0.497" stop-color="#6298c6"/><stop offset="0.508" stop-color="#5d92c3"/><stop offset="0.526" stop-color="#426cb0"/><stop offset="0.55" stop-color="#374a9f"/><stop offset="0.595" stop-color="#323997"/><stop offset="1" stop-color="#313695"/></linearGradient><linearGradient id="b43" x2="0" y2="1"><stop offset="0" stop-color="#313695"/><stop offset="0.416" stop-color="#333b97"/><stop offset="0.453" stop-color="#384da0"/><stop offset="0.476" stop-color="#4574b4"/><stop offset="0.497" stop-color="#669dc9"/><stop offset="0.508" stop-color="#6197c5"/><stop offset="0.526" stop-color="#436fb1"/><stop offset="0.55" stop-color="#374a9f"/><stop offset="0.592" stop-color="#323a97"/><stop offset="1" stop-color="#313695"/></linearGradient><linearGradient id="b44" x2="0" y2="1"><stop offset="0" stop-color="#313695"/><stop offset="0.413" stop-color="#323a97"/><stop offset="0.45" stop-color="#384b9f"/><stop offset="0.471" stop-color="#426baf"/><stop offset="0.487" stop-color="#5c90c2"/><stop offset="0.497" stop-color="#6ca3cc"/><stop offset="0.508" stop-color="#669dc9"/><stop offset="0.529" stop-color="#426caf"/><stop offset="0.553" stop-color="#37499e"/><stop offset="0.6" stop-color="#323996"/><stop offset="1" stop-color="#313695"/></linearGradient><linearGradient id="b45" x2="0" y2="1"><stop offset="0" stop-color="#313695"/><stop offset="0.413" stop-color="#323b97"/><stop offset="0.45" stop-color="#384ba0"/><stop offset="0.471" stop-color="#426db0"/><stop offset="0.497" stop-color="#71a9cf"/><stop offset="0.508" stop-color="#6ba3cc"/><stop offset="0.529" stop-color="#436eb1"/><stop offset="0.55" stop-color="#384ca0"/><stop offset="0.589" stop-color="#323a97"/><stop offset="1" stop-color="#313695"/></linearGradient><linearGradient id="b46" x2="0" y2="1"><stop offset="0" stop-color="#313695"/><stop offset="0.413" stop-color="#323b97"/><stop offset="0.45" stop-color="#384ca0"/><stop offset="0.471" stop-color="#436fb1"/><stop offset="0.495" stop-color="#73acd0"/><stop offset="0.503" stop-color="#77b0d2"/><stop offset="0.513" stop-color="#659cc8"/><stop offset="0.529" stop-color="#4471b2"/><stop offset="0.55" stop-color="#384da0"/><stop offset="0.587" stop-color="#323b97"/><stop offset="1" stop-color="#313695"/></linearGradient><linearGradient id="b47" x2="0" y2="1"><stop offset="0" stop-color="#313695"/><stop offset="0.413" stop-color="#333b97"/><stop offset="0.45" stop-color="#384ca0"/><stop offset="0.471" stop-color="#4471b2"/><stop offset="0.495" stop-color="#79b1d3"/><stop offset="0.503" stop-color="#7eb5d5"/><stop offset="0.513" stop-color="#6aa1cb"/><stop offset="0.529" stop-color="#4574b3"/><stop offset="0.55" stop-color="#384da1"/><stop offset="0.584" stop-color="#333b98"/><stop offset="0.882" stop-color="#313695"/><stop offset="1" stop-color="#313695"/></linearGradient><linearGradient id="b48" x2="0" y2="1"><stop offset="0" stop-color="#313695"/><stop offset="0.413" stop-color="#333b97"/><stop offset="0.45" stop-color="#384da0"/><stop offset="0.471" stop-color="#4472b3"/><stop offset="0.495" stop-color="#7eb5d6"/><stop offset="0.503" stop-color="#84bad8"/><stop offset="0.513" stop-color="#6ea6cd"/><stop offset="0.532" stop-color="#4370b1"/><stop offset="0.553" stop-color="#384ba0"/><stop offset="0.589" stop-color="#323a97"/><stop offset="1" stop-color="#313695"/></linearGradient><linearGradient id="b49" x2="0" y2="1"><stop offset="0" stop-color="#313695"/><stop offset="0.411" stop-color="#323a97"/><stop offset="0.447" stop-color="#384b9f"/><stop offset="0.468" stop-color="#436eb0"/><stop offset="0.482" stop-color="#5e93c3"/><stop offset="0.495" stop-color="#84bad8"/><stop offset="0.503" stop-color="#8bbfdb"/><stop offset="0.513" stop-color="#73acd0"/><stop offset="0.532" stop-color="#4472b3"/><stop offset="0.55" stop-color="#394fa1"/><stop offset="0.582" stop-color="#333c98"/><stop offset="0.771" stop-color="#313695"/><stop offset="1" stop-color="#313695"/></linearGradient><linearGradient id="b50" x2="0" y2="1"><stop offset="0" stop-color="#313695"/><stop offset="0.411" stop-color="#323b97"/><stop offset="0.447" stop-color="#384b9f"/><stop offset="0.466" stop-color="#4169ae"/><stop offset="0.476" stop-color="#5284bc"/><stop offset="0.495" stop-color="#8abeda"/><stop offset="0.503" stop-color="#92c5de"/><stop offset="0.513" stop-color="#78b0d3"/><stop offset="0.532" stop-color="#4575b4"/><stop offset="0.55" stop-color="#3950a2"/><stop offset="0.582" stop-color="#333c98"/><stop offset="0.761" stop-color="#313695"/><stop offset="1" stop-color="#313695"/></linearGradient><linearGradient id="b51" x2="0" y2="1"><stop offset="0" stop-color="#313695"/><stop offset="0.411" stop-color="#323b97"/><stop offset="0.447" stop-color="#384ca0"/><stop offset="0.466" stop-color="#426aaf"/><stop offset="0.476" stop-color="#5487bd"/><stop offset="0.495" stop-color="#8fc3dd"/><stop offset="0.503" stop-color="#98cae1"/><stop offset="0.511" stop-color="#87bcd9"/><stop offset="0.529" stop-color="#4d7eb9"/><stop offset="0.545" stop-color="#3c59a6"/><stop offset="0.568" stop-color="#35419b"/><stop offset="0.647" stop-color="#313695"/><stop offset="1" stop-color="#313695"/></linearGradient><linearGradient id="b52" x2="0" y2="1"><stop offset="0" stop-color="#313695"/><stop offset="0.411" stop-color="#323b97"/><stop offset="0.447" stop-color="#384ca0"/><stop offset="0.466" stop-color="#426baf"/><stop offset="0.476" stop-color="#5689be"/><stop offset="0.495" stop-color="#95c7df"/><stop offset="0.503" stop-color="#9fcfe4"/><stop offset="0.511" stop-color="#8dc1dc"/><stop offset="0.529" stop-color="#4f81ba"/><stop offset="0.539" stop-color="#4065ac"/><stop offset="0.561" stop-color="#36479d"/><stop offset="0.611" stop-color="#323896"/><stop offset="1" stop-color="#313695"/></linearGradient><linearGradient id="b53" x2="0" y2="1"><stop offset="0" stop-color="#313695"/><stop offset="0.411" stop-color="#333b97"/><stop offset="0.447" stop-color="#384da0"/><stop offset="0.466" stop-color="#436db0"/><stop offset="0.479" stop-color="#6095c4"/><stop offset="0.495" stop-color="#9ccde3"/><stop offset="0.503" stop-color="#a7d6e7"/><stop offset="0.511" stop-color="#95c7df"/><stop offset="0.526" stop-color="#598dc0"/><stop offset="0.537" stop-color="#436eb0"/><stop offset="0.555" stop-color="#384ca0"/><stop offset="0.589" stop-color="#333b97"/><stop offset="1" stop-color="#313695"/></linearGradient><linearGradient id="b54" x2="0" y2="1"><stop offset="0" stop-color="#313695"/><stop offset="0.411" stop-color="#333b97"/><stop offset="0.447" stop-color="#384da1"/><stop offset="0.466" stop-color="#436fb1"/><stop offset="0.479" stop-color="#6399c6"/><stop offset="0.495" stop-color="#a5d4e7"/><stop offset="0.503" stop-color="#b2dceb"/><stop offset="0.511" stop-color="#9fcfe4"/><stop offset="0.526" stop-color="#5d91c3"/><stop offset="0.537" stop-color="#4470b2"/><stop offset="0.555" stop-color="#384da0"/><stop offset="0.589" stop-color="#333b97"/><stop offset="0.982" stop-color="#313695"/><stop offset="1" stop-color="#313695"/></linearGradient><linearGradient id="b55" x2="0" y2="1"><stop offset="0" stop-color="#313695"/><stop offset="0.408" stop-color="#323a97"/><stop offset="0.445" stop-color="#384b9f"/><stop offset="0.463" stop-color="#426aaf"/><stop offset="0.474" stop-color="#5588be"/><stop offset="0.484" stop-color="#7cb3d4"/><stop offset="0.495" stop-color="#aedbea"/><stop offset="0.503" stop-color="#bce2ee"/><stop offset="0.511" stop-color="#a8d7e8"/><stop offset="0.524" stop-color="#6aa1cb"/><stop offset="0.537" stop-color="#4473b3"/><stop offset="0.555" stop-color="#394ea1"/><stop offset="0.587" stop-color="#333c98"/><stop offset="0.818" stop-color="#313695"/><stop offset="1" stop-color="#313695"/></linearGradient><linearGradient id="b56" x2="0" y2="1"><stop offset="0" stop-color="#313695"/><stop offset="0.408" stop-color="#323b97"/><stop offset="0.445" stop-color="#384ca0"/><stop offset="0.463" stop-color="#426cb0"/><stop offset="0.474" stop-color="#588bbf"/><stop offset="0.484" stop-color="#81b7d6"/><stop offset="0.492" stop-color="#abd9e9"/><stop offset="0.5" stop-color="#c6e6f1"/><stop offset="0.505" stop-color="#c4e5f0"/><stop offset="0.513" stop-color="#a5d4e6"/><stop offset="0.524" stop-color="#6ea6cd"/><stop offset="0.537" stop-color="#4676b5"/><stop offset="0.555" stop-color="#394fa1"/><stop offset="0.584" stop-color="#333c98"/><stop offset="0.75" stop-color="#313695"/><stop offset="1" stop-color="#313695"/></linearGradient><linearGradient id="b57" x2="0" y2="1"><stop offset="0" stop-color="#313695"/><stop offset="0.408" stop-color="#323b97"/><stop offset="0.445" stop-color="#384ca0"/><stop offset="0.463" stop-color="#436eb0"/><stop offset="0.474" stop-color="#5a8ec1"/><stop offset="0.484" stop-color="#86bbd9"/><stop offset="0.492" stop-color="#b3ddeb"/><stop offset="0.5" stop-color="#d0ebf3"/><stop offset="0.505" stop-color="#ceeaf3"/><stop offset="0.513" stop-color="#aedaea"/><stop offset="0.526" stop-color="#689fca"/><stop offset="0.539" stop-color="#4471b2"/><stop offset="0.558" stop-color="#384da0"/><stop offset="0.592" stop-color="#323b97"/><stop offset="1" stop-color="#313695"/></linearGradient><linearGradient id="b58" x2="0" y2="1"><stop offset="0" stop-color="#313695"/><stop offset="0.408" stop-color="#333b97"/><stop offset="0.445" stop-color="#384da0"/><stop offset="0.463" stop-color="#436fb1"/><stop offset="0.476" stop-color="#659bc8"/><stop offset="0.484" stop-color="#8abfdb"/><stop offset="0.492" stop-color="#bae0ed"/><stop offset="0.5" stop-color="#daf0f6"/><stop offset="0.505" stop-color="#d8eff6"/><stop offset="0.513" stop-color="#b6dfec"/><stop offset="0.526" stop-color="#6ca3cc"/><stop offset="0.539" stop-color="#4574b3"/><stop offset="0.555" stop-color="#3a51a2"/><stop offset="0.582" stop-color="#333e99"/><stop offset="0.705" stop-color="#313695"/><stop offset="1" stop-color="#313695"/></linearGradient><linearGradient id="b59" x2="0" y2="1"><stop offset="0" stop-color="#313695"/><stop offset="0.408" stop-color="#333b97"/><stop offset="0.442" stop-color="#384b9f"/><stop offset="0.461" stop-color="#416aaf"/><stop offset="0.471" stop-color="#5689be"/><stop offset="0.482" stop-color="#80b6d6"/><stop offset="0.492" stop-color="#c1e4ef"/><stop offset="0.497" stop-color="#dcf1f7"/><stop offset="0.503" stop-color="#e3f4f2"/><stop offset="0.508" stop-color="#dbf0f6"/><stop offset="0.516" stop-color="#afdbea"/><stop offset="0.526" stop-color="#70a8ce"/><stop offset="0.539" stop-color="#4676b5"/><stop offset="0.555" stop-color="#3a52a3"/><stop offset="0.582" stop-color="#333e99"/><stop offset="0.7" stop-color="#313695"/><stop offset="1" stop-color="#313695"/></linearGradient><linearGradient id="b60" x2="0" y2="1"><stop offset="0" stop-color="#313695"/><stop offset="0.408" stop-color="#333b97"/><stop offset="0.442" stop-color="#384b9f"/><stop offset="0.461" stop-color="#426baf"/><stop offset="0.471" stop-color="#588bc0"/><stop offset="0.482" stop-color="#84bad8"/><stop offset="0.492" stop-color="#c9e8f1"/><stop offset="0.495" stop-color="#d9eff6"/><stop offset="0.5" stop-color="#e8f6e9"/><stop offset="0.505" stop-color="#e8f6ea"/><stop offset="0.511" stop-color="#d8eff6"/><stop offset="0.518" stop-color="#a4d4e6"/><stop offset="0.526" stop-color="#74add1"/><stop offset="0.539" stop-color="#4878b6"/><stop offset="0.555" stop-color="#3a53a3"/><stop offset="0.582" stop-color="#343e99"/><stop offset="0.695" stop-color="#313695"/><stop offset="1" stop-color="#313695"/></linearGradient><linearGradient id="b61" x2="0" y2="1"><stop offset="0" stop-color="#313695"/><stop offset="0.405" stop-color="#323a97"/><stop offset="0.442" stop-color="#384ca0"/><stop offset="0.461" stop-color="#426db0"/><stop offset="0.471" stop-color="#5a8ec1"/><stop offset="0.479" stop-color="#79b1d3"/><stop offset="0.489" stop-color="#bfe3ef"/><stop offset="0.495" stop-color="#e1f3f6"/><stop offset="0.5" stop-color="#eef9de"/><stop offset="0.505" stop-color="#eef8de"/><stop offset="0.511" stop-color="#e1f3f6"/><stop offset="0.518" stop-color="#abd9e9"/><stop offset="0.526" stop-color="#78b0d3"/><stop offset="0.539" stop-color="#4a7ab7"/><stop offset="0.555" stop-color="#3b54a4"/><stop offset="0.579" stop-color="#343f9a"/><stop offset="0.674" stop-color="#313695"/><stop offset="1" stop-color="#313695"/></linearGradient><linearGradient id="b62" x2="0" y2="1"><stop offset="0" stop-color="#313695"/><stop offset="0.405" stop-color="#323b97"/><stop offset="0.442" stop-color="#384da0"/><stop offset="0.461" stop-color="#436fb1"/><stop offset="0.471" stop-color="#5c91c2"/><stop offset="0.479" stop-color="#7eb5d5"/><stop offset="0.489" stop-color="#c7e7f1"/><stop offset="0.492" stop-color="#daf0f6"/><stop offset="0.5" stop-color="#f5fbd2"/><stop offset="0.505" stop-color="#f5fbd2"/><stop offset="0.511" stop-color="#e7f6ec"/><stop offset="0.513" stop-color="#d9f0f6"/><stop offset="0.521" stop-color="#9ecfe3"/><stop offset="0.529" stop-color="#6fa7ce"/><stop offset="0.542" stop-color="#4574b4"/><stop offset="0.558" stop-color="#3a51a2"/><stop offset="0.584" stop-color="#333d99"/><stop offset="0.711" stop-color="#313695"/><stop offset="1" stop-color="#313695"/></linearGradient><linearGradient id="b63" x2="0" y2="1"><stop offset="0" stop-color="#313695"/><stop offset="0.405" stop-color="#323b97"/><stop offset="0.442" stop-color="#384da0"/><stop offset="0.458" stop-color="#4169ae"/><stop offset="0.468" stop-color="#5689bf"/><stop offset="0.479" stop-color="#82b8d7"/><stop offset="0.489" stop-color="#ceeaf3"/><stop offset="0.492" stop-color="#e2f4f5"/><stop offset="0.497" stop-color="#f5fbd1"/><stop offset="0.503" stop-color="#fdfec3"/><stop offset="0.508" stop-color="#f5fbd1"/><stop offset="0.513" stop-color="#e1f3f6"/><stop offset="0.524" stop-color="#91c4de"/><stop offset="0.532" stop-color="#679dc9"/><stop offset="0.542" stop-color="#4676b5"/><stop offset="0.558" stop-color="#3a52a3"/><stop offset="0.584" stop-color="#333e99"/><stop offset="0.705" stop-color="#313695"/><stop offset="1" stop-color="#313695"/></linearGradient><linearGradient id="b64" x2="0" y2="1"><stop offset="0" stop-color="#313695"/><stop offset="0.405" stop-color="#323b97"/><stop offset="0.439" stop-color="#384b9f"/><stop offset="0.458" stop-color="#426baf"/><stop offset="0.468" stop-color="#588cc0"/><stop offset="0.476" stop-color="#77afd2"/><stop offset="0.487" stop-color="#c0e3ef"/><stop offset="0.489" stop-color="#d6eef5"/><stop offset="0.492" stop-color="#e7f6ec"/><stop offset="0.497" stop-color="#fbfec6"/><stop offset="0.503" stop-color="#fffbb8"/><stop offset="0.508" stop-color="#fbfec6"/><stop offset="0.513" stop-color="#e6f5ec"/><stop offset="0.516" stop-color="#d5eef5"/><stop offset="0.524" stop-color="#96c8e0"/><stop offset="0.532" stop-color="#69a0ca"/><stop offset="0.542" stop-color="#4878b6"/><stop offset="0.558" stop-color="#3a53a3"/><stop offset="0.584" stop-color="#333e99"/><stop offset="0.703" stop-color="#313695"/><stop offset="1" stop-color="#313695"/></linearGradient><linearGradient id="b65" x2="0" y2="1"><stop offset="0" stop-color="#313695"/><stop offset="0.405" stop-color="#333b97"/><stop offset="0.439" stop-color="#384ba0"/><stop offset="0.458" stop-color="#426db0"/><stop offset="0.468" stop-color="#5a8ec1"/><stop offset="0.476" stop-color="#7ab2d4"/><stop offset="0.487" stop-color="#c7e7f1"/><stop offset="0.489" stop-color="#def2f7"/><stop offset="0.495" stop-color="#f8fccc"/><stop offset="0.5" stop-color="#fff6b2"/><stop offset="0.505" stop-color="#fff6b2"/><stop offset="0.511" stop-color="#f8fccd"/><stop offset="0.516" stop-color="#ddf1f7"/><stop offset="0.526" stop-color="#89beda"/><stop offset="0.534" stop-color="#6297c6"/><stop offset="0.545" stop-color="#4472b2"/><stop offset="0.561" stop-color="#3950a2"/><stop offset="0.589" stop-color="#333c98"/><stop offset="0.766" stop-color="#313695"/><stop offset="1" stop-color="#313695"/></linearGradient><linearGradient id="b66" x2="0" y2="1"><stop offset="0" stop-color="#313695"/><stop offset="0.405" stop-color="#333b97"/><stop offset="0.439" stop-color="#384ca0"/><stop offset="0.455" stop-color="#4167ad"/><stop offset="0.463" stop-color="#4c7eb9"/><stop offset="0.474" stop-color="#70a9cf"/><stop offset="0.482" stop-color="#a2d2e5"/><stop offset="0.487" stop-color="#ceeaf3"/><stop offset="0.489" stop-color="#e3f4f2"/><stop offset="0.495" stop-color="#fefec1"/><stop offset="0.5" stop-color="#fff0a8"/><stop offset="0.505" stop-color="#fff0a8"/><stop offset="0.511" stop-color="#fdfec2"/><stop offset="0.516" stop-color="#e3f4f3"/><stop offset="0.521" stop-color="#b6deec"/><stop offset="0.529" stop-color="#7cb4d5"/><stop offset="0.539" stop-color="#5285bc"/><stop offset="0.547" stop-color="#426caf"/><stop offset="0.563" stop-color="#384da0"/><stop offset="0.595" stop-color="#333b97"/><stop offset="0.974" stop-color="#313695"/><stop offset="1" stop-color="#313695"/></linearGradient><linearGradient id="b67" x2="0" y2="1"><stop offset="0" stop-color="#313695"/><stop offset="0.403" stop-color="#323a97"/><stop offset="0.439" stop-color="#384da0"/><stop offset="0.455" stop-color="#4169ae"/><stop offset="0.463" stop-color="#4e80ba"/><stop offset="0.474" stop-color="#73acd0"/><stop offset="0.482" stop-color="#a7d6e7"/><stop offset="0.487" stop-color="#d5eef5"/><stop offset="0.489" stop-color="#e8f6e8"/><stop offset="0.495" stop-color="#fffab7"/><stop offset="0.5" stop-color="#fee89c"/><stop offset="0.505" stop-color="#fee99d"/><stop offset="0.511" stop-color="#fffbb8"/><stop offset="0.516" stop-color="#e8f6ea"/><stop offset="0.518" stop-color="#d4edf5"/><stop offset="0.526" stop-color="#92c5de"/><stop offset="0.534" stop-color="#669dc9"/><stop offset="0.545" stop-color="#4575b4"/><stop offset="0.561" stop-color="#3a51a2"/><stop offset="0.587" stop-color="#333d99"/><stop offset="0.716" stop-color="#313695"/><stop offset="1" stop-color="#313695"/></linearGradient><linearGradient id="b68" x2="0" y2="1"><stop offset="0" stop-color="#313695"/><stop offset="0.403" stop-color="#323a97"/><stop offset="0.437" stop-color="#374a9f"/><stop offset="0.455" stop-color="#426aaf"/><stop offset="0.466" stop-color="#578bbf"/><stop offset="0.474" stop-color="#76afd2"/><stop offset="0.482" stop-color="#addaea"/><stop offset="0.487" stop-color="#dff3f8"/><stop offset="0.492" stop-color="#fffdbc"/><stop offset="0.497" stop-color="#fee192"/><stop offset="0.5" stop-color="#fed687"/><stop offset="0.503" stop-color="#fed384"/><stop offset="0.508" stop-color="#fee597"/><stop offset="0.513" stop-color="#fdfec2"/><stop offset="0.518" stop-color="#dbf1f7"/><stop offset="0.526" stop-color="#96c8e0"/><stop offset="0.534" stop-color="#69a0ca"/><stop offset="0.545" stop-color="#4777b5"/><stop offset="0.561" stop-color="#3a52a3"/><stop offset="0.587" stop-color="#333d99"/><stop offset="0.711" stop-color="#313695"/><stop offset="1" stop-color="#313695"/></linearGradient><linearGradient id="b69" x2="0" y2="1"><stop offset="0" stop-color="#313695"/><stop offset="0.403" stop-color="#323b97"/><stop offset="0.437" stop-color="#384b9f"/><stop offset="0.455" stop-color="#426caf"/><stop offset="0.466" stop-color="#598dc1"/><stop offset="0.474" stop-color="#7ab2d3"/><stop offset="0.482" stop-color="#b5deec"/><stop offset="0.484" stop-color="#d1ecf4"/><stop offset="0.487" stop-color="#eaf7e5"/><stop offset="0.489" stop-color="#fffebe"/><stop offset="0.495" stop-color="#fecb7d"/><stop offset="0.497" stop-color="#fdb164"/><stop offset="0.5" stop-color="#fb9f5a"/><stop offset="0.503" stop-color="#fb9d59"/><stop offset="0.505" stop-color="#fdad61"/><stop offset="0.511" stop-color="#fee192"/><stop offset="0.513" stop-color="#fff5b0"/><stop offset="0.516" stop-color="#f5fbd1"/><stop offset="0.518" stop-color="#e3f4f2"/><stop offset="0.524" stop-color="#b1dceb"/><stop offset="0.532" stop-color="#78b0d3"/><stop offset="0.545" stop-color="#4879b6"/><stop offset="0.561" stop-color="#3a53a3"/><stop offset="0.587" stop-color="#333e99"/><stop offset="0.705" stop-color="#313695"/><stop offset="1" stop-color="#313695"/></linearGradient><linearGradient id="b70" x2="0" y2="1"><stop offset="0" stop-color="#313695"/><stop offset="0.403" stop-color="#323b97"/><stop offset="0.437" stop-color="#384ba0"/><stop offset="0.453" stop-color="#4066ad"/><stop offset="0.461" stop-color="#4c7db8"/><stop offset="0.471" stop-color="#6fa7ce"/><stop offset="0.479" stop-color="#a4d4e6"/><stop offset="0.484" stop-color="#e0f3f8"/><stop offset="0.487" stop-color="#f8fccc"/><stop offset="0.489" stop-color="#feea9f"/><stop offset="0.492" stop-color="#fdbf71"/><stop offset="0.495" stop-color="#f8884f"/><stop offset="0.497" stop-color="#eb5a3a"/><stop offset="0.5" stop-color="#e04330"/><stop offset="0.503" stop-color="#e24631"/><stop offset="0.505" stop-color="#ee603d"/><stop offset="0.508" stop-color="#f98e52"/><stop offset="0.511" stop-color="#fdbf71"/><stop offset="0.513" stop-color="#fee699"/><stop offset="0.516" stop-color="#ffffbf"/><stop offset="0.518" stop-color="#eaf7e6"/><stop offset="0.521" stop-color="#d1ecf4"/><stop offset="0.529" stop-color="#8cc0db"/><stop offset="0.537" stop-color="#6399c6"/><stop offset="0.547" stop-color="#4472b3"/><stop offset="0.563" stop-color="#3950a2"/><stop offset="0.592" stop-color="#333c98"/><stop offset="0.779" stop-color="#313695"/><stop offset="1" stop-color="#313695"/></linearGradient><linearGradient id="b71" x2="0" y2="1"><stop offset="0" stop-color="#313695"/><stop offset="0.403" stop-color="#323b97"/><stop offset="0.437" stop-color="#384ba0"/><stop offset="0.453" stop-color="#4066ad"/><stop offset="0.461" stop-color="#4c7db8"/><stop offset="0.471" stop-color="#70a8ce"/><stop offset="0.476" stop-color="#8fc3dd"/><stop offset="0.482" stop-color="#c0e4ef"/><stop offset="0.484" stop-color="#e2f4f5"/><stop offset="0.487" stop-color="#fbfdc6"/><stop offset="0.489" stop-color="#fee597"/><stop offset="0.492" stop-color="#fdb365"/><stop offset="0.495" stop-color="#f57245"/><stop offset="0.497" stop-color="#e0422f"/><stop offset="0.5" stop-color="#d22b27"/><stop offset="0.503" stop-color="#d52e27"/><stop offset="0.505" stop-color="#e44b33"/><stop offset="0.508" stop-color="#f67b49"/><stop offset="0.511" stop-color="#fdb467"/><stop offset="0.513" stop-color="#fee192"/><stop offset="0.516" stop-color="#fffbba"/><stop offset="0.518" stop-color="#ecf8e2"/><stop offset="0.521" stop-color="#d4edf5"/><stop offset="0.529" stop-color="#8ec1dc"/><stop offset="0.537" stop-color="#649ac7"/><stop offset="0.547" stop-color="#4473b3"/><stop offset="0.563" stop-color="#3950a2"/><stop offset="0.592" stop-color="#333c98"/><stop offset="0.779" stop-color="#313695"/><stop offset="1" stop-color="#313695"/></linearGradient><linearGradient id="b72" x2="0" y2="1"><stop offset="0" stop-color="#313695"/><stop offset="0.403" stop-color="#323b97"/><stop offset="0.437" stop-color="#384b9f"/><stop offset="0.455" stop-color="#426caf"/><stop offset="0.466" stop-color="#5a8ec1"/><stop offset="0.474" stop-color="#7bb2d4"/><stop offset="0.479" stop-color="#a0d0e4"/><stop offset="0.484" stop-color="#d7eff5"/><stop offset="0.487" stop-color="#f0f9da"/><stop offset="0.489" stop-color="#fff5b0"/><stop offset="0.492" stop-color="#fed787"/><stop offset="0.495" stop-color="#fdae61"/><stop offset="0.497" stop-color="#f7844e"/><stop offset="0.5" stop-color="#f46d43"/><stop offset="0.503" stop-color="#f46d43"/><stop offset="0.505" stop-color="#f7824d"/><stop offset="0.508" stop-color="#fca75e"/><stop offset="0.513" stop-color="#feeaa0"/><stop offset="0.516" stop-color="#fdfec2"/><stop offset="0.518" stop-color="#e9f7e7"/><stop offset="0.521" stop-color="#d2ecf4"/><stop offset="0.529" stop-color="#8dc1dc"/><stop offset="0.537" stop-color="#6399c7"/><stop offset="0.547" stop-color="#4473b3"/><stop offset="0.563" stop-color="#3950a2"/><stop offset="0.592" stop-color="#333c98"/><stop offset="0.784" stop-color="#313695"/><stop offset="1" stop-color="#313695"/></linearGradient><linearGradient id="b73" x2="0" y2="1"><stop offset="0" stop-color="#313695"/><stop offset="0.403" stop-color="#323a97"/><stop offset="0.437" stop-color="#374a9f"/><stop offset="0.455" stop-color="#426aaf"/><stop offset="0.466" stop-color="#588cc0"/><stop offset="0.474" stop-color="#78b0d3"/><stop offset="0.482" stop-color="#b0dceb"/><stop offset="0.484" stop-color="#cae8f2"/><stop offset="0.487" stop-color="#e4f5f1"/><stop offset="0.489" stop-color="#f7fcce"/><stop offset="0.492" stop-color="#fff4ae"/><stop offset="0.497" stop-color="#feca7b"/><stop offset="0.5" stop-color="#fdbb6d"/><stop offset="0.503" stop-color="#fdb769"/><stop offset="0.505" stop-color="#fdbe70"/><stop offset="0.511" stop-color="#fee496"/><stop offset="0.513" stop-color="#fff5af"/><stop offset="0.516" stop-color="#f8fccd"/><stop offset="0.518" stop-color="#e6f5ed"/><stop offset="0.521" stop-color="#cfebf3"/><stop offset="0.529" stop-color="#8cc1dc"/><stop offset="0.537" stop-color="#6399c7"/><stop offset="0.547" stop-color="#4472b3"/><stop offset="0.563" stop-color="#394fa1"/><stop offset="0.592" stop-color="#333c98"/><stop offset="0.792" stop-color="#313695"/><stop offset="1" stop-color="#313695"/></linearGradient><linearGradient id="b74" x2="0" y2="1"><stop offset="0" stop-color="#313695"/><stop offset="0.403" stop-color="#323a97"/><stop offset="0.439" stop-color="#384da0"/><stop offset="0.455" stop-color="#4169ae"/><stop offset="0.463" stop-color="#4f81ba"/><stop offset="0.474" stop-color="#75aed1"/><stop offset="0.482" stop-color="#aad9e9"/><stop offset="0.487" stop-color="#dbf0f7"/><stop offset="0.492" stop-color="#fdfec2"/><stop offset="0.497" stop-color="#fee598"/><stop offset="0.503" stop-color="#fed485"/><stop offset="0.508" stop-color="#fee192"/><stop offset="0.513" stop-color="#fffab8"/><stop offset="0.518" stop-color="#e4f5f0"/><stop offset="0.521" stop-color="#cdeaf3"/><stop offset="0.529" stop-color="#8cc0db"/><stop offset="0.537" stop-color="#6399c6"/><stop offset="0.547" stop-color="#4472b3"/><stop offset="0.563" stop-color="#394fa1"/><stop offset="0.592" stop-color="#333c98"/><stop offset="0.8" stop-color="#313695"/><stop offset="1" stop-color="#313695"/></linearGradient><linearGradient id="b75" x2="0" y2="1"><stop offset="0" stop-color="#313695"/><stop offset="0.403" stop-color="#323a97"/><stop offset="0.439" stop-color="#384ca0"/><stop offset="0.455" stop-color="#4168ad"/><stop offset="0.463" stop-color="#4d7fb9"/><stop offset="0.474" stop-color="#72abd0"/><stop offset="0.482" stop-color="#a6d5e7"/><stop offset="0.487" stop-color="#d4edf5"/><stop offset="0.489" stop-color="#e8f6e9"/><stop offset="0.492" stop-color="#f7fccd"/><stop offset="0.495" stop-color="#fff8b5"/><stop offset="0.5" stop-color="#fee496"/><stop offset="0.505" stop-color="#fee090"/><stop offset="0.511" stop-color="#fff0a8"/><stop offset="0.513" stop-color="#fffdbb"/><stop offset="0.518" stop-color="#e3f4f2"/><stop offset="0.524" stop-color="#b4deec"/><stop offset="0.532" stop-color="#7bb2d4"/><stop offset="0.542" stop-color="#5183bb"/><stop offset="0.55" stop-color="#416aae"/><stop offset="0.566" stop-color="#384ba0"/><stop offset="0.6" stop-color="#323a97"/><stop offset="1" stop-color="#313695"/></linearGradient><linearGradient id="b76" x2="0" y2="1"><stop offset="0" stop-color="#313695"/><stop offset="0.405" stop-color="#333b97"/><stop offset="0.439" stop-color="#384ca0"/><stop offset="0.455" stop-color="#4067ad"/><stop offset="0.463" stop-color="#4c7db8"/><stop offset="0.474" stop-color="#70a8cf"/><stop offset="0.482" stop-color="#a2d2e5"/><stop offset="0.487" stop-color="#ceeaf3"/><stop offset="0.489" stop-color="#e4f5f0"/><stop offset="0.495" stop-color="#fffdbb"/><stop offset="0.5" stop-color="#fee89c"/><stop offset="0.505" stop-color="#fee495"/><stop offset="0.511" stop-color="#fff2ab"/><stop offset="0.513" stop-color="#fffebe"/><stop offset="0.518" stop-color="#e2f4f4"/><stop offset="0.526" stop-color="#9ecfe3"/><stop offset="0.534" stop-color="#6da5cd"/><stop offset="0.547" stop-color="#4471b2"/><stop offset="0.563" stop-color="#394fa1"/><stop offset="0.592" stop-color="#333c98"/><stop offset="0.818" stop-color="#313695"/><stop offset="1" stop-color="#313695"/></linearGradient><linearGradient id="b77" x2="0" y2="1"><stop offset="0" stop-color="#313695"/><stop offset="0.405" stop-color="#333b97"/><stop offset="0.439" stop-color="#384b9f"/><stop offset="0.455" stop-color="#4065ac"/><stop offset="0.463" stop-color="#4b7cb8"/><stop offset="0.474" stop-color="#6ea6cd"/><stop offset="0.482" stop-color="#9ecee3"/><stop offset="0.489" stop-color="#e1f3f6"/><stop offset="0.495" stop-color="#fdfec2"/><stop offset="0.5" stop-color="#feeca2"/><stop offset="0.505" stop-color="#fee79a"/><stop offset="0.511" stop-color="#fff4ae"/><stop offset="0.513" stop-color="#feffc1"/><stop offset="0.518" stop-color="#e1f4f6"/><stop offset="0.529" stop-color="#8abfdb"/><stop offset="0.537" stop-color="#6298c6"/><stop offset="0.547" stop-color="#4471b2"/><stop offset="0.563" stop-color="#394ea1"/><stop offset="0.592" stop-color="#333c98"/><stop offset="0.829" stop-color="#313695"/><stop offset="1" stop-color="#313695"/></linearGradient><linearGradient id="b78" x2="0" y2="1"><stop offset="0" stop-color="#313695"/><stop offset="0.405" stop-color="#323b97"/><stop offset="0.439" stop-color="#384b9f"/><stop offset="0.458" stop-color="#426baf"/><stop offset="0.468" stop-color="#598cc0"/><stop offset="0.476" stop-color="#78b0d3"/><stop offset="0.484" stop-color="#aedbea"/><stop offset="0.489" stop-color="#dcf1f7"/><stop offset="0.495" stop-color="#fafdc9"/><stop offset="0.5" stop-color="#feefa7"/><stop offset="0.505" stop-color="#feea9f"/><stop offset="0.511" stop-color="#fff6b2"/><stop offset="0.513" stop-color="#fcfec4"/><stop offset="0.518" stop-color="#e0f3f7"/><stop offset="0.529" stop-color="#8abeda"/><stop offset="0.537" stop-color="#6297c6"/><stop offset="0.547" stop-color="#4471b2"/><stop offset="0.563" stop-color="#394ea1"/><stop offset="0.592" stop-color="#333b98"/><stop offset="0.839" stop-color="#313695"/><stop offset="1" stop-color="#313695"/></linearGradient><linearGradient id="b79" x2="0" y2="1"><stop offset="0" stop-color="#313695"/><stop offset="0.405" stop-color="#323b97"/><stop offset="0.442" stop-color="#384da0"/><stop offset="0.458" stop-color="#4169ae"/><stop offset="0.466" stop-color="#4f81ba"/><stop offset="0.476" stop-color="#75aed2"/><stop offset="0.484" stop-color="#aad8e9"/><stop offset="0.489" stop-color="#d6eef5"/><stop offset="0.492" stop-color="#e8f6e9"/><stop offset="0.497" stop-color="#fffcbb"/><stop offset="0.503" stop-color="#feeea5"/><stop offset="0.508" stop-color="#fff1a9"/><stop offset="0.513" stop-color="#fafdc7"/><stop offset="0.518" stop-color="#dff2f8"/><stop offset="0.529" stop-color="#89beda"/><stop offset="0.537" stop-color="#6197c5"/><stop offset="0.547" stop-color="#4470b2"/><stop offset="0.563" stop-color="#394ea1"/><stop offset="0.592" stop-color="#333b98"/><stop offset="0.853" stop-color="#313695"/><stop offset="1" stop-color="#313695"/></linearGradient><linearGradient id="b80" x2="0" y2="1"><stop offset="0" stop-color="#313695"/><stop offset="0.405" stop-color="#323b97"/><stop offset="0.442" stop-color="#384ca0"/><stop offset="0.458" stop-color="#4168ae"/><stop offset="0.466" stop-color="#4e7fb9"/><stop offset="0.476" stop-color="#73acd0"/><stop offset="0.484" stop-color="#a6d5e7"/><stop offset="0.489" stop-color="#d1ecf4"/><stop offset="0.492" stop-color="#e5f5ef"/><stop offset="0.497" stop-color="#feffc1"/><stop offset="0.503" stop-color="#fff2ab"/><stop offset="0.508" stop-color="#fff4ae"/><stop offset="0.513" stop-color="#f9fdcb"/><stop offset="0.518" stop-color="#ddf2f7"/><stop offset="0.529" stop-color="#89bdda"/><stop offset="0.537" stop-color="#6196c5"/><stop offset="0.547" stop-color="#4370b2"/><stop offset="0.563" stop-color="#384ea1"/><stop offset="0.592" stop-color="#333b98"/><stop offset="0.868" stop-color="#313695"/><stop offset="1" stop-color="#313695"/></linearGradient><linearGradient id="b81" x2="0" y2="1"><stop offset="0" stop-color="#313695"/><stop offset="0.405" stop-color="#323a97"/><stop offset="0.442" stop-color="#384ca0"/><stop offset="0.458" stop-color="#4067ad"/><stop offset="0.466" stop-color="#4c7eb9"/><stop offset="0.476" stop-color="#71a9cf"/><stop offset="0.484" stop-color="#a1d1e5"/><stop offset="0.492" stop-color="#e1f4f5"/><stop offset="0.497" stop-color="#fafdc8"/><stop offset="0.503" stop-color="#fff5b0"/><stop offset="0.508" stop-color="#fff6b2"/><stop offset="0.511" stop-color="#fffdbc"/><stop offset="0.518" stop-color="#dbf1f7"/><stop offset="0.529" stop-color="#88bdda"/><stop offset="0.537" stop-color="#6196c5"/><stop offset="0.547" stop-color="#4370b1"/><stop offset="0.563" stop-color="#384da0"/><stop offset="0.592" stop-color="#333b98"/><stop offset="0.884" stop-color="#313695"/><stop offset="1" stop-color="#313695"/></linearGradient><linearGradient id="b82" x2="0" y2="1"><stop offset="0" stop-color="#313695"/><stop offset="0.405" stop-color="#323a97"/><stop offset="0.442" stop-color="#384b9f"/><stop offset="0.458" stop-color="#4065ac"/><stop offset="0.466" stop-color="#4b7cb8"/><stop offset="0.476" stop-color="#6fa6ce"/><stop offset="0.484" stop-color="#9dcee3"/><stop offset="0.492" stop-color="#ddf1f7"/><stop offset="0.5" stop-color="#ffffbe"/><stop offset="0.505" stop-color="#fff7b3"/><stop offset="0.511" stop-color="#feffc0"/><stop offset="0.518" stop-color="#d9f0f6"/><stop offset="0.526" stop-color="#99cbe1"/><stop offset="0.534" stop-color="#6ba2cb"/><stop offset="0.545" stop-color="#4778b5"/><stop offset="0.561" stop-color="#3a51a2"/><stop offset="0.584" stop-color="#333e99"/><stop offset="0.705" stop-color="#313695"/><stop offset="1" stop-color="#313695"/></linearGradient><linearGradient id="b83" x2="0" y2="1"><stop offset="0" stop-color="#313695"/><stop offset="0.408" stop-color="#333b97"/><stop offset="0.445" stop-color="#384ea1"/><stop offset="0.461" stop-color="#426baf"/><stop offset="0.471" stop-color="#598dc0"/><stop offset="0.479" stop-color="#79b1d3"/><stop offset="0.489" stop-color="#c1e4ef"/><stop offset="0.492" stop-color="#d7eef5"/><stop offset="0.495" stop-color="#e7f6eb"/><stop offset="0.5" stop-color="#fbfdc6"/><stop offset="0.505" stop-color="#fffbb9"/><stop offset="0.511" stop-color="#fbfdc7"/><stop offset="0.516" stop-color="#e6f5ed"/><stop offset="0.518" stop-color="#d5eef5"/><stop offset="0.526" stop-color="#97c9e0"/><stop offset="0.534" stop-color="#6aa1cb"/><stop offset="0.545" stop-color="#4777b5"/><stop offset="0.561" stop-color="#3950a2"/><stop offset="0.587" stop-color="#333d98"/><stop offset="0.742" stop-color="#313695"/><stop offset="1" stop-color="#313695"/></linearGradient><linearGradient id="b84" x2="0" y2="1"><stop offset="0" stop-color="#313695"/><stop offset="0.408" stop-color="#333b97"/><stop offset="0.445" stop-color="#384da0"/><stop offset="0.461" stop-color="#416aae"/><stop offset="0.471" stop-color="#588bbf"/><stop offset="0.482" stop-color="#85bad8"/><stop offset="0.492" stop-color="#d0ebf4"/><stop offset="0.495" stop-color="#e3f4f3"/><stop offset="0.5" stop-color="#f6fbd0"/><stop offset="0.505" stop-color="#fdfec2"/><stop offset="0.511" stop-color="#f5fbd1"/><stop offset="0.516" stop-color="#e2f4f5"/><stop offset="0.524" stop-color="#a6d5e7"/><stop offset="0.532" stop-color="#73acd0"/><stop offset="0.545" stop-color="#4576b4"/><stop offset="0.561" stop-color="#3950a2"/><stop offset="0.587" stop-color="#333c98"/><stop offset="0.75" stop-color="#313695"/><stop offset="1" stop-color="#313695"/></linearGradient><linearGradient id="b85" x2="0" y2="1"><stop offset="0" stop-color="#313695"/><stop offset="0.408" stop-color="#333b97"/><stop offset="0.445" stop-color="#384da0"/><stop offset="0.461" stop-color="#4169ae"/><stop offset="0.468" stop-color="#4e80ba"/><stop offset="0.479" stop-color="#73acd0"/><stop offset="0.489" stop-color="#b7dfec"/><stop offset="0.495" stop-color="#ddf2f7"/><stop offset="0.503" stop-color="#f6fbd0"/><stop offset="0.508" stop-color="#f6fbd0"/><stop offset="0.516" stop-color="#dcf1f7"/><stop offset="0.526" stop-color="#8fc3dd"/><stop offset="0.534" stop-color="#669cc8"/><stop offset="0.545" stop-color="#4574b4"/><stop offset="0.561" stop-color="#394fa1"/><stop offset="0.587" stop-color="#333c98"/><stop offset="0.758" stop-color="#313695"/><stop offset="1" stop-color="#313695"/></linearGradient><linearGradient id="b86" x2="0" y2="1"><stop offset="0" stop-color="#313695"/><stop offset="0.408" stop-color="#323b97"/><stop offset="0.445" stop-color="#384ca0"/><stop offset="0.461" stop-color="#4167ad"/><stop offset="0.468" stop-color="#4d7eb9"/><stop offset="0.479" stop-color="#71a9cf"/><stop offset="0.489" stop-color="#b1dceb"/><stop offset="0.495" stop-color="#d6eef5"/><stop offset="0.497" stop-color="#e4f4f1"/><stop offset="0.503" stop-color="#f1f9da"/><stop offset="0.508" stop-color="#f0f9da"/><stop offset="0.513" stop-color="#e3f4f2"/><stop offset="0.516" stop-color="#d5eef5"/><stop offset="0.524" stop-color="#9dcee3"/><stop offset="0.532" stop-color="#6ea6cd"/><stop offset="0.545" stop-color="#4473b3"/><stop offset="0.561" stop-color="#394fa1"/><stop offset="0.587" stop-color="#333c98"/><stop offset="0.766" stop-color="#313695"/><stop offset="1" stop-color="#313695"/></linearGradient><linearGradient id="b87" x2="0" y2="1"><stop offset="0" stop-color="#313695"/><stop offset="0.408" stop-color="#323b97"/><stop offset="0.445" stop-color="#384ca0"/><stop offset="0.461" stop-color="#4066ad"/><stop offset="0.468" stop-color="#4b7db8"/><stop offset="0.482" stop-color="#7bb2d4"/><stop offset="0.492" stop-color="#bee2ee"/><stop offset="0.497" stop-color="#def2f8"/><stop offset="0.503" stop-color="#ebf7e4"/><stop offset="0.508" stop-color="#ebf7e4"/><stop offset="0.513" stop-color="#def2f7"/><stop offset="0.521" stop-color="#aad8e9"/><stop offset="0.532" stop-color="#6ca3cc"/><stop offset="0.545" stop-color="#4471b2"/><stop offset="0.561" stop-color="#394ea1"/><stop offset="0.589" stop-color="#333b98"/><stop offset="0.861" stop-color="#313695"/><stop offset="1" stop-color="#313695"/></linearGradient><linearGradient id="b88" x2="0" y2="1"><stop offset="0" stop-color="#313695"/><stop offset="0.408" stop-color="#323b97"/><stop offset="0.445" stop-color="#384b9f"/><stop offset="0.463" stop-color="#426caf"/><stop offset="0.474" stop-color="#598dc0"/><stop offset="0.484" stop-color="#86bbd9"/><stop offset="0.492" stop-color="#b7dfec"/><stop offset="0.5" stop-color="#e1f4f6"/><stop offset="0.505" stop-color="#e7f6eb"/><stop offset="0.511" stop-color="#e1f3f6"/><stop offset="0.521" stop-color="#a5d4e6"/><stop offset="0.532" stop-color="#69a0cb"/><stop offset="0.542" stop-color="#4778b5"/><stop offset="0.558" stop-color="#3a51a2"/><stop offset="0.582" stop-color="#333e99"/><stop offset="0.7" stop-color="#313695"/><stop offset="1" stop-color="#313695"/></linearGradient><linearGradient id="b89" x2="0" y2="1"><stop offset="0" stop-color="#313695"/><stop offset="0.408" stop-color="#323a97"/><stop offset="0.445" stop-color="#384b9f"/><stop offset="0.463" stop-color="#426aaf"/><stop offset="0.474" stop-color="#578bbf"/><stop offset="0.484" stop-color="#82b8d7"/><stop offset="0.495" stop-color="#c1e4ef"/><stop offset="0.503" stop-color="#e0f3f7"/><stop offset="0.508" stop-color="#e0f3f8"/><stop offset="0.516" stop-color="#bfe3ef"/><stop offset="0.529" stop-color="#72aad0"/><stop offset="0.542" stop-color="#4676b5"/><stop offset="0.558" stop-color="#3951a2"/><stop offset="0.584" stop-color="#333d98"/><stop offset="0.739" stop-color="#313695"/><stop offset="1" stop-color="#313695"/></linearGradient><linearGradient id="b90" x2="0" y2="1"><stop offset="0" stop-color="#313695"/><stop offset="0.411" stop-color="#333b97"/><stop offset="0.447" stop-color="#384da0"/><stop offset="0.463" stop-color="#4169ae"/><stop offset="0.474" stop-color="#5689be"/><stop offset="0.484" stop-color="#7eb5d5"/><stop offset="0.495" stop-color="#b9e0ed"/><stop offset="0.503" stop-color="#d7eff6"/><stop offset="0.508" stop-color="#d7eff5"/><stop offset="0.516" stop-color="#b8dfed"/><stop offset="0.529" stop-color="#6fa7ce"/><stop offset="0.542" stop-color="#4575b4"/><stop offset="0.558" stop-color="#3950a2"/><stop offset="0.584" stop-color="#333c98"/><stop offset="0.745" stop-color="#313695"/><stop offset="1" stop-color="#313695"/></linearGradient><linearGradient id="b91" x2="0" y2="1"><stop offset="0" stop-color="#313695"/><stop offset="0.411" stop-color="#333b97"/><stop offset="0.447" stop-color="#384ca0"/><stop offset="0.466" stop-color="#436fb1"/><stop offset="0.479" stop-color="#659bc8"/><stop offset="0.489" stop-color="#96c8e0"/><stop offset="0.497" stop-color="#bee2ee"/><stop offset="0.505" stop-color="#d0ebf4"/><stop offset="0.513" stop-color="#bde2ee"/><stop offset="0.521" stop-color="#94c7df"/><stop offset="0.532" stop-color="#6298c6"/><stop offset="0.542" stop-color="#4473b3"/><stop offset="0.558" stop-color="#394fa1"/><stop offset="0.584" stop-color="#333c98"/><stop offset="0.753" stop-color="#313695"/><stop offset="1" stop-color="#313695"/></linearGradient><linearGradient id="b92" x2="0" y2="1"><stop offset="0" stop-color="#313695"/><stop offset="0.411" stop-color="#323b97"/><stop offset="0.447" stop-color="#384ca0"/><stop offset="0.466" stop-color="#436db0"/><stop offset="0.476" stop-color="#5a8ec1"/><stop offset="0.487" stop-color="#83b9d7"/><stop offset="0.497" stop-color="#b6dfec"/><stop offset="0.505" stop-color="#c7e7f1"/><stop offset="0.513" stop-color="#b5deec"/><stop offset="0.526" stop-color="#74add1"/><stop offset="0.539" stop-color="#4979b6"/><stop offset="0.555" stop-color="#3a53a3"/><stop offset="0.579" stop-color="#343e99"/><stop offset="0.692" stop-color="#313695"/><stop offset="1" stop-color="#313695"/></linearGradient><linearGradient id="b93" x2="0" y2="1"><stop offset="0" stop-color="#313695"/><stop offset="0.411" stop-color="#323b97"/><stop offset="0.447" stop-color="#384b9f"/><stop offset="0.466" stop-color="#426caf"/><stop offset="0.476" stop-color="#588bc0"/><stop offset="0.487" stop-color="#7eb5d6"/><stop offset="0.497" stop-color="#afdbea"/><stop offset="0.505" stop-color="#bfe3ef"/><stop offset="0.513" stop-color="#aedbea"/><stop offset="0.529" stop-color="#679dc9"/><stop offset="0.542" stop-color="#4370b1"/><stop offset="0.558" stop-color="#394ea1"/><stop offset="0.587" stop-color="#333b98"/><stop offset="0.853" stop-color="#313695"/><stop offset="1" stop-color="#313695"/></linearGradient><linearGradient id="b94" x2="0" y2="1"><stop offset="0" stop-color="#313695"/><stop offset="0.411" stop-color="#323b97"/><stop offset="0.447" stop-color="#384b9f"/><stop offset="0.466" stop-color="#426aaf"/><stop offset="0.476" stop-color="#5689be"/><stop offset="0.489" stop-color="#87bcd9"/><stop offset="0.5" stop-color="#b1dceb"/><stop offset="0.508" stop-color="#b6deec"/><stop offset="0.516" stop-color="#9dcee3"/><stop offset="0.529" stop-color="#649ac7"/><stop offset="0.542" stop-color="#436eb1"/><stop offset="0.558" stop-color="#384da1"/><stop offset="0.587" stop-color="#333b98"/><stop offset="0.871" stop-color="#313695"/><stop offset="1" stop-color="#313695"/></linearGradient><linearGradient id="b95" x2="0" y2="1"><stop offset="0" stop-color="#313695"/><stop offset="0.411" stop-color="#323a97"/><stop offset="0.447" stop-color="#374a9f"/><stop offset="0.466" stop-color="#4169ae"/><stop offset="0.476" stop-color="#5487bd"/><stop offset="0.489" stop-color="#82b8d7"/><stop offset="0.5" stop-color="#abd9e9"/><stop offset="0.508" stop-color="#afdbea"/><stop offset="0.516" stop-color="#98cae1"/><stop offset="0.529" stop-color="#6297c6"/><stop offset="0.539" stop-color="#4574b4"/><stop offset="0.555" stop-color="#3951a2"/><stop offset="0.582" stop-color="#333d98"/><stop offset="0.737" stop-color="#313695"/><stop offset="1" stop-color="#313695"/></linearGradient><linearGradient id="b96" x2="0" y2="1"><stop offset="0" stop-color="#313695"/><stop offset="0.413" stop-color="#333b97"/><stop offset="0.45" stop-color="#384da0"/><stop offset="0.468" stop-color="#436eb1"/><stop offset="0.482" stop-color="#6197c5"/><stop offset="0.5" stop-color="#a4d3e6"/><stop offset="0.508" stop-color="#a9d7e8"/><stop offset="0.518" stop-color="#87bcd9"/><stop offset="0.534" stop-color="#5082bb"/><stop offset="0.545" stop-color="#4064ac"/><stop offset="0.563" stop-color="#36479d"/><stop offset="0.605" stop-color="#323896"/><stop offset="1" stop-color="#313695"/></linearGradient><linearGradient id="b97" x2="0" y2="1"><stop offset="0" stop-color="#313695"/><stop offset="0.413" stop-color="#333b97"/><stop offset="0.45" stop-color="#384ca0"/><stop offset="0.468" stop-color="#426db0"/><stop offset="0.482" stop-color="#5f94c4"/><stop offset="0.497" stop-color="#96c8e0"/><stop offset="0.505" stop-color="#a3d3e6"/><stop offset="0.513" stop-color="#95c8e0"/><stop offset="0.532" stop-color="#5589be"/><stop offset="0.542" stop-color="#416aae"/><stop offset="0.561" stop-color="#37499e"/><stop offset="0.597" stop-color="#323997"/><stop offset="1" stop-color="#313695"/></linearGradient><linearGradient id="b98" x2="0" y2="1"><stop offset="0" stop-color="#313695"/><stop offset="0.413" stop-color="#323b97"/><stop offset="0.45" stop-color="#384ba0"/><stop offset="0.468" stop-color="#426baf"/><stop offset="0.482" stop-color="#5c91c2"/><stop offset="0.497" stop-color="#90c3dd"/><stop offset="0.505" stop-color="#9ccde3"/><stop offset="0.513" stop-color="#8fc3dd"/><stop offset="0.534" stop-color="#4c7eb9"/><stop offset="0.55" stop-color="#3b57a5"/><stop offset="0.571" stop-color="#34409a"/><stop offset="0.65" stop-color="#313695"/><stop offset="1" stop-color="#313695"/></linearGradient><linearGradient id="b99" x2="0" y2="1"><stop offset="0" stop-color="#313695"/><stop offset="0.413" stop-color="#323a97"/><stop offset="0.45" stop-color="#384b9f"/><stop offset="0.468" stop-color="#4169ae"/><stop offset="0.479" stop-color="#5385bc"/><stop offset="0.497" stop-color="#89beda"/><stop offset="0.505" stop-color="#95c7df"/><stop offset="0.513" stop-color="#89bdda"/><stop offset="0.537" stop-color="#4574b4"/><stop offset="0.555" stop-color="#394ea1"/><stop offset="0.584" stop-color="#333b98"/><stop offset="0.876" stop-color="#313695"/><stop offset="1" stop-color="#313695"/></linearGradient><linearGradient id="b100" x2="0" y2="1"><stop offset="0" stop-color="#313695"/><stop offset="0.416" stop-color="#333b97"/><stop offset="0.45" stop-color="#374a9f"/><stop offset="0.468" stop-color="#4167ad"/><stop offset="0.479" stop-color="#5083bb"/><stop offset="0.497" stop-color="#83b9d7"/><stop offset="0.505" stop-color="#8dc1dc"/><stop offset="0.513" stop-color="#82b8d7"/><stop offset="0.537" stop-color="#4472b3"/><stop offset="0.555" stop-color="#384da0"/><stop offset="0.584" stop-color="#333b98"/><stop offset="0.929" stop-color="#313695"/><stop offset="1" stop-color="#313695"/></linearGradient><linearGradient id="b101" x2="0" y2="1"><stop offset="0" stop-color="#313695"/><stop offset="0.416" stop-color="#323b97"/><stop offset="0.453" stop-color="#384ca0"/><stop offset="0.471" stop-color="#426caf"/><stop offset="0.484" stop-color="#5a8fc1"/><stop offset="0.497" stop-color="#7cb4d5"/><stop offset="0.505" stop-color="#86bbd9"/><stop offset="0.516" stop-color="#75add1"/><stop offset="0.537" stop-color="#4370b1"/><stop offset="0.555" stop-color="#384ca0"/><stop offset="0.587" stop-color="#323a97"/><stop offset="1" stop-color="#313695"/></linearGradient><linearGradient id="b102" x2="0" y2="1"><stop offset="0" stop-color="#313695"/><stop offset="0.418" stop-color="#333b97"/><stop offset="0.453" stop-color="#384b9f"/><stop offset="0.471" stop-color="#4169ae"/><stop offset="0.484" stop-color="#578bbf"/><stop offset="0.5" stop-color="#7ab2d4"/><stop offset="0.508" stop-color="#7db4d5"/><stop offset="0.518" stop-color="#69a0ca"/><stop offset="0.537" stop-color="#436db0"/><stop offset="0.555" stop-color="#384b9f"/><stop offset="0.587" stop-color="#323a97"/><stop offset="1" stop-color="#313695"/></linearGradient><linearGradient id="b103" x2="0" y2="1"><stop offset="0" stop-color="#313695"/><stop offset="0.418" stop-color="#323b97"/><stop offset="0.453" stop-color="#374a9f"/><stop offset="0.474" stop-color="#436db0"/><stop offset="0.5" stop-color="#74add1"/><stop offset="0.511" stop-color="#74acd1"/><stop offset="0.534" stop-color="#4472b2"/><stop offset="0.555" stop-color="#374a9f"/><stop offset="0.587" stop-color="#323a97"/><stop offset="1" stop-color="#313695"/></linearGradient><linearGradient id="b104" x2="0" y2="1"><stop offset="0" stop-color="#313695"/><stop offset="0.421" stop-color="#333b97"/><stop offset="0.455" stop-color="#384ca0"/><stop offset="0.476" stop-color="#4471b2"/><stop offset="0.5" stop-color="#6fa7ce"/><stop offset="0.511" stop-color="#6ea6ce"/><stop offset="0.534" stop-color="#436fb1"/><stop offset="0.555" stop-color="#37499e"/><stop offset="0.589" stop-color="#323997"/><stop offset="1" stop-color="#313695"/></linearGradient><linearGradient id="b105" x2="0" y2="1"><stop offset="0" stop-color="#313695"/><stop offset="0.421" stop-color="#323b97"/><stop offset="0.455" stop-color="#384b9f"/><stop offset="0.476" stop-color="#436eb0"/><stop offset="0.5" stop-color="#6aa1cb"/><stop offset="0.511" stop-color="#69a0ca"/><stop offset="0.534" stop-color="#426caf"/><stop offset="0.555" stop-color="#37489e"/><stop offset="0.592" stop-color="#323996"/><stop offset="1" stop-color="#313695"/></linearGradient><linearGradient id="b106" x2="0" y2="1"><stop offset="0" stop-color="#313695"/><stop offset="0.424" stop-color="#333b97"/><stop offset="0.458" stop-color="#384ca0"/><stop offset="0.482" stop-color="#4677b5"/><stop offset="0.5" stop-color="#649ac7"/><stop offset="0.511" stop-color="#649ac7"/><stop offset="0.534" stop-color="#4169ae"/><stop offset="0.555" stop-color="#36479d"/><stop offset="0.592" stop-color="#323996"/><stop offset="1" stop-color="#313695"/></linearGradient><linearGradient id="b107" x2="0" y2="1"><stop offset="0" stop-color="#313695"/><stop offset="0.424" stop-color="#323b97"/><stop offset="0.458" stop-color="#384b9f"/><stop offset="0.484" stop-color="#4879b6"/><stop offset="0.503" stop-color="#6196c5"/><stop offset="0.516" stop-color="#598cc0"/><stop offset="0.534" stop-color="#4066ad"/><stop offset="0.558" stop-color="#35449c"/><stop offset="0.605" stop-color="#313796"/><stop offset="1" stop-color="#313695"/></linearGradient><linearGradient id="b108" x2="0" y2="1"><stop offset="0" stop-color="#313695"/><stop offset="0.426" stop-color="#333b97"/><stop offset="0.461" stop-color="#384da0"/><stop offset="0.487" stop-color="#497ab7"/><stop offset="0.503" stop-color="#5c90c2"/><stop offset="0.516" stop-color="#5487bd"/><stop offset="0.534" stop-color="#3f63ab"/><stop offset="0.558" stop-color="#35439b"/><stop offset="0.611" stop-color="#313795"/><stop offset="1" stop-color="#313695"/></linearGradient><linearGradient id="b109" x2="0" y2="1"><stop offset="0" stop-color="#313695"/><stop offset="0.426" stop-color="#323b97"/><stop offset="0.461" stop-color="#384b9f"/><stop offset="0.492" stop-color="#4d7eb9"/><stop offset="0.505" stop-color="#578abf"/><stop offset="0.521" stop-color="#4979b6"/><stop offset="0.55" stop-color="#37499e"/><stop offset="0.584" stop-color="#323997"/><stop offset="1" stop-color="#313695"/></linearGradient><linearGradient id="b110" x2="0" y2="1"><stop offset="0" stop-color="#313695"/><stop offset="0.429" stop-color="#323b97"/><stop offset="0.463" stop-color="#384da0"/><stop offset="0.5" stop-color="#5082bb"/><stop offset="0.516" stop-color="#4b7cb8"/><stop offset="0.553" stop-color="#36469d"/><stop offset="0.595" stop-color="#323896"/><stop offset="1" stop-color="#313695"/></linearGradient><linearGradient id="b111" x2="0" y2="1"><stop offset="0" stop-color="#313695"/><stop offset="0.432" stop-color="#333b97"/><stop offset="0.463" stop-color="#384b9f"/><stop offset="0.5" stop-color="#4b7cb7"/><stop offset="0.516" stop-color="#4777b5"/><stop offset="0.553" stop-color="#36449c"/><stop offset="0.597" stop-color="#313896"/><stop offset="1" stop-color="#313695"/></linearGradient><linearGradient id="b112" x2="0" y2="1"><stop offset="0" stop-color="#313695"/><stop offset="0.434" stop-color="#333b97"/><stop offset="0.466" stop-color="#384ca0"/><stop offset="0.5" stop-color="#4576b4"/><stop offset="0.518" stop-color="#436eb1"/><stop offset="0.553" stop-color="#35439c"/><stop offset="0.603" stop-color="#313796"/><stop offset="1" stop-color="#313695"/></linearGradient><linearGradient id="b113" x2="0" y2="1"><stop offset="0" stop-color="#313695"/><stop offset="0.434" stop-color="#323b97"/><stop offset="0.468" stop-color="#384da0"/><stop offset="0.5" stop-color="#4470b2"/><stop offset="0.518" stop-color="#416aaf"/><stop offset="0.555" stop-color="#34419a"/><stop offset="0.621" stop-color="#313695"/><stop offset="1" stop-color="#313695"/></linearGradient><linearGradient id="b114" x2="0" y2="1"><stop offset="0" stop-color="#313695"/><stop offset="0.437" stop-color="#323b97"/><stop offset="0.468" stop-color="#384ca0"/><stop offset="0.5" stop-color="#426db0"/><stop offset="0.518" stop-color="#4167ad"/><stop offset="0.555" stop-color="#34409a"/><stop offset="0.626" stop-color="#313695"/><stop offset="1" stop-color="#313695"/></linearGradient><linearGradient id="b115" x2="0" y2="1"><stop offset="0" stop-color="#313695"/><stop offset="0.439" stop-color="#333b97"/><stop offset="0.471" stop-color="#384da0"/><stop offset="0.503" stop-color="#426aaf"/><stop offset="0.524" stop-color="#3e5ea9"/><stop offset="0.558" stop-color="#333e99"/><stop offset="0.663" stop-color="#313695"/><stop offset="1" stop-color="#313695"/></linearGradient><linearGradient id="b116" x2="0" y2="1"><stop offset="0" stop-color="#313695"/><stop offset="0.442" stop-color="#333b97"/><stop offset="0.474" stop-color="#394ea1"/><stop offset="0.503" stop-color="#4167ad"/><stop offset="0.524" stop-color="#3d5ca7"/><stop offset="0.558" stop-color="#333d99"/><stop offset="0.682" stop-color="#313695"/><stop offset="1" stop-color="#313695"/></linearGradient><linearGradient id="b117" x2="0" y2="1"><stop offset="0" stop-color="#313695"/><stop offset="0.445" stop-color="#333b97"/><stop offset="0.479" stop-color="#3a51a2"/><stop offset="0.505" stop-color="#4064ac"/><stop offset="0.532" stop-color="#3950a2"/><stop offset="0.566" stop-color="#323a97"/><stop offset="1" stop-color="#313695"/></linearGradient><linearGradient id="b118" x2="0" y2="1"><stop offset="0" stop-color="#313695"/><stop offset="0.445" stop-color="#323a97"/><stop offset="0.479" stop-color="#394fa1"/><stop offset="0.505" stop-color="#3f61aa"/><stop offset="0.537" stop-color="#374a9f"/><stop offset="0.574" stop-color="#323896"/><stop offset="1" stop-color="#313695"/></linearGradient><linearGradient id="b119" x2="0" y2="1"><stop offset="0" stop-color="#313695"/><stop offset="0.447" stop-color="#333b97"/><stop offset="0.487" stop-color="#3b55a4"/><stop offset="0.511" stop-color="#3d5da8"/><stop offset="0.561" stop-color="#333b97"/><stop offset="1" stop-color="#313695"/></linearGradient><linearGradient id="b120" x2="0" y2="1"><stop offset="0" stop-color="#313695"/><stop offset="0.447" stop-color="#323a97"/><stop offset="0.505" stop-color="#3d5ba7"/><stop offset="0.566" stop-color="#323997"/><stop offset="1" stop-color="#313695"/></linearGradient><linearGradient id="b121" x2="0" y2="1"><stop offset="0" stop-color="#313695"/><stop offset="0.45" stop-color="#323b97"/><stop offset="0.505" stop-color="#3c58a6"/><stop offset="0.566" stop-color="#323996"/><stop offset="1" stop-color="#313695"/></linearGradient><linearGradient id="b122" x2="0" y2="1"><stop offset="0" stop-color="#313695"/><stop offset="0.453" stop-color="#333b97"/><stop offset="0.508" stop-color="#3b55a4"/><stop offset="0.566" stop-color="#323996"/><stop offset="1" stop-color="#313695"/></linearGradient><linearGradient id="b123" x2="0" y2="1"><stop offset="0" stop-color="#313695"/><stop offset="0.453" stop-color="#323b97"/><stop offset="0.508" stop-color="#3a52a3"/><stop offset="0.568" stop-color="#323896"/><stop offset="1" stop-color="#313695"/></linearGradient><linearGradient id="b124" x2="0" y2="1"><stop offset="0" stop-color="#313695"/><stop offset="0.455" stop-color="#333b97"/><stop offset="0.508" stop-color="#3950a2"/><stop offset="0.568" stop-color="#323896"/><stop offset="1" stop-color="#313695"/></linearGradient><linearGradient id="b125" x2="0" y2="1"><stop offset="0" stop-color="#313695"/><stop offset="0.455" stop-color="#323a97"/><stop offset="0.508" stop-color="#384da0"/><stop offset="0.571" stop-color="#313796"/><stop offset="1" stop-color="#313695"/></linearGradient><linearGradient id="b126" x2="0" y2="1"><stop offset="0" stop-color="#313695"/><stop offset="0.458" stop-color="#333b97"/><stop offset="0.508" stop-color="#384b9f"/><stop offset="0.571" stop-color="#313796"/><stop offset="1" stop-color="#313695"/></linearGradient><linearGradient id="b127" x2="0" y2="1"><stop offset="0" stop-color="#313695"/><stop offset="0.458" stop-color="#323a97"/><stop offset="0.508" stop-color="#37499e"/><stop offset="0.574" stop-color="#313795"/><stop offset="1" stop-color="#313695"/></linearGradient><linearGradient id="b128" x2="0" y2="1"><stop offset="0" stop-color="#313695"/><stop offset="0.461" stop-color="#323a97"/><stop offset="0.511" stop-color="#36469d"/><stop offset="0.576" stop-color="#313795"/><stop offset="1" stop-color="#313695"/></linearGradient><linearGradient id="b129" x2="0" y2="1"><stop offset="0" stop-color="#313695"/><stop offset="0.463" stop-color="#323a97"/><stop offset="0.513" stop-color="#35439b"/><stop offset="0.584" stop-color="#313695"/><stop offset="1" stop-color="#313695"/></linearGradient><linearGradient id="b130" x2="0" y2="1"><stop offset="0" stop-color="#313695"/><stop offset="0.466" stop-color="#323a97"/><stop offset="0.516" stop-color="#34409a"/><stop offset="0.595" stop-color="#313695"/><stop offset="1" stop-color="#313695"/></linearGradient><linearGradient id="b131" x2="0" y2="1"><stop offset="0" stop-color="#313695"/><stop offset="0.471" stop-color="#323b97"/><stop offset="0.521" stop-color="#333d98"/><stop offset="0.639" stop-color="#313695"/><stop offset="1" stop-color="#313695"/></linearGradient><linearGradient id="b132" x2="0" y2="1"><stop offset="0" stop-color="#313695"/><stop offset="0.476" stop-color="#323b97"/><stop offset="0.539" stop-color="#323896"/><stop offset="1" stop-color="#313695"/></linearGradient><linearGradient id="b133" x2="0" y2="1"><stop offset="0" stop-color="#313695"/><stop offset="0.482" stop-color="#323a97"/><stop offset="1" stop-color="#313695"/></linearGradient><linearGradient id="b134" x2="0" y2="1"><stop offset="0" stop-color="#313695"/><stop offset="0.487" stop-color="#323b97"/><stop offset="1" stop-color="#313695"/></linearGradient><linearGradient id="b135" x2="0" y2="1"><stop offset="0" stop-color="#313695"/><stop offset="0.495" stop-color="#323b97"/><stop offset="1" stop-color="#313695"/></linearGradient><linearGradient id="b136" x2="0" y2="1"><stop offset="0" stop-color="#313695"/><stop offset="0.563" stop-color="#313695"/><stop offset="1" stop-color="#313695"/></linearGradient><clipPath id="cpb"><polygon points="415.8,246.8 416.8,240.9 418.9,235.1 421.9,229.2 425.8,223.4 429.5,219.5 433.3,215.6 435,210.7 437.2,205.8 440.1,200 441.7,195.3 446.9,187.5 452.1,181 458.6,175.8 463.8,169.4 467.7,161.6 472.9,153.8 478,147.3 481.9,140.8 485.8,134.3 487.3,131.3 489.7,127.2 491.4,123.1 493,119.1 495.4,115.8 496.2,112.6 498,111 496.5,107 497.5,102.5 500,99.5 506,101.5 508.4,100 510.8,97 513.3,93.9 516.5,89.9 519,85 518.2,78.8 519.9,73.1 522.3,69 526.3,65.8 530.4,64.2 533.6,61.7 535.3,58.5 538.5,56.1 541.7,55.3 545.8,54.4 549,52.8 556.3,52.8 560.4,52 563.6,50.4 566.9,49.6 569.3,48.3 575,47.5 587.5,44.4 599.2,44.4 611,45.8 615.3,50.2 616.8,57.5 619.7,62 616.8,69.2 613.9,78 611,86.8 606.4,90 604.1,93.4 599.5,96.8 597.3,101.4 593.9,105.9 591.6,110.5 588.2,115 587,119.5 583.6,123 581.5,126.4 578.8,129.8 576,133.2 572.6,137.8 568.7,140.7 566.7,145.6 562.8,149.5 558.9,153.4 556,157.3 552.9,161.2 549.7,165.1 546.2,169 542.8,172.9 538.9,176.8 535,180.7 532,186.8 526.1,190.7 520.3,195.6 512.5,200.4 504.7,204.3 497,208.2 491.1,213.1 485.3,217.9 479.5,220.9 473.6,223.8 467.8,226.7 460,228.6 451.8,231.2 445.9,233.1 441.1,237 436.2,241.9 430.3,245.8 424.5,248.7 416.7,249.7"/><circle cx="610.9" cy="92.7" r="1.5"/><circle cx="592.7" cy="111.6" r="1.5"/><circle cx="592.7" cy="115" r="1.5"/><circle cx="583.6" cy="130.9" r="1.5"/><circle cx="579.1" cy="134.3" r="1.5"/><circle cx="575.7" cy="135.5" r="1.5"/><circle cx="582.5" cy="138.9" r="1.5"/><circle cx="570" cy="144.5" r="1.5"/><circle cx="595" cy="144.5" r="1.5"/><circle cx="592.7" cy="149.1" r="1.5"/><circle cx="572.3" cy="155.9" r="1.5"/><circle cx="578" cy="153.6" r="1.5"/><circle cx="629" cy="150.2" r="1.5"/><circle cx="570.1" cy="144.6" r="1.5"/><circle cx="572" cy="155.3" r="1.5"/><circle cx="577.9" cy="154.4" r="1.5"/><circle cx="582.8" cy="138.8" r="1.5"/><circle cx="578.9" cy="133.9" r="1.5"/><circle cx="563.3" cy="155.3" r="1.5"/><circle cx="558.4" cy="161.2" r="1.5"/><circle cx="557.4" cy="168" r="1.5"/><circle cx="554.5" cy="166.1" r="1.5"/><circle cx="548.6" cy="166.1" r="1.5"/><circle cx="550.6" cy="174.8" r="1.5"/><circle cx="542.8" cy="177.8" r="1.5"/><circle cx="537.9" cy="182.6" r="1.5"/><circle cx="536" cy="185.6" r="1.5"/><circle cx="499.5" cy="98" r="1.5"/><circle cx="513.3" cy="90.7" r="1.5"/><circle cx="510.8" cy="98" r="1.5"/><circle cx="497.9" cy="103.7" r="1.5"/><circle cx="501.1" cy="105.3" r="1.5"/><circle cx="497" cy="106.1" r="1.5"/><circle cx="521.4" cy="86.6" r="1.5"/><circle cx="539.3" cy="52.8" r="1.5"/><circle cx="535.3" cy="59.3" r="1.5"/><circle cx="555.5" cy="52" r="1.5"/><circle cx="558" cy="52.8" r="1.5"/><circle cx="527.2" cy="71.5" r="1.5"/><circle cx="530.4" cy="67.4" r="1.5"/><circle cx="520.7" cy="78" r="1.5"/><circle cx="622.6" cy="59" r="1.5"/><circle cx="621" cy="70.7" r="1.5"/><circle cx="624" cy="60.6" r="1.5"/><circle cx="583" cy="129" r="1.5"/><circle cx="593" cy="143" r="1.5"/><circle cx="577" cy="150.6" r="1.5"/><circle cx="623" cy="58.5" r="1.5"/><circle cx="622" cy="62.4" r="1.5"/><circle cx="619.1" cy="62.4" r="1.5"/><circle cx="620.1" cy="71.2" r="1.5"/><circle cx="617.2" cy="72.2" r="1.5"/><circle cx="614.2" cy="76.1" r="1.5"/><circle cx="612.3" cy="88.7" r="1.5"/><circle cx="610.3" cy="92.6" r="1.5"/><circle cx="606.4" cy="89.7" r="1.5"/><circle cx="596.7" cy="97.5" r="1.5"/><circle cx="619" cy="72" r="1.5"/><circle cx="617.4" cy="80" r="1.5"/><circle cx="614.2" cy="84.9" r="1.5"/><circle cx="606" cy="97.9" r="1.5"/><circle cx="602.8" cy="101.2" r="1.5"/><circle cx="599.5" cy="106" r="1.5"/><circle cx="596.3" cy="110.9" r="1.5"/><circle cx="593.1" cy="115.8" r="1.5"/><circle cx="417.8" cy="247.1" r="1.5"/><circle cx="417.1" cy="244.7" r="1.5"/><circle cx="418.2" cy="242.5" r="1.5"/><circle cx="418.4" cy="241.5" r="1.5"/><circle cx="418.6" cy="239.1" r="1.5"/><circle cx="419.6" cy="237" r="1.5"/><circle cx="420.3" cy="235.8" r="1.5"/><circle cx="420.9" cy="233.5" r="1.5"/><circle cx="422" cy="231.5" r="1.5"/><circle cx="423" cy="230" r="1.5"/><circle cx="424.2" cy="227.9" r="1.5"/><circle cx="425.5" cy="226.1" r="1.5"/><circle cx="426.6" cy="224" r="1.5"/><circle cx="427" cy="224.6" r="1.5"/><circle cx="428.5" cy="222.8" r="1.5"/><circle cx="429.8" cy="220.9" r="1.5"/><circle cx="430.3" cy="220.3" r="1.5"/><circle cx="432.5" cy="219.2" r="1.5"/><circle cx="433.6" cy="217" r="1.5"/><circle cx="434.7" cy="216.1" r="1.5"/><circle cx="434.9" cy="213.7" r="1.5"/><circle cx="435.8" cy="211.6" r="1.5"/><circle cx="436.7" cy="211.5" r="1.5"/><circle cx="437.2" cy="209.2" r="1.5"/><circle cx="437.7" cy="206.9" r="1.5"/><circle cx="438.2" cy="206.3" r="1.5"/><circle cx="439.3" cy="204.3" r="1.5"/><circle cx="440.4" cy="202.3" r="1.5"/><circle cx="441" cy="200.3" r="1.5"/><circle cx="441.7" cy="198.1" r="1.5"/><circle cx="443.1" cy="196.1" r="1.5"/><circle cx="443" cy="196.2" r="1.5"/><circle cx="443.8" cy="193.9" r="1.5"/><circle cx="445.6" cy="192.4" r="1.5"/><circle cx="447" cy="190.6" r="1.5"/><circle cx="448.2" cy="188.6" r="1.5"/><circle cx="448.1" cy="188.4" r="1.5"/><circle cx="449.6" cy="186.7" r="1.5"/><circle cx="450.5" cy="184.5" r="1.5"/><circle cx="452.2" cy="182.9" r="1.5"/><circle cx="452.8" cy="181.9" r="1.5"/><circle cx="454.5" cy="180.3" r="1.5"/><circle cx="456.9" cy="179.6" r="1.5"/><circle cx="458.5" cy="178" r="1.5"/><circle cx="459.6" cy="176.6" r="1.5"/><circle cx="461.1" cy="174.9" r="1.5"/><circle cx="462.7" cy="173.2" r="1.5"/><circle cx="464.3" cy="171.6" r="1.5"/><circle cx="464.6" cy="169.8" r="1.5"/><circle cx="466.6" cy="168.2" r="1.5"/><circle cx="467.3" cy="166" r="1.5"/><circle cx="468.3" cy="163.9" r="1.5"/><circle cx="468.7" cy="162.3" r="1.5"/><circle cx="469.7" cy="160.2" r="1.5"/><circle cx="471.4" cy="158.5" r="1.5"/><circle cx="473" cy="156.9" r="1.5"/><circle cx="474.1" cy="154.8" r="1.5"/><circle cx="474.2" cy="154.8" r="1.5"/><circle cx="475.5" cy="153" r="1.5"/><circle cx="476.9" cy="151.1" r="1.5"/><circle cx="478.4" cy="149.4" r="1.5"/><circle cx="479.2" cy="148" r="1.5"/><circle cx="480.3" cy="146" r="1.5"/><circle cx="481.8" cy="144.2" r="1.5"/><circle cx="482.3" cy="141.9" r="1.5"/><circle cx="483.1" cy="141.5" r="1.5"/><circle cx="483.9" cy="139.3" r="1.5"/><circle cx="485.3" cy="137.5" r="1.5"/><circle cx="486.5" cy="135.5" r="1.5"/><circle cx="487" cy="134.9" r="1.5"/><circle cx="488.1" cy="132.9" r="1.5"/><circle cx="488.3" cy="131.9" r="1.5"/><circle cx="489.2" cy="129.8" r="1.5"/><circle cx="490.9" cy="128.1" r="1.5"/><circle cx="490.8" cy="127.6" r="1.5"/><circle cx="492.2" cy="125.7" r="1.5"/><circle cx="492.6" cy="123.6" r="1.5"/><circle cx="493.7" cy="121.6" r="1.5"/><circle cx="494.3" cy="120" r="1.5"/><circle cx="495.6" cy="118.1" r="1.5"/><circle cx="496.4" cy="116.1" r="1.5"/><circle cx="496.9" cy="113.8" r="1.5"/><circle cx="497.4" cy="114" r="1.5"/><circle cx="498.6" cy="111.8" r="1.5"/><circle cx="499.8" cy="110.3" r="1.5"/><circle cx="498.6" cy="108.3" r="1.5"/><circle cx="498.3" cy="107.4" r="1.5"/><circle cx="498.9" cy="105.2" r="1.5"/><circle cx="498.3" cy="102.7" r="1.5"/><circle cx="498.8" cy="103.6" r="1.5"/><circle cx="499.9" cy="101.5" r="1.5"/><circle cx="499.4" cy="101.2" r="1.5"/><circle cx="501.7" cy="101.6" r="1.5"/><circle cx="504" cy="102.2" r="1.5"/><circle cx="507" cy="103.1" r="1.5"/><circle cx="508.4" cy="101" r="1.5"/><circle cx="509.1" cy="100.6" r="1.5"/><circle cx="510.6" cy="98.8" r="1.5"/><circle cx="511.5" cy="97.6" r="1.5"/><circle cx="513" cy="95.8" r="1.5"/><circle cx="514.1" cy="94.6" r="1.5"/><circle cx="516" cy="93.1" r="1.5"/><circle cx="517.7" cy="91.5" r="1.5"/><circle cx="518" cy="90.7" r="1.5"/><circle cx="519.2" cy="88.7" r="1.5"/><circle cx="520.4" cy="86.7" r="1.5"/><circle cx="520.2" cy="84.8" r="1.5"/><circle cx="520.4" cy="82.5" r="1.5"/><circle cx="519.5" cy="80.3" r="1.5"/><circle cx="519.6" cy="79.2" r="1.5"/><circle cx="520" cy="76.9" r="1.5"/><circle cx="521.2" cy="74.9" r="1.5"/><circle cx="520.7" cy="73.6" r="1.5"/><circle cx="522.5" cy="72" r="1.5"/><circle cx="523.6" cy="69.9" r="1.5"/><circle cx="522.9" cy="69.7" r="1.5"/><circle cx="525.3" cy="69" r="1.5"/><circle cx="526.8" cy="67.2" r="1.5"/><circle cx="527" cy="67.7" r="1.5"/><circle cx="528.8" cy="65.8" r="1.5"/><circle cx="531.2" cy="65.2" r="1.5"/><circle cx="532.8" cy="63.5" r="1.5"/><circle cx="535.3" cy="62.6" r="1.5"/><circle cx="535.5" cy="60.1" r="1.5"/><circle cx="536.4" cy="59.9" r="1.5"/><circle cx="537.6" cy="57.8" r="1.5"/><circle cx="538.8" cy="57.4" r="1.5"/><circle cx="541" cy="56.7" r="1.5"/><circle cx="542.1" cy="56.9" r="1.5"/><circle cx="544.3" cy="56.5" r="1.5"/><circle cx="546.6" cy="56" r="1.5"/><circle cx="548.4" cy="54.6" r="1.5"/><circle cx="549" cy="54.7" r="1.5"/><circle cx="551.3" cy="53.9" r="1.5"/><circle cx="553.6" cy="54" r="1.5"/><circle cx="555.9" cy="53.9" r="1.5"/><circle cx="556.6" cy="54.2" r="1.5"/><circle cx="558.9" cy="54.3" r="1.5"/><circle cx="561.2" cy="53.7" r="1.5"/><circle cx="562.9" cy="51.8" r="1.5"/><circle cx="564" cy="52.2" r="1.5"/><circle cx="566.1" cy="51" r="1.5"/><circle cx="567.3" cy="50.4" r="1.5"/><circle cx="569.9" cy="50.2" r="1.5"/><circle cx="569.4" cy="49.2" r="1.5"/><circle cx="571.7" cy="48.9" r="1.5"/><circle cx="574" cy="48.5" r="1.5"/><circle cx="575.2" cy="48.3" r="1.5"/><circle cx="577.5" cy="48" r="1.5"/><circle cx="579.8" cy="47.8" r="1.5"/><circle cx="582.1" cy="47.5" r="1.5"/><circle cx="584.2" cy="46.4" r="1.5"/><circle cx="586.4" cy="45.6" r="1.5"/><circle cx="587.5" cy="45.9" r="1.5"/><circle cx="589.8" cy="46.1" r="1.5"/><circle cx="592.1" cy="45.9" r="1.5"/><circle cx="594.4" cy="45.3" r="1.5"/><circle cx="596.7" cy="45.7" r="1.5"/><circle cx="599" cy="46" r="1.5"/><circle cx="599.1" cy="45.6" r="1.5"/><circle cx="601.4" cy="45.8" r="1.5"/><circle cx="603.6" cy="46.5" r="1.5"/><circle cx="605.9" cy="46.3" r="1.5"/><circle cx="608.2" cy="47" r="1.5"/><circle cx="610.4" cy="47.5" r="1.5"/><circle cx="609.8" cy="46.9" r="1.5"/><circle cx="612" cy="48" r="1.5"/><circle cx="613.6" cy="49.7" r="1.5"/><circle cx="614.1" cy="50.4" r="1.5"/><circle cx="614.8" cy="52.6" r="1.5"/><circle cx="615.3" cy="54.9" r="1.5"/><circle cx="615" cy="57.3" r="1.5"/><circle cx="615.8" cy="58.2" r="1.5"/><circle cx="616.5" cy="60.4" r="1.5"/><circle cx="618.1" cy="62.1" r="1.5"/><circle cx="618.5" cy="61.5" r="1.5"/><circle cx="617.8" cy="63.7" r="1.5"/><circle cx="617.2" cy="65.9" r="1.5"/><circle cx="615.8" cy="67.9" r="1.5"/><circle cx="615.1" cy="68.6" r="1.5"/><circle cx="614.7" cy="70.9" r="1.5"/><circle cx="613.7" cy="73" r="1.5"/><circle cx="613.5" cy="75.4" r="1.5"/><circle cx="612.6" cy="77.5" r="1.5"/><circle cx="612.6" cy="77.6" r="1.5"/><circle cx="611.9" cy="79.7" r="1.5"/><circle cx="611.4" cy="82" r="1.5"/><circle cx="610.3" cy="84.1" r="1.5"/><circle cx="610" cy="86.4" r="1.5"/><circle cx="609.9" cy="85.2" r="1.5"/><circle cx="608.2" cy="86.8" r="1.5"/><circle cx="606.5" cy="88.3" r="1.5"/><circle cx="604.9" cy="89" r="1.5"/><circle cx="604.2" cy="91.3" r="1.5"/><circle cx="603.1" cy="92.1" r="1.5"/><circle cx="601.2" cy="93.4" r="1.5"/><circle cx="599.7" cy="95.2" r="1.5"/><circle cx="598.2" cy="96.2" r="1.5"/><circle cx="596.8" cy="98.1" r="1.5"/><circle cx="596.5" cy="100.5" r="1.5"/><circle cx="596.5" cy="100.8" r="1.5"/><circle cx="595.2" cy="102.7" r="1.5"/><circle cx="593.8" cy="104.5" r="1.5"/><circle cx="592.8" cy="105.4" r="1.5"/><circle cx="592.1" cy="107.6" r="1.5"/><circle cx="590.1" cy="109.1" r="1.5"/><circle cx="590.7" cy="109.8" r="1.5"/><circle cx="589.2" cy="111.6" r="1.5"/><circle cx="587.9" cy="113.5" r="1.5"/><circle cx="587.3" cy="114.8" r="1.5"/><circle cx="585.7" cy="116.7" r="1.5"/><circle cx="585.2" cy="119" r="1.5"/><circle cx="585.6" cy="118.2" r="1.5"/><circle cx="584.1" cy="119.8" r="1.5"/><circle cx="582.4" cy="121.5" r="1.5"/><circle cx="581.9" cy="122" r="1.5"/><circle cx="581.3" cy="124.3" r="1.5"/><circle cx="580.8" cy="125.9" r="1.5"/><circle cx="578.7" cy="127.1" r="1.5"/><circle cx="577.4" cy="128.6" r="1.5"/><circle cx="576" cy="130.5" r="1.5"/><circle cx="575" cy="132.5" r="1.5"/><circle cx="573.3" cy="134" r="1.5"/><circle cx="572.1" cy="136" r="1.5"/><circle cx="572.1" cy="137.2" r="1.5"/><circle cx="569.9" cy="138" r="1.5"/><circle cx="568.2" cy="139.6" r="1.5"/><circle cx="567.7" cy="140.3" r="1.5"/><circle cx="566.4" cy="142.3" r="1.5"/><circle cx="565.6" cy="144.4" r="1.5"/><circle cx="565.3" cy="144.2" r="1.5"/><circle cx="563.9" cy="146" r="1.5"/><circle cx="562.7" cy="148.1" r="1.5"/><circle cx="562.2" cy="148.9" r="1.5"/><circle cx="559.9" cy="149.8" r="1.5"/><circle cx="558.9" cy="152.1" r="1.5"/><circle cx="557.8" cy="152.6" r="1.5"/><circle cx="556" cy="154.1" r="1.5"/><circle cx="554.8" cy="156" r="1.5"/><circle cx="555" cy="156.5" r="1.5"/><circle cx="553.2" cy="158" r="1.5"/><circle cx="551.6" cy="159.7" r="1.5"/><circle cx="551.6" cy="160.1" r="1.5"/><circle cx="550.5" cy="162.2" r="1.5"/><circle cx="549" cy="163.9" r="1.5"/><circle cx="548.6" cy="164.1" r="1.5"/><circle cx="547.6" cy="166.3" r="1.5"/><circle cx="545.2" cy="167.2" r="1.5"/><circle cx="545.1" cy="168" r="1.5"/><circle cx="543.5" cy="169.7" r="1.5"/><circle cx="541.7" cy="171.2" r="1.5"/><circle cx="541.4" cy="171.5" r="1.5"/><circle cx="540.1" cy="173.5" r="1.5"/><circle cx="538.2" cy="174.8" r="1.5"/><circle cx="537.7" cy="175.6" r="1.5"/><circle cx="536.6" cy="177.8" r="1.5"/><circle cx="534.9" cy="179.3" r="1.5"/><circle cx="534" cy="180.2" r="1.5"/><circle cx="532.7" cy="182.1" r="1.5"/><circle cx="532.1" cy="184.4" r="1.5"/><circle cx="531.5" cy="186.1" r="1.5"/><circle cx="529.5" cy="187.2" r="1.5"/><circle cx="527.5" cy="188.3" r="1.5"/><circle cx="525.5" cy="189.5" r="1.5"/><circle cx="525.1" cy="189.5" r="1.5"/><circle cx="523.4" cy="191" r="1.5"/><circle cx="521.7" cy="192.6" r="1.5"/><circle cx="519.9" cy="194.1" r="1.5"/><circle cx="519.6" cy="194.5" r="1.5"/><circle cx="517.7" cy="195.8" r="1.5"/><circle cx="515.8" cy="197" r="1.5"/><circle cx="513.8" cy="198.2" r="1.5"/><circle cx="512" cy="199.4" r="1.5"/><circle cx="510" cy="200.6" r="1.5"/><circle cx="507.9" cy="201.6" r="1.5"/><circle cx="506" cy="202.8" r="1.5"/><circle cx="504" cy="203" r="1.5"/><circle cx="502" cy="204.1" r="1.5"/><circle cx="500.2" cy="205.6" r="1.5"/><circle cx="498.2" cy="206.7" r="1.5"/><circle cx="496" cy="207" r="1.5"/><circle cx="494" cy="208.2" r="1.5"/><circle cx="492.4" cy="209.9" r="1.5"/><circle cx="491.1" cy="211.9" r="1.5"/><circle cx="490.4" cy="212.2" r="1.5"/><circle cx="488.6" cy="213.7" r="1.5"/><circle cx="487" cy="215.4" r="1.5"/><circle cx="485.1" cy="216.7" r="1.5"/><circle cx="484.5" cy="216.3" r="1.5"/><circle cx="482.5" cy="217.4" r="1.5"/><circle cx="480.7" cy="219.1" r="1.5"/><circle cx="478.7" cy="219.2" r="1.5"/><circle cx="477" cy="221.1" r="1.5"/><circle cx="474.9" cy="222" r="1.5"/><circle cx="473" cy="222.7" r="1.5"/><circle cx="471" cy="223.8" r="1.5"/><circle cx="468.9" cy="224.6" r="1.5"/><circle cx="467.5" cy="225.3" r="1.5"/><circle cx="465.3" cy="226.3" r="1.5"/><circle cx="463" cy="226.5" r="1.5"/><circle cx="460.9" cy="227.4" r="1.5"/><circle cx="459.5" cy="227" r="1.5"/><circle cx="457.5" cy="228.2" r="1.5"/><circle cx="455.2" cy="228.6" r="1.5"/><circle cx="453" cy="229.2" r="1.5"/><circle cx="451.3" cy="229.5" r="1.5"/><circle cx="449.2" cy="230.7" r="1.5"/><circle cx="446.9" cy="231" r="1.5"/><circle cx="445.3" cy="232.4" r="1.5"/><circle cx="443.5" cy="233.8" r="1.5"/><circle cx="441.3" cy="234.8" r="1.5"/><circle cx="440.3" cy="236.2" r="1.5"/><circle cx="438.8" cy="238" r="1.5"/><circle cx="436.5" cy="238.9" r="1.5"/><circle cx="435.1" cy="240.7" r="1.5"/><circle cx="435.7" cy="241.2" r="1.5"/><circle cx="433.2" cy="241.5" r="1.5"/><circle cx="431.3" cy="242.9" r="1.5"/><circle cx="429.6" cy="244.4" r="1.5"/><circle cx="429.4" cy="244" r="1.5"/><circle cx="427.7" cy="245.8" r="1.5"/><circle cx="425.8" cy="247" r="1.5"/><circle cx="424.3" cy="246.9" r="1.5"/><circle cx="422" cy="247.3" r="1.5"/><circle cx="419.8" cy="248.4" r="1.5"/><circle cx="417.5" cy="248.4" r="1.5"/><circle cx="418.4" cy="249.2" r="1.5"/><circle cx="417.8" cy="247" r="1.5"/></clipPath></defs><g clip-path="url(#cpa)"><rect x="41.5" y="12.3" width="254.1" height="263.9" fill="#313695"/><g transform="matrix(0.69360 -0.72036 -0.72036 -0.69360 41.50 276.20)"><rect x="4" y="-95" width="2.6" height="190" fill="url(#a0)"/><rect x="6" y="-95" width="2.6" height="190" fill="url(#a1)"/><rect x="8" y="-95" width="2.6" height="190" fill="url(#a2)"/><rect x="10" y="-95" width="2.6" height="190" fill="url(#a3)"/><rect x="12" y="-95" width="2.6" height="190" fill="url(#a4)"/><rect x="14" y="-95" width="2.6" height="190" fill="url(#a5)"/><rect x="16" y="-95" width="2.6" height="190" fill="url(#a6)"/><rect x="18" y="-95" width="2.6" height="190" fill="url(#a7)"/><rect x="20" y="-95" width="2.6" height="190" fill="url(#a8)"/><rect x="22" y="-95" width="2.6" height="190" fill="url(#a9)"/><rect x="24" y="-95" width="2.6" height="190" fill="url(#a10)"/><rect x="26" y="-95" width="2.6" height="190" fill="url(#a11)"/><rect x="28" y="-95" width="2.6" height="190" fill="url(#a12)"/><rect x="30" y="-95" width="2.6" height="190" fill="url(#a13)"/><rect x="32" y="-95" width="2.6" height="190" fill="url(#a14)"/><rect x="34" y="-95" width="2.6" height="190" fill="url(#a15)"/><rect x="36" y="-95" width="2.6" height="190" fill="url(#a16)"/><rect x="38" y="-95" width="2.6" height="190" fill="url(#a17)"/><rect x="40" y="-95" width="2.6" height="190" fill="url(#a18)"/><rect x="42" y="-95" width="2.6" height="190" fill="url(#a19)"/><rect x="44" y="-95" width="2.6" height="190" fill="url(#a20)"/><rect x="46" y="-95" width="2.6" height="190" fill="url(#a21)"/><rect x="48" y="-95" width="2.6" height="190" fill="url(#a22)"/><rect x="50" y="-95" width="2.6" height="190" fill="url(#a23)"/><rect x="52" y="-95" width="2.6" height="190" fill="url(#a24)"/><rect x="54" y="-95" width="2.6" height="190" fill="url(#a25)"/><rect x="56" y="-95" width="2.6" height="190" fill="url(#a26)"/><rect x="58" y="-95" width="2.6" height="190" fill="url(#a27)"/><rect x="60" y="-95" width="2.6" height="190" fill="url(#a28)"/><rect x="62" y="-95" width="2.6" height="190" fill="url(#a29)"/><rect x="64" y="-95" width="2.6" height="190" fill="url(#a30)"/><rect x="66" y="-95" width="2.6" height="190" fill="url(#a31)"/><rect x="68" y="-95" width="2.6" height="190" fill="url(#a32)"/><rect x="70" y="-95" width="2.6" height="190" fill="url(#a33)"/><rect x="72" y="-95" width="2.6" height="190" fill="url(#a34)"/><rect x="74" y="-95" width="2.6" height="190" fill="url(#a35)"/><rect x="76" y="-95" width="2.6" height="190" fill="url(#a36)"/><rect x="78" y="-95" width="2.6" height="190" fill="url(#a37)"/><rect x="80" y="-95" width="2.6" height="190" fill="url(#a38)"/><rect x="82" y="-95" width="2.6" height="190" fill="url(#a39)"/><rect x="84" y="-95" width="2.6" height="190" fill="url(#a40)"/><rect x="86" y="-95" width="2.6" height="190" fill="url(#a41)"/><rect x="88" y="-95" width="2.6" height="190" fill="url(#a42)"/><rect x="90" y="-95" width="2.6" height="190" fill="url(#a43)"/><rect x="92" y="-95" width="2.6" height="190" fill="url(#a44)"/><rect x="94" y="-95" width="2.6" height="190" fill="url(#a45)"/><rect x="96" y="-95" width="2.6" height="190" fill="url(#a46)"/><rect x="98" y="-95" width="2.6" height="190" fill="url(#a47)"/><rect x="100" y="-95" width="2.6" height="190" fill="url(#a48)"/><rect x="102" y="-95" width="2.6" height="190" fill="url(#a49)"/><rect x="104" y="-95" width="2.6" height="190" fill="url(#a50)"/><rect x="106" y="-95" width="2.6" height="190" fill="url(#a51)"/><rect x="108" y="-95" width="2.6" height="190" fill="url(#a52)"/><rect x="110" y="-95" width="2.6" height="190" fill="url(#a53)"/><rect x="112" y="-95" width="2.6" height="190" fill="url(#a54)"/><rect x="114" y="-95" width="2.6" height="190" fill="url(#a55)"/><rect x="116" y="-95" width="2.6" height="190" fill="url(#a56)"/><rect x="118" y="-95" width="2.6" height="190" fill="url(#a57)"/><rect x="120" y="-95" width="2.6" height="190" fill="url(#a58)"/><rect x="122" y="-95" width="2.6" height="190" fill="url(#a59)"/><rect x="124" y="-95" width="2.6" height="190" fill="url(#a60)"/><rect x="126" y="-95" width="2.6" height="190" fill="url(#a61)"/><rect x="128" y="-95" width="2.6" height="190" fill="url(#a62)"/><rect x="130" y="-95" width="2.6" height="190" fill="url(#a63)"/><rect x="132" y="-95" width="2.6" height="190" fill="url(#a64)"/><rect x="134" y="-95" width="2.6" height="190" fill="url(#a65)"/><rect x="136" y="-95" width="2.6" height="190" fill="url(#a66)"/><rect x="138" y="-95" width="2.6" height="190" fill="url(#a67)"/><rect x="140" y="-95" width="2.6" height="190" fill="url(#a68)"/><rect x="142" y="-95" width="2.6" height="190" fill="url(#a69)"/><rect x="144" y="-95" width="2.6" height="190" fill="url(#a70)"/><rect x="146" y="-95" width="2.6" height="190" fill="url(#a71)"/><rect x="148" y="-95" width="2.6" height="190" fill="url(#a72)"/><rect x="150" y="-95" width="2.6" height="190" fill="url(#a73)"/><rect x="152" y="-95" width="2.6" height="190" fill="url(#a74)"/><rect x="154" y="-95" width="2.6" height="190" fill="url(#a75)"/><rect x="156" y="-95" width="2.6" height="190" fill="url(#a76)"/><rect x="158" y="-95" width="2.6" height="190" fill="url(#a77)"/><rect x="160" y="-95" width="2.6" height="190" fill="url(#a78)"/><rect x="162" y="-95" width="2.6" height="190" fill="url(#a79)"/><rect x="164" y="-95" width="2.6" height="190" fill="url(#a80)"/><rect x="166" y="-95" width="2.6" height="190" fill="url(#a81)"/><rect x="168" y="-95" width="2.6" height="190" fill="url(#a82)"/><rect x="170" y="-95" width="2.6" height="190" fill="url(#a83)"/><rect x="172" y="-95" width="2.6" height="190" fill="url(#a84)"/><rect x="174" y="-95" width="2.6" height="190" fill="url(#a85)"/><rect x="176" y="-95" width="2.6" height="190" fill="url(#a86)"/><rect x="178" y="-95" width="2.6" height="190" fill="url(#a87)"/><rect x="180" y="-95" width="2.6" height="190" fill="url(#a88)"/><rect x="182" y="-95" width="2.6" height="190" fill="url(#a89)"/><rect x="184" y="-95" width="2.6" height="190" fill="url(#a90)"/><rect x="186" y="-95" width="2.6" height="190" fill="url(#a91)"/><rect x="188" y="-95" width="2.6" height="190" fill="url(#a92)"/><rect x="190" y="-95" width="2.6" height="190" fill="url(#a93)"/><rect x="192" y="-95" width="2.6" height="190" fill="url(#a94)"/><rect x="194" y="-95" width="2.6" height="190" fill="url(#a95)"/><rect x="196" y="-95" width="2.6" height="190" fill="url(#a96)"/><rect x="198" y="-95" width="2.6" height="190" fill="url(#a97)"/><rect x="200" y="-95" width="2.6" height="190" fill="url(#a98)"/><rect x="202" y="-95" width="2.6" height="190" fill="url(#a99)"/><rect x="204" y="-95" width="2.6" height="190" fill="url(#a100)"/><rect x="206" y="-95" width="2.6" height="190" fill="url(#a101)"/><rect x="208" y="-95" width="2.6" height="190" fill="url(#a102)"/><rect x="210" y="-95" width="2.6" height="190" fill="url(#a103)"/><rect x="212" y="-95" width="2.6" height="190" fill="url(#a104)"/><rect x="214" y="-95" width="2.6" height="190" fill="url(#a105)"/><rect x="216" y="-95" width="2.6" height="190" fill="url(#a106)"/><rect x="218" y="-95" width="2.6" height="190" fill="url(#a107)"/><rect x="220" y="-95" width="2.6" height="190" fill="url(#a108)"/><rect x="222" y="-95" width="2.6" height="190" fill="url(#a109)"/><rect x="224" y="-95" width="2.6" height="190" fill="url(#a110)"/><rect x="226" y="-95" width="2.6" height="190" fill="url(#a111)"/><rect x="228" y="-95" width="2.6" height="190" fill="url(#a112)"/><rect x="230" y="-95" width="2.6" height="190" fill="url(#a113)"/><rect x="232" y="-95" width="2.6" height="190" fill="url(#a114)"/><rect x="234" y="-95" width="2.6" height="190" fill="url(#a115)"/><rect x="236" y="-95" width="2.6" height="190" fill="url(#a116)"/><rect x="238" y="-95" width="2.6" height="190" fill="url(#a117)"/><rect x="240" y="-95" width="2.6" height="190" fill="url(#a118)"/><rect x="242" y="-95" width="2.6" height="190" fill="url(#a119)"/><rect x="244" y="-95" width="2.6" height="190" fill="url(#a120)"/><rect x="246" y="-95" width="2.6" height="190" fill="url(#a121)"/><rect x="248" y="-95" width="2.6" height="190" fill="url(#a122)"/><rect x="250" y="-95" width="2.6" height="190" fill="url(#a123)"/><rect x="252" y="-95" width="2.6" height="190" fill="url(#a124)"/><rect x="254" y="-95" width="2.6" height="190" fill="url(#a125)"/><rect x="256" y="-95" width="2.6" height="190" fill="url(#a126)"/><rect x="258" y="-95" width="2.6" height="190" fill="url(#a127)"/><rect x="260" y="-95" width="2.6" height="190" fill="url(#a128)"/><rect x="262" y="-95" width="2.6" height="190" fill="url(#a129)"/><rect x="264" y="-95" width="2.6" height="190" fill="url(#a130)"/><rect x="266" y="-95" width="2.6" height="190" fill="url(#a131)"/><rect x="268" y="-95" width="2.6" height="190" fill="url(#a132)"/><rect x="270" y="-95" width="2.6" height="190" fill="url(#a133)"/><rect x="272" y="-95" width="2.6" height="190" fill="url(#a134)"/><rect x="274" y="-95" width="2.6" height="190" fill="url(#a135)"/><rect x="276" y="-95" width="2.6" height="190" fill="url(#a136)"/><rect x="278" y="-95" width="2.6" height="190" fill="url(#a137)"/><rect x="280" y="-95" width="2.6" height="190" fill="url(#a138)"/><rect x="282" y="-95" width="2.6" height="190" fill="url(#a139)"/><rect x="284" y="-95" width="2.6" height="190" fill="url(#a140)"/><rect x="286" y="-95" width="2.6" height="190" fill="url(#a141)"/><rect x="288" y="-95" width="2.6" height="190" fill="url(#a142)"/><rect x="290" y="-95" width="2.6" height="190" fill="url(#a143)"/><rect x="292" y="-95" width="2.6" height="190" fill="url(#a144)"/><rect x="294" y="-95" width="2.6" height="190" fill="url(#a145)"/><rect x="296" y="-95" width="2.6" height="190" fill="url(#a146)"/><rect x="298" y="-95" width="2.6" height="190" fill="url(#a147)"/></g></g><g fill="#fff"><circle cx="255" cy="114.3" r="1.3"/><circle cx="255.8" cy="119.2" r="1.3"/><circle cx="250.9" cy="125.7" r="1.3"/><circle cx="257.4" cy="128.9" r="1.3"/><circle cx="246" cy="121.6" r="1.3"/><circle cx="241.2" cy="127.3" r="1.3"/><circle cx="238" cy="128.1" r="1.3"/><circle cx="247.7" cy="135.4" r="1.3"/><circle cx="256.6" cy="107.8" r="1.3"/><circle cx="260.7" cy="106.2" r="1.3"/><circle cx="261.5" cy="112.7" r="1.3"/><circle cx="263.9" cy="116.7" r="1.3"/><circle cx="259.8" cy="124.8" r="1.3"/><circle cx="262.3" cy="130.5" r="1.3"/><circle cx="238.2" cy="126.8" r="1.3"/><circle cx="243.6" cy="122.1" r="1.3"/><circle cx="247.1" cy="129.3" r="1.3"/><circle cx="252.5" cy="123.2" r="1.3"/><circle cx="256.1" cy="130.4" r="1.3"/><circle cx="259.6" cy="117.9" r="1.3"/><circle cx="261.4" cy="125" r="1.3"/><circle cx="254.3" cy="110.7" r="1.3"/><circle cx="248.9" cy="116.1" r="1.3"/><circle cx="234.6" cy="139.3" r="1.3"/><circle cx="241.8" cy="137.5" r="1.3"/><circle cx="229.3" cy="142.9" r="1.3"/></g><g clip-path="url(#cpb)"><rect x="390.5" y="12.2" width="253.8" height="263.8" fill="#313695"/><g transform="matrix(0.69332 -0.72063 -0.72063 -0.69332 390.50 276.00)"><rect x="4" y="-95" width="2.6" height="190" fill="url(#b0)"/><rect x="6" y="-95" width="2.6" height="190" fill="url(#b1)"/><rect x="8" y="-95" width="2.6" height="190" fill="url(#b2)"/><rect x="10" y="-95" width="2.6" height="190" fill="url(#b3)"/><rect x="12" y="-95" width="2.6" height="190" fill="url(#b4)"/><rect x="14" y="-95" width="2.6" height="190" fill="url(#b5)"/><rect x="16" y="-95" width="2.6" height="190" fill="url(#b6)"/><rect x="18" y="-95" width="2.6" height="190" fill="url(#b7)"/><rect x="20" y="-95" width="2.6" height="190" fill="url(#b8)"/><rect x="22" y="-95" width="2.6" height="190" fill="url(#b9)"/><rect x="24" y="-95" width="2.6" height="190" fill="url(#b10)"/><rect x="26" y="-95" width="2.6" height="190" fill="url(#b11)"/><rect x="28" y="-95" width="2.6" height="190" fill="url(#b12)"/><rect x="30" y="-95" width="2.6" height="190" fill="url(#b13)"/><rect x="32" y="-95" width="2.6" height="190" fill="url(#b14)"/><rect x="34" y="-95" width="2.6" height="190" fill="url(#b15)"/><rect x="36" y="-95" width="2.6" height="190" fill="url(#b16)"/><rect x="38" y="-95" width="2.6" height="190" fill="url(#b17)"/><rect x="40" y="-95" width="2.6" height="190" fill="url(#b18)"/><rect x="42" y="-95" width="2.6" height="190" fill="url(#b19)"/><rect x="44" y="-95" width="2.6" height="190" fill="url(#b20)"/><rect x="46" y="-95" width="2.6" height="190" fill="url(#b21)"/><rect x="48" y="-95" width="2.6" height="190" fill="url(#b22)"/><rect x="50" y="-95" width="2.6" height="190" fill="url(#b23)"/><rect x="52" y="-95" width="2.6" height="190" fill="url(#b24)"/><rect x="54" y="-95" width="2.6" height="190" fill="url(#b25)"/><rect x="56" y="-95" width="2.6" height="190" fill="url(#b26)"/><rect x="58" y="-95" width="2.6" height="190" fill="url(#b27)"/><rect x="60" y="-95" width="2.6" height="190" fill="url(#b28)"/><rect x="62" y="-95" width="2.6" height="190" fill="url(#b29)"/><rect x="64" y="-95" width="2.6" height="190" fill="url(#b30)"/><rect x="66" y="-95" width="2.6" height="190" fill="url(#b31)"/><rect x="68" y="-95" width="2.6" height="190" fill="url(#b32)"/><rect x="70" y="-95" width="2.6" height="190" fill="url(#b33)"/><rect x="72" y="-95" width="2.6" height="190" fill="url(#b34)"/><rect x="74" y="-95" width="2.6" height="190" fill="url(#b35)"/><rect x="76" y="-95" width="2.6" height="190" fill="url(#b36)"/><rect x="78" y="-95" width="2.6" height="190" fill="url(#b37)"/><rect x="80" y="-95" width="2.6" height="190" fill="url(#b38)"/><rect x="82" y="-95" width="2.6" height="190" fill="url(#b39)"/><rect x="84" y="-95" width="2.6" height="190" fill="url(#b40)"/><rect x="86" y="-95" width="2.6" height="190" fill="url(#b41)"/><rect x="88" y="-95" width="2.6" height="190" fill="url(#b42)"/><rect x="90" y="-95" width="2.6" height="190" fill="url(#b43)"/><rect x="92" y="-95" width="2.6" height="190" fill="url(#b44)"/><rect x="94" y="-95" width="2.6" height="190" fill="url(#b45)"/><rect x="96" y="-95" width="2.6" height="190" fill="url(#b46)"/><rect x="98" y="-95" width="2.6" height="190" fill="url(#b47)"/><rect x="100" y="-95" width="2.6" height="190" fill="url(#b48)"/><rect x="102" y="-95" width="2.6" height="190" fill="url(#b49)"/><rect x="104" y="-95" width="2.6" height="190" fill="url(#b50)"/><rect x="106" y="-95" width="2.6" height="190" fill="url(#b51)"/><rect x="108" y="-95" width="2.6" height="190" fill="url(#b52)"/><rect x="110" y="-95" width="2.6" height="190" fill="url(#b53)"/><rect x="112" y="-95" width="2.6" height="190" fill="url(#b54)"/><rect x="114" y="-95" width="2.6" height="190" fill="url(#b55)"/><rect x="116" y="-95" width="2.6" height="190" fill="url(#b56)"/><rect x="118" y="-95" width="2.6" height="190" fill="url(#b57)"/><rect x="120" y="-95" width="2.6" height="190" fill="url(#b58)"/><rect x="122" y="-95" width="2.6" height="190" fill="url(#b59)"/><rect x="124" y="-95" width="2.6" height="190" fill="url(#b60)"/><rect x="126" y="-95" width="2.6" height="190" fill="url(#b61)"/><rect x="128" y="-95" width="2.6" height="190" fill="url(#b62)"/><rect x="130" y="-95" width="2.6" height="190" fill="url(#b63)"/><rect x="132" y="-95" width="2.6" height="190" fill="url(#b64)"/><rect x="134" y="-95" width="2.6" height="190" fill="url(#b65)"/><rect x="136" y="-95" width="2.6" height="190" fill="url(#b66)"/><rect x="138" y="-95" width="2.6" height="190" fill="url(#b67)"/><rect x="140" y="-95" width="2.6" height="190" fill="url(#b68)"/><rect x="142" y="-95" width="2.6" height="190" fill="url(#b69)"/><rect x="144" y="-95" width="2.6" height="190" fill="url(#b70)"/><rect x="146" y="-95" width="2.6" height="190" fill="url(#b71)"/><rect x="148" y="-95" width="2.6" height="190" fill="url(#b72)"/><rect x="150" y="-95" width="2.6" height="190" fill="url(#b73)"/><rect x="152" y="-95" width="2.6" height="190" fill="url(#b74)"/><rect x="154" y="-95" width="2.6" height="190" fill="url(#b75)"/><rect x="156" y="-95" width="2.6" height="190" fill="url(#b76)"/><rect x="158" y="-95" width="2.6" height="190" fill="url(#b77)"/><rect x="160" y="-95" width="2.6" height="190" fill="url(#b78)"/><rect x="162" y="-95" width="2.6" height="190" fill="url(#b79)"/><rect x="164" y="-95" width="2.6" height="190" fill="url(#b80)"/><rect x="166" y="-95" width="2.6" height="190" fill="url(#b81)"/><rect x="168" y="-95" width="2.6" height="190" fill="url(#b82)"/><rect x="170" y="-95" width="2.6" height="190" fill="url(#b83)"/><rect x="172" y="-95" width="2.6" height="190" fill="url(#b84)"/><rect x="174" y="-95" width="2.6" height="190" fill="url(#b85)"/><rect x="176" y="-95" width="2.6" height="190" fill="url(#b86)"/><rect x="178" y="-95" width="2.6" height="190" fill="url(#b87)"/><rect x="180" y="-95" width="2.6" height="190" fill="url(#b88)"/><rect x="182" y="-95" width="2.6" height="190" fill="url(#b89)"/><rect x="184" y="-95" width="2.6" height="190" fill="url(#b90)"/><rect x="186" y="-95" width="2.6" height="190" fill="url(#b91)"/><rect x="188" y="-95" width="2.6" height="190" fill="url(#b92)"/><rect x="190" y="-95" width="2.6" height="190" fill="url(#b93)"/><rect x="192" y="-95" width="2.6" height="190" fill="url(#b94)"/><rect x="194" y="-95" width="2.6" height="190" fill="url(#b95)"/><rect x="196" y="-95" width="2.6" height="190" fill="url(#b96)"/><rect x="198" y="-95" width="2.6" height="190" fill="url(#b97)"/><rect x="200" y="-95" width="2.6" height="190" fill="url(#b98)"/><rect x="202" y="-95" width="2.6" height="190" fill="url(#b99)"/><rect x="204" y="-95" width="2.6" height="190" fill="url(#b100)"/><rect x="206" y="-95" width="2.6" height="190" fill="url(#b101)"/><rect x="208" y="-95" width="2.6" height="190" fill="url(#b102)"/><rect x="210" y="-95" width="2.6" height="190" fill="url(#b103)"/><rect x="212" y="-95" width="2.6" height="190" fill="url(#b104)"/><rect x="214" y="-95" width="2.6" height="190" fill="url(#b105)"/><rect x="216" y="-95" width="2.6" height="190" fill="url(#b106)"/><rect x="218" y="-95" width="2.6" height="190" fill="url(#b107)"/><rect x="220" y="-95" width="2.6" height="190" fill="url(#b108)"/><rect x="222" y="-95" width="2.6" height="190" fill="url(#b109)"/><rect x="224" y="-95" width="2.6" height="190" fill="url(#b110)"/><rect x="226" y="-95" width="2.6" height="190" fill="url(#b111)"/><rect x="228" y="-95" width="2.6" height="190" fill="url(#b112)"/><rect x="230" y="-95" width="2.6" height="190" fill="url(#b113)"/><rect x="232" y="-95" width="2.6" height="190" fill="url(#b114)"/><rect x="234" y="-95" width="2.6" height="190" fill="url(#b115)"/><rect x="236" y="-95" width="2.6" height="190" fill="url(#b116)"/><rect x="238" y="-95" width="2.6" height="190" fill="url(#b117)"/><rect x="240" y="-95" width="2.6" height="190" fill="url(#b118)"/><rect x="242" y="-95" width="2.6" height="190" fill="url(#b119)"/><rect x="244" y="-95" width="2.6" height="190" fill="url(#b120)"/><rect x="246" y="-95" width="2.6" height="190" fill="url(#b121)"/><rect x="248" y="-95" width="2.6" height="190" fill="url(#b122)"/><rect x="250" y="-95" width="2.6" height="190" fill="url(#b123)"/><rect x="252" y="-95" width="2.6" height="190" fill="url(#b124)"/><rect x="254" y="-95" width="2.6" height="190" fill="url(#b125)"/><rect x="256" y="-95" width="2.6" height="190" fill="url(#b126)"/><rect x="258" y="-95" width="2.6" height="190" fill="url(#b127)"/><rect x="260" y="-95" width="2.6" height="190" fill="url(#b128)"/><rect x="262" y="-95" width="2.6" height="190" fill="url(#b129)"/><rect x="264" y="-95" width="2.6" height="190" fill="url(#b130)"/><rect x="266" y="-95" width="2.6" height="190" fill="url(#b131)"/><rect x="268" y="-95" width="2.6" height="190" fill="url(#b132)"/><rect x="270" y="-95" width="2.6" height="190" fill="url(#b133)"/><rect x="272" y="-95" width="2.6" height="190" fill="url(#b134)"/><rect x="274" y="-95" width="2.6" height="190" fill="url(#b135)"/><rect x="276" y="-95" width="2.6" height="190" fill="url(#b136)"/></g></g></svg>
<svg width="685" height="308"><defs><linearGradient id="ga" gradientUnits="userSpaceOnUse" x1="0" y1="276.2" x2="0" y2="25.0"><stop offset="0.0" stop-color="#313695"/><stop offset="0.1" stop-color="#4575b4"/><stop offset="0.2" stop-color="#74add1"/><stop offset="0.3" stop-color="#abd9e9"/><stop offset="0.4" stop-color="#e0f3f8"/><stop offset="0.5" stop-color="#ffffbf"/><stop offset="0.6" stop-color="#fee090"/><stop offset="0.7" stop-color="#fdae61"/><stop offset="0.8" stop-color="#f46d43"/><stop offset="0.9" stop-color="#d73027"/><stop offset="1.0" stop-color="#a50026"/></linearGradient><linearGradient id="gb" gradientUnits="userSpaceOnUse" x1="0" y1="276.0" x2="0" y2="25.0"><stop offset="0.0" stop-color="#313695"/><stop offset="0.1" stop-color="#4575b4"/><stop offset="0.2" stop-color="#74add1"/><stop offset="0.3" stop-color="#abd9e9"/><stop offset="0.4" stop-color="#e0f3f8"/><stop offset="0.5" stop-color="#ffffbf"/><stop offset="0.6" stop-color="#fee090"/><stop offset="0.7" stop-color="#fdae61"/><stop offset="0.8" stop-color="#f46d43"/><stop offset="0.9" stop-color="#d73027"/><stop offset="1.0" stop-color="#a50026"/></linearGradient></defs><line x1="41.5" y1="276.2" x2="295.6" y2="12.3" stroke="#000" stroke-width="1.1" stroke-dasharray="3.7 1.6"/><rect x="41.5" y="12.3" width="254.1" height="263.9" fill="none" stroke="#262626" stroke-width="1.1"/><text transform="translate(41.5,289.6) scale(1,1.12)" text-anchor="middle" font-size="13">0</text><text transform="translate(87.7,289.6) scale(1,1.12)" text-anchor="middle" font-size="13">100</text><text transform="translate(133.9,289.6) scale(1,1.12)" text-anchor="middle" font-size="13">200</text><text transform="translate(180.1,289.6) scale(1,1.12)" text-anchor="middle" font-size="13">300</text><text transform="translate(226.3,289.6) scale(1,1.12)" text-anchor="middle" font-size="13">400</text><text transform="translate(272.5,289.6) scale(1,1.12)" text-anchor="middle" font-size="13">500</text><text transform="translate(37.3,281.3) scale(1,1.12)" text-anchor="end" font-size="13">0</text><text transform="translate(37.3,233.32) scale(1,1.12)" text-anchor="end" font-size="13">100</text><text transform="translate(37.3,185.34) scale(1,1.12)" text-anchor="end" font-size="13">200</text><text transform="translate(37.3,137.35) scale(1,1.12)" text-anchor="end" font-size="13">300</text><text transform="translate(37.3,89.37) scale(1,1.12)" text-anchor="end" font-size="13">400</text><text transform="translate(37.3,41.39) scale(1,1.12)" text-anchor="end" font-size="13">500</text><text transform="translate(168.55,305.6) scale(1,1.04)" text-anchor="middle" font-size="15.55">Observed LWDR</text><text transform="translate(11.8,144.25) rotate(-90) scale(1,1.04)" text-anchor="middle" font-size="15.55">LessRad LWDR (0.05°)</text><rect x="50.3" y="21.6" width="88.4" height="61.8" rx="3.5" ry="3.5" fill="#fff" stroke="#222" stroke-width="1"/><text transform="translate(54.6,35.3) scale(1,1.07)" font-size="13.4">N = 17303157</text><text transform="translate(54.6,49.1) scale(1,1.07)" font-size="13.4">R = 0.94</text><text transform="translate(54.6,62.9) scale(1,1.07)" font-size="13.4">Bias = 4.39</text><text transform="translate(54.6,76.7) scale(1,1.07)" font-size="13.4">RMSE = 24.74</text><text transform="translate(258.7,258.2) scale(1,1.04)" font-size="21.6">(a)</text><path d="M311.6,276.2 L311.6,25.0 L318.1,13.2 L324.6,25.0 L324.6,276.2 Z" fill="url(#ga)"/><line x1="324.6" y1="244.88" x2="327.40000000000003" y2="244.88" stroke="#333" stroke-width="0.9"/><text transform="translate(328.9,250.58) scale(1,1.12)" font-size="13">0.5</text><line x1="324.6" y1="213.56" x2="327.40000000000003" y2="213.56" stroke="#333" stroke-width="0.9"/><text transform="translate(328.9,219.26) scale(1,1.12)" font-size="13">1.0</text><line x1="324.6" y1="182.23" x2="327.40000000000003" y2="182.23" stroke="#333" stroke-width="0.9"/><text transform="translate(328.9,187.93) scale(1,1.12)" font-size="13">1.5</text><line x1="324.6" y1="150.91" x2="327.40000000000003" y2="150.91" stroke="#333" stroke-width="0.9"/><text transform="translate(328.9,156.61) scale(1,1.12)" font-size="13">2.0</text><line x1="324.6" y1="119.59" x2="327.40000000000003" y2="119.59" stroke="#333" stroke-width="0.9"/><text transform="translate(328.9,125.29) scale(1,1.12)" font-size="13">2.5</text><line x1="324.6" y1="88.27" x2="327.40000000000003" y2="88.27" stroke="#333" stroke-width="0.9"/><text transform="translate(328.9,93.97) scale(1,1.12)" font-size="13">3.0</text><line x1="324.6" y1="56.95" x2="327.40000000000003" y2="56.95" stroke="#333" stroke-width="0.9"/><text transform="translate(328.9,62.65) scale(1,1.12)" font-size="13">3.5</text><line x1="324.6" y1="25.63" x2="327.40000000000003" y2="25.63" stroke="#333" stroke-width="0.9"/><text transform="translate(328.9,31.33) scale(1,1.12)" font-size="13">4.0</text><text transform="translate(306.7,11.2) scale(1,1.12)" font-size="13">1e4</text><line x1="390.5" y1="276.0" x2="644.3" y2="12.2" stroke="#000" stroke-width="1.1" stroke-dasharray="3.7 1.6"/><rect x="390.5" y="12.2" width="253.8" height="263.8" fill="none" stroke="#262626" stroke-width="1.1"/><text transform="translate(390.5,289.6) scale(1,1.12)" text-anchor="middle" font-size="13">0</text><text transform="translate(455.41,289.6) scale(1,1.12)" text-anchor="middle" font-size="13">200</text><text transform="translate(520.32,289.6) scale(1,1.12)" text-anchor="middle" font-size="13">400</text><text transform="translate(585.23,289.6) scale(1,1.12)" text-anchor="middle" font-size="13">600</text><text transform="translate(386.3,281.1) scale(1,1.12)" text-anchor="end" font-size="13">0</text><text transform="translate(386.3,247.37) scale(1,1.12)" text-anchor="end" font-size="13">100</text><text transform="translate(386.3,213.63) scale(1,1.12)" text-anchor="end" font-size="13">200</text><text transform="translate(386.3,179.9) scale(1,1.12)" text-anchor="end" font-size="13">300</text><text transform="translate(386.3,146.16) scale(1,1.12)" text-anchor="end" font-size="13">400</text><text transform="translate(386.3,112.43) scale(1,1.12)" text-anchor="end" font-size="13">500</text><text transform="translate(386.3,78.7) scale(1,1.12)" text-anchor="end" font-size="13">600</text><text transform="translate(386.3,44.96) scale(1,1.12)" text-anchor="end" font-size="13">700</text><text transform="translate(517.4,305.6) scale(1,1.04)" text-anchor="middle" font-size="15.55">Observed LWUR</text><text transform="translate(361.0,144.1) rotate(-90) scale(1,1.04)" text-anchor="middle" font-size="15.55">LessRad LWUR (0.05°)</text><rect x="398.8" y="21.7" width="89" height="61.3" rx="3.5" ry="3.5" fill="#fff" stroke="#222" stroke-width="1"/><text transform="translate(403.1,35.3) scale(1,1.07)" font-size="13.4">N = 11081893</text><text transform="translate(403.1,49.1) scale(1,1.07)" font-size="13.4">R = 0.97</text><text transform="translate(403.1,62.9) scale(1,1.07)" font-size="13.4">Bias = 0.14</text><text transform="translate(403.1,76.7) scale(1,1.07)" font-size="13.4">RMSE = 20.42</text><text transform="translate(606.1,258.2) scale(1,1.04)" font-size="21.6">(b)</text><path d="M660.5,276.0 L660.5,25.0 L666.95,13.2 L673.4,25.0 L673.4,276.0 Z" fill="url(#gb)"/><line x1="673.4" y1="225.04" x2="676.1999999999999" y2="225.04" stroke="#333" stroke-width="0.9"/><text transform="translate(677.3,230.74) scale(1,1.12)" font-size="13">2</text><line x1="673.4" y1="174.07" x2="676.1999999999999" y2="174.07" stroke="#333" stroke-width="0.9"/><text transform="translate(677.3,179.77) scale(1,1.12)" font-size="13">4</text><line x1="673.4" y1="123.11" x2="676.1999999999999" y2="123.11" stroke="#333" stroke-width="0.9"/><text transform="translate(677.3,128.81) scale(1,1.12)" font-size="13">6</text><line x1="673.4" y1="72.14" x2="676.1999999999999" y2="72.14" stroke="#333" stroke-width="0.9"/><text transform="translate(677.3,77.84) scale(1,1.12)" font-size="13">8</text><text transform="translate(655,11.2) scale(1,1.12)" font-size="13">1e4</text></svg>
</body></html>
